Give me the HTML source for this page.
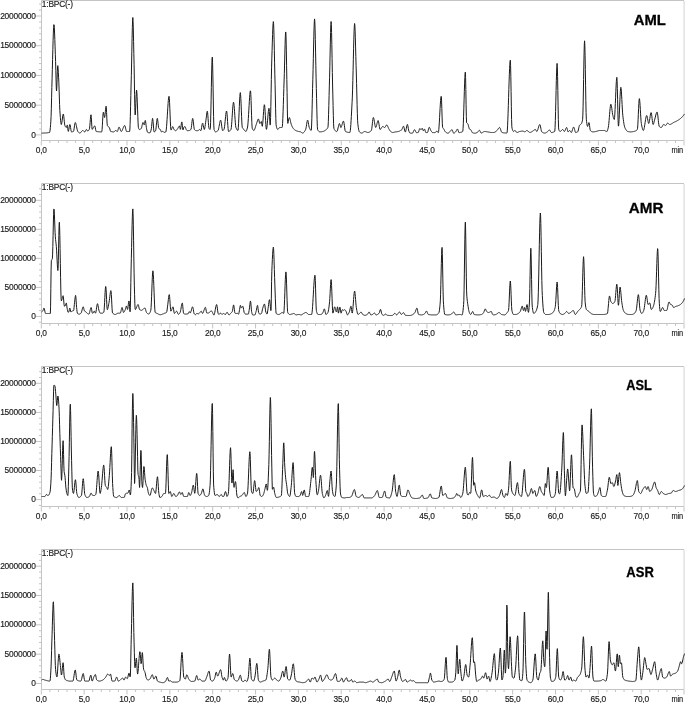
<!DOCTYPE html>
<html><head><meta charset="utf-8"><style>
html,body{margin:0;padding:0;background:#fff;}
svg{display:block;filter:grayscale(1) blur(0.3px);}
text{font-family:"Liberation Sans",sans-serif;font-size:8.4px;letter-spacing:-0.2px;fill:#1a1a1a;stroke:#1a1a1a;stroke-width:0.15px;}
text.b{letter-spacing:0;font-weight:bold;font-size:15.4px;fill:#000;stroke:#000;stroke-width:0.3px;}
</style></head><body>
<svg width="685" height="703" viewBox="0 0 685 703">
<path d="M684.1 1.00V140.00" fill="none" stroke="#e6e6e6" stroke-width="1.8"/>
<path d="M41.5 0.50H684M41.5 0.50V140.50H684" fill="none" stroke="#c4c4c4" stroke-width="1"/>
<path d="M36 134.90H41.5M39 128.96H41.5M39 123.01H41.5M39 117.06H41.5M39 111.12H41.5M36 105.18H41.5M39 99.23H41.5M39 93.28H41.5M39 87.34H41.5M39 81.40H41.5M36 75.45H41.5M39 69.50H41.5M39 63.56H41.5M39 57.62H41.5M39 51.67H41.5M36 45.72H41.5M39 39.78H41.5M39 33.84H41.5M39 27.89H41.5M39 21.94H41.5M36 16.00H41.5M39 10.06H41.5M39 4.11H41.5M41.30 140.50V145.50M49.87 140.50V143.00M58.44 140.50V143.00M67.01 140.50V143.00M75.58 140.50V143.00M84.15 140.50V145.50M92.72 140.50V143.00M101.29 140.50V143.00M109.86 140.50V143.00M118.43 140.50V143.00M127.00 140.50V145.50M135.57 140.50V143.00M144.14 140.50V143.00M152.71 140.50V143.00M161.28 140.50V143.00M169.85 140.50V145.50M178.42 140.50V143.00M186.99 140.50V143.00M195.56 140.50V143.00M204.13 140.50V143.00M212.70 140.50V145.50M221.27 140.50V143.00M229.84 140.50V143.00M238.41 140.50V143.00M246.98 140.50V143.00M255.55 140.50V145.50M264.12 140.50V143.00M272.69 140.50V143.00M281.26 140.50V143.00M289.83 140.50V143.00M298.40 140.50V145.50M306.97 140.50V143.00M315.54 140.50V143.00M324.11 140.50V143.00M332.68 140.50V143.00M341.25 140.50V145.50M349.82 140.50V143.00M358.39 140.50V143.00M366.96 140.50V143.00M375.53 140.50V143.00M384.10 140.50V145.50M392.67 140.50V143.00M401.24 140.50V143.00M409.81 140.50V143.00M418.38 140.50V143.00M426.95 140.50V145.50M435.52 140.50V143.00M444.09 140.50V143.00M452.66 140.50V143.00M461.23 140.50V143.00M469.80 140.50V145.50M478.37 140.50V143.00M486.94 140.50V143.00M495.51 140.50V143.00M504.08 140.50V143.00M512.65 140.50V145.50M521.22 140.50V143.00M529.79 140.50V143.00M538.36 140.50V143.00M546.93 140.50V143.00M555.50 140.50V145.50M564.07 140.50V143.00M572.64 140.50V143.00M581.21 140.50V143.00M589.78 140.50V143.00M598.35 140.50V145.50M606.92 140.50V143.00M615.49 140.50V143.00M624.06 140.50V143.00M632.63 140.50V143.00M641.20 140.50V145.50M649.77 140.50V143.00M658.34 140.50V143.00M666.91 140.50V143.00M675.48 140.50V143.00M684.05 140.50V145.50" stroke="#c4c4c4" stroke-width="1"/>
<text x="35.8" y="137.50" text-anchor="end">0</text>
<text x="35.8" y="107.78" text-anchor="end">5000000</text>
<text x="35.8" y="78.05" text-anchor="end">10000000</text>
<text x="35.8" y="48.32" text-anchor="end">15000000</text>
<text x="35.8" y="18.60" text-anchor="end">20000000</text>
<text x="41.30" y="153.10" text-anchor="middle">0,0</text>
<text x="84.15" y="153.10" text-anchor="middle">5,0</text>
<text x="127.00" y="153.10" text-anchor="middle">10,0</text>
<text x="169.85" y="153.10" text-anchor="middle">15,0</text>
<text x="212.70" y="153.10" text-anchor="middle">20,0</text>
<text x="255.55" y="153.10" text-anchor="middle">25,0</text>
<text x="298.40" y="153.10" text-anchor="middle">30,0</text>
<text x="341.25" y="153.10" text-anchor="middle">35,0</text>
<text x="384.10" y="153.10" text-anchor="middle">40,0</text>
<text x="426.95" y="153.10" text-anchor="middle">45,0</text>
<text x="469.80" y="153.10" text-anchor="middle">50,0</text>
<text x="512.65" y="153.10" text-anchor="middle">55,0</text>
<text x="555.50" y="153.10" text-anchor="middle">60,0</text>
<text x="598.35" y="153.10" text-anchor="middle">65,0</text>
<text x="641.20" y="153.10" text-anchor="middle">70,0</text>
<text x="671.6" y="153.10" textLength="11.4" lengthAdjust="spacingAndGlyphs">min</text>
<text x="41.8" y="6.90">1:BPC(-)</text>
<polyline points="41.59,133.1 41.84,133.1 42.09,133.1 42.34,133.1 42.59,133.1 42.84,133.1 43.09,133.1 43.34,133.1 43.59,133.0 43.84,133.0 44.09,133.0 44.34,133.0 44.59,133.0 44.84,133.0 45.09,133.0 45.34,133.0 45.59,133.0 45.84,132.9 46.09,132.9 46.34,132.9 46.59,132.9 46.84,132.9 47.09,132.8 47.34,132.8 47.59,132.8 47.84,132.7 48.09,132.7 48.34,132.7 48.59,132.6 48.84,132.6 49.09,132.6 49.34,132.5 49.59,132.5 49.84,131.8 50.09,130.1 50.34,127.7 50.59,124.7 50.84,121.2 51.09,116.6 51.34,108.3 51.59,97.8 51.84,87.5 52.09,78.8 52.34,69.4 52.59,59.4 52.84,49.7 53.09,40.7 53.34,33.1 53.59,27.5 53.84,24.6 54.09,24.8 54.34,27.9 54.59,33.0 54.84,39.6 55.09,46.9 55.34,54.3 55.59,61.4 55.84,70.7 56.09,81.1 56.34,89.0 56.59,91.0 56.84,86.9 57.09,79.5 57.34,71.7 57.59,66.3 57.84,65.6 58.09,68.1 58.34,72.3 58.59,77.2 58.84,82.2 59.09,89.1 59.34,97.0 59.59,104.5 59.84,110.3 60.09,114.0 60.34,117.3 60.59,120.2 60.84,122.5 61.09,124.0 61.34,124.5 61.59,123.9 61.84,122.7 62.09,120.9 62.34,119.0 62.59,117.0 62.84,115.4 63.09,114.3 63.34,114.0 63.59,114.8 63.84,116.7 64.09,119.2 64.34,121.7 64.59,123.9 64.84,125.3 65.09,125.9 65.34,126.5 65.59,126.9 65.84,127.2 66.09,127.4 66.34,127.5 66.59,127.0 66.84,126.1 67.09,125.3 67.34,125.2 67.59,126.5 67.84,128.8 68.09,130.8 68.34,131.4 68.59,130.8 68.84,129.5 69.09,127.9 69.34,126.3 69.59,125.1 69.84,124.5 70.09,124.9 70.34,126.0 70.59,127.6 70.84,129.3 71.09,130.8 71.34,131.7 71.59,131.9 71.84,131.9 72.09,131.8 72.34,131.8 72.59,131.7 72.84,131.7 73.09,131.6 73.34,131.5 73.59,131.3 73.84,130.4 74.09,128.8 74.34,127.0 74.59,125.2 74.84,123.7 75.09,122.7 75.34,122.5 75.59,122.9 75.84,123.5 76.09,124.5 76.34,125.6 76.59,126.8 76.84,128.0 77.09,129.2 77.34,130.2 77.59,131.0 77.84,131.5 78.09,131.8 78.34,132.1 78.59,132.3 78.84,132.6 79.09,132.8 79.34,132.9 79.59,133.0 79.84,133.1 80.09,133.0 80.34,132.9 80.59,132.7 80.84,132.4 81.09,132.1 81.34,131.8 81.59,131.4 81.84,131.1 82.09,130.9 82.34,130.7 82.59,130.5 82.84,130.5 83.09,130.5 83.34,130.7 83.59,130.9 83.84,131.2 84.09,131.5 84.34,131.7 84.59,131.8 84.84,131.9 85.09,131.7 85.34,131.3 85.59,130.7 85.84,130.2 86.09,129.7 86.34,129.5 86.59,129.6 86.84,129.8 87.09,130.2 87.34,130.7 87.59,131.0 87.84,131.1 88.09,131.0 88.34,130.8 88.59,130.5 88.84,130.2 89.09,129.7 89.34,129.2 89.59,128.2 89.84,125.8 90.09,122.8 90.34,119.5 90.59,116.7 90.84,114.9 91.09,114.8 91.34,117.6 91.59,122.0 91.84,126.4 92.09,129.2 92.34,129.4 92.59,129.1 92.84,128.6 93.09,128.0 93.34,127.6 93.59,127.2 93.84,126.8 94.09,126.4 94.34,126.1 94.59,125.9 94.84,125.9 95.09,126.6 95.34,127.9 95.59,129.3 95.84,130.6 96.09,131.4 96.34,131.5 96.59,131.5 96.84,131.6 97.09,131.6 97.34,131.6 97.59,131.7 97.84,131.7 98.09,131.7 98.34,131.7 98.59,131.8 98.84,131.8 99.09,131.8 99.34,131.8 99.59,131.8 99.84,131.8 100.09,131.8 100.34,131.9 100.59,131.9 100.84,131.9 101.09,131.9 101.34,131.9 101.59,131.9 101.84,131.7 102.09,129.6 102.34,125.8 102.59,121.2 102.84,116.8 103.09,113.5 103.34,112.2 103.59,112.7 103.84,114.2 104.09,115.8 104.34,117.1 104.59,117.5 104.84,116.5 105.09,114.4 105.34,111.8 105.59,109.2 105.84,107.2 106.09,106.2 106.34,107.7 106.59,112.3 106.84,118.1 107.09,123.2 107.34,125.5 107.59,125.9 107.84,126.3 108.09,126.5 108.34,126.6 108.59,126.8 108.84,127.0 109.09,127.2 109.34,127.5 109.59,128.1 109.84,129.0 110.09,130.0 110.34,130.8 110.59,131.4 110.84,131.5 111.09,131.6 111.34,131.6 111.59,131.7 111.84,131.7 112.09,131.8 112.34,131.8 112.59,131.8 112.84,131.8 113.09,131.9 113.34,131.9 113.59,131.9 113.84,131.9 114.09,131.7 114.34,131.5 114.59,131.3 114.84,131.0 115.09,130.8 115.34,130.6 115.59,130.5 115.84,130.5 116.09,130.6 116.34,130.8 116.59,131.1 116.84,131.3 117.09,131.4 117.34,131.5 117.59,131.1 117.84,130.5 118.09,129.6 118.34,128.7 118.59,127.9 118.84,127.3 119.09,127.1 119.34,127.3 119.59,127.7 119.84,128.3 120.09,129.0 120.34,129.8 120.59,130.5 120.84,131.0 121.09,131.4 121.34,131.5 121.59,131.3 121.84,131.0 122.09,130.6 122.34,130.1 122.59,129.5 122.84,128.8 123.09,128.2 123.34,127.5 123.59,126.9 123.84,126.4 124.09,125.9 124.34,125.6 124.59,125.5 124.84,125.6 125.09,126.2 125.34,127.1 125.59,128.2 125.84,129.3 126.09,130.3 126.34,131.1 126.59,131.5 126.84,131.5 127.09,131.5 127.34,131.5 127.59,131.5 127.84,131.5 128.09,131.5 128.34,131.5 128.59,131.5 128.84,131.5 129.09,131.5 129.34,131.5 129.59,131.5 129.84,130.0 130.09,124.6 130.34,116.3 130.59,106.2 130.84,95.4 131.09,85.0 131.34,75.5 131.59,64.0 131.84,51.2 132.09,38.5 132.34,27.7 132.59,20.1 132.84,17.5 133.09,21.3 133.34,30.0 133.59,41.5 133.84,53.6 134.09,64.8 134.34,79.1 134.59,94.5 134.84,107.6 135.09,115.0 135.34,114.6 135.59,110.1 135.84,103.7 136.09,97.0 136.34,91.9 136.59,90.1 136.84,92.0 137.09,96.6 137.34,102.9 137.59,109.9 137.84,116.6 138.09,122.9 138.34,127.3 138.59,128.2 138.84,128.9 139.09,129.3 139.34,129.5 139.59,129.5 139.84,129.5 140.09,129.4 140.34,129.2 140.59,129.1 140.84,128.8 141.09,128.6 141.34,128.4 141.59,127.7 141.84,126.7 142.09,125.5 142.34,124.3 142.59,123.3 142.84,122.6 143.09,122.5 143.34,123.0 143.59,123.7 143.84,124.4 144.09,124.8 144.34,124.7 144.59,123.6 144.84,122.1 145.09,120.8 145.34,120.4 145.59,121.3 145.84,123.2 146.09,125.4 146.34,127.4 146.59,128.8 146.84,129.9 147.09,131.0 147.34,131.8 147.59,132.3 147.84,132.4 148.09,132.5 148.34,132.6 148.59,132.7 148.84,132.7 149.09,132.7 149.34,132.8 149.59,132.8 149.84,132.8 150.09,132.8 150.34,132.4 150.59,131.8 150.84,130.9 151.09,130.0 151.34,128.8 151.59,126.6 151.84,123.9 152.09,121.3 152.34,119.3 152.59,118.4 152.84,119.3 153.09,121.7 153.34,125.0 153.59,128.2 153.84,130.8 154.09,131.9 154.34,131.9 154.59,131.8 154.84,131.6 155.09,131.3 155.34,131.1 155.59,130.7 155.84,129.8 156.09,127.9 156.34,125.4 156.59,122.8 156.84,120.5 157.09,118.9 157.34,118.4 157.59,119.3 157.84,121.2 158.09,123.5 158.34,125.8 158.59,127.6 158.84,128.4 159.09,128.7 159.34,128.9 159.59,129.0 159.84,129.1 160.09,129.3 160.34,129.5 160.59,130.0 160.84,130.7 161.09,131.3 161.34,131.8 161.59,131.9 161.84,131.8 162.09,131.7 162.34,131.5 162.59,131.4 162.84,131.3 163.09,131.4 163.34,131.7 163.59,132.0 163.84,132.3 164.09,132.4 164.34,132.4 164.59,132.3 164.84,132.3 165.09,132.2 165.34,132.1 165.59,132.0 165.84,131.9 166.09,131.0 166.34,129.1 166.59,126.4 166.84,123.0 167.09,119.2 167.34,115.2 167.59,111.1 167.84,107.2 168.09,103.5 168.34,100.4 168.59,98.1 168.84,96.6 169.09,96.3 169.34,98.3 169.59,102.7 169.84,108.5 170.09,114.9 170.34,121.1 170.59,126.2 170.84,129.4 171.09,130.1 171.34,129.8 171.59,129.2 171.84,128.5 172.09,127.8 172.34,127.2 172.59,126.7 172.84,126.6 173.09,127.0 173.34,127.7 173.59,128.5 173.84,129.2 174.09,129.6 174.34,129.9 174.59,130.1 174.84,130.3 175.09,130.5 175.34,130.6 175.59,130.7 175.84,130.7 176.09,130.6 176.34,130.4 176.59,130.1 176.84,129.8 177.09,129.4 177.34,129.1 177.59,128.8 177.84,128.4 178.09,128.0 178.34,127.5 178.59,127.0 178.84,126.6 179.09,126.2 179.34,126.0 179.59,126.1 179.84,127.1 180.09,128.5 180.34,129.4 180.59,129.1 180.84,127.8 181.09,125.8 181.34,123.9 181.59,122.4 181.84,121.9 182.09,123.1 182.34,125.3 182.59,127.8 182.84,129.7 183.09,130.0 183.34,129.3 183.59,128.1 183.84,127.3 184.09,127.0 184.34,126.9 184.59,126.7 184.84,126.6 185.09,126.6 185.34,126.9 185.59,127.6 185.84,128.5 186.09,129.3 186.34,129.7 186.59,130.1 186.84,130.4 187.09,130.6 187.34,130.7 187.59,130.7 187.84,130.7 188.09,130.7 188.34,130.6 188.59,130.6 188.84,130.6 189.09,130.5 189.34,130.5 189.59,130.4 189.84,130.3 190.09,130.2 190.34,130.0 190.59,129.8 190.84,129.6 191.09,129.0 191.34,127.6 191.59,125.6 191.84,123.4 192.09,121.2 192.34,119.5 192.59,118.5 192.84,118.6 193.09,119.8 193.34,121.7 193.59,124.0 193.84,126.3 194.09,128.2 194.34,129.4 194.59,129.7 194.84,130.0 195.09,130.2 195.34,130.4 195.59,130.5 195.84,130.6 196.09,130.7 196.34,130.7 196.59,130.7 196.84,130.7 197.09,130.7 197.34,130.7 197.59,130.7 197.84,130.7 198.09,130.7 198.34,130.5 198.59,130.3 198.84,130.1 199.09,129.8 199.34,129.6 199.59,129.5 199.84,129.6 200.09,129.8 200.34,130.2 200.59,130.6 200.84,130.7 201.09,130.2 201.34,129.1 201.59,127.6 201.84,126.0 202.09,124.6 202.34,123.5 202.59,123.1 202.84,123.4 203.09,124.4 203.34,125.7 203.59,127.1 203.84,128.3 204.09,129.2 204.34,129.5 204.59,129.0 204.84,128.0 205.09,126.4 205.34,124.6 205.59,122.7 205.84,120.8 206.09,119.1 206.34,117.2 206.59,115.1 206.84,113.0 207.09,111.6 207.34,111.2 207.59,112.5 207.84,115.2 208.09,118.6 208.34,122.3 208.59,125.5 208.84,127.7 209.09,128.5 209.34,128.9 209.59,129.2 209.84,129.4 210.09,129.5 210.34,128.6 210.59,122.8 210.84,113.0 211.09,100.8 211.34,87.6 211.59,75.1 211.84,64.8 212.09,58.3 212.34,57.1 212.59,62.9 212.84,73.9 213.09,88.1 213.34,103.0 213.59,116.4 213.84,126.0 214.09,129.6 214.34,130.2 214.59,130.8 214.84,131.2 215.09,131.6 215.34,131.8 215.59,131.9 215.84,131.9 216.09,131.8 216.34,131.7 216.59,131.6 216.84,131.5 217.09,131.3 217.34,131.1 217.59,130.9 217.84,130.7 218.09,130.4 218.34,129.9 218.59,128.9 218.84,127.8 219.09,126.4 219.34,125.0 219.59,123.6 219.84,122.3 220.09,121.2 220.34,120.5 220.59,120.1 220.84,120.4 221.09,121.5 221.34,123.1 221.59,125.0 221.84,126.9 222.09,128.6 222.34,129.9 222.59,130.5 222.84,130.4 223.09,130.3 223.34,130.2 223.59,129.9 223.84,129.7 224.09,129.3 224.34,128.2 224.59,126.4 224.84,124.2 225.09,121.7 225.34,119.1 225.59,116.6 225.84,114.4 226.09,112.5 226.34,111.3 226.59,111.0 226.84,112.0 227.09,114.4 227.34,117.8 227.59,121.6 227.84,125.3 228.09,128.6 228.34,130.8 228.59,131.5 228.84,131.4 229.09,131.4 229.34,131.2 229.59,131.1 229.84,130.9 230.09,130.6 230.34,130.3 230.59,130.0 230.84,129.7 231.09,129.1 231.34,127.4 231.59,124.8 231.84,121.5 232.09,117.8 232.34,113.9 232.59,110.2 232.84,106.9 233.09,104.3 233.34,102.6 233.59,102.2 233.84,103.2 234.09,105.3 234.34,108.3 234.59,111.8 234.84,115.6 235.09,119.4 235.34,122.7 235.59,125.4 235.84,127.2 236.09,127.9 236.34,128.5 236.59,129.0 236.84,129.5 237.09,129.9 237.34,130.2 237.59,130.4 237.84,130.5 238.09,130.0 238.34,127.4 238.59,123.3 238.84,118.1 239.09,112.3 239.34,106.4 239.59,101.0 239.84,96.5 240.09,93.6 240.34,92.6 240.59,94.4 240.84,98.4 241.09,103.9 241.34,110.2 241.59,116.5 241.84,122.0 242.09,125.9 242.34,127.6 242.59,128.0 242.84,128.4 243.09,128.7 243.34,128.9 243.59,129.2 243.84,129.4 244.09,129.7 244.34,130.0 244.59,130.4 244.84,130.7 245.09,131.0 245.34,131.2 245.59,131.4 245.84,131.5 246.09,131.4 246.34,131.1 246.59,130.5 246.84,129.8 247.09,129.0 247.34,128.1 247.59,127.0 247.84,125.0 248.09,122.1 248.34,118.5 248.59,114.4 248.84,110.1 249.09,105.7 249.34,101.5 249.59,97.7 249.84,94.5 250.09,92.1 250.34,90.8 250.59,91.1 250.84,94.6 251.09,100.6 251.34,108.1 251.59,115.8 251.84,122.5 252.09,127.1 252.34,128.7 252.59,129.2 252.84,129.6 253.09,130.0 253.34,130.2 253.59,130.4 253.84,130.5 254.09,130.4 254.34,130.0 254.59,129.5 254.84,128.9 255.09,128.1 255.34,127.3 255.59,126.5 255.84,125.7 256.09,124.9 256.34,124.3 256.59,123.5 256.84,122.7 257.09,121.9 257.34,121.0 257.59,120.3 257.84,119.7 258.09,119.2 258.34,118.9 258.59,119.1 258.84,119.8 259.09,121.0 259.34,122.2 259.59,123.1 259.84,123.5 260.09,123.4 260.34,123.0 260.59,122.6 260.84,122.1 261.09,121.7 261.34,121.5 261.59,122.0 261.84,124.1 262.09,126.1 262.34,126.3 262.59,124.9 262.84,122.3 263.09,119.0 263.34,115.3 263.59,111.6 263.84,108.4 264.09,105.9 264.34,104.7 264.59,105.1 264.84,107.5 265.09,111.2 265.34,115.6 265.59,120.3 265.84,124.5 266.09,127.8 266.34,129.4 266.59,129.2 266.84,127.9 267.09,125.9 267.34,123.2 267.59,120.2 267.84,117.2 268.09,114.2 268.34,111.6 268.59,109.6 268.84,108.4 269.09,108.4 269.34,111.6 269.59,116.7 269.84,121.8 270.09,125.1 270.34,124.3 270.59,117.6 270.84,106.7 271.09,93.3 271.34,79.5 271.59,67.2 271.84,58.2 272.09,50.2 272.34,42.1 272.59,34.5 272.84,28.1 273.09,23.6 273.34,21.6 273.59,23.3 273.84,29.6 274.09,39.2 274.34,50.7 274.59,62.8 274.84,74.2 275.09,84.3 275.34,96.0 275.59,108.2 275.84,118.5 276.09,124.7 276.34,126.3 276.59,127.3 276.84,128.1 277.09,128.7 277.34,129.2 277.59,129.4 277.84,129.5 278.09,129.3 278.34,129.1 278.59,128.7 278.84,128.4 279.09,128.0 279.34,127.7 279.59,127.5 279.84,127.5 280.09,127.5 280.34,127.5 280.59,127.5 280.84,127.5 281.09,127.5 281.34,127.5 281.59,127.5 281.84,127.5 282.09,127.5 282.34,126.7 282.59,123.5 282.84,118.4 283.09,111.8 283.34,104.3 283.59,96.4 283.84,88.4 284.09,81.0 284.34,73.5 284.59,64.0 284.84,53.9 285.09,44.4 285.34,36.7 285.59,32.1 285.84,32.0 286.09,39.0 286.34,50.9 286.59,65.3 286.84,79.3 287.09,92.7 287.34,109.1 287.59,121.3 287.84,123.4 288.09,122.7 288.34,121.5 288.59,120.1 288.84,118.8 289.09,117.9 289.34,117.5 289.59,117.8 289.84,118.5 290.09,119.4 290.34,120.5 290.59,121.7 290.84,122.8 291.09,123.8 291.34,124.6 291.59,125.2 291.84,125.8 292.09,126.4 292.34,126.9 292.59,127.4 292.84,127.8 293.09,128.2 293.34,128.5 293.59,128.8 293.84,129.1 294.09,129.3 294.34,129.6 294.59,129.8 294.84,130.0 295.09,130.1 295.34,130.3 295.59,130.4 295.84,130.5 296.09,130.7 296.34,130.8 296.59,130.9 296.84,130.9 297.09,131.0 297.34,131.1 297.59,131.2 297.84,131.3 298.09,131.3 298.34,131.4 298.59,131.5 298.84,131.5 299.09,131.6 299.34,131.6 299.59,131.6 299.84,131.7 300.09,131.7 300.34,131.8 300.59,131.8 300.84,131.9 301.09,132.1 301.34,132.3 301.59,132.5 301.84,132.7 302.09,132.9 302.34,133.0 302.59,133.1 302.84,133.1 303.09,133.0 303.34,132.8 303.59,132.6 303.84,132.4 304.09,132.1 304.34,131.8 304.59,131.4 304.84,131.0 305.09,130.6 305.34,130.1 305.59,129.6 305.84,128.9 306.09,127.8 306.34,126.3 306.59,124.7 306.84,123.1 307.09,121.7 307.34,120.6 307.59,120.1 307.84,120.4 308.09,121.3 308.34,122.7 308.59,124.3 308.84,125.8 309.09,127.0 309.34,127.7 309.59,128.3 309.84,128.8 310.09,129.3 310.34,129.7 310.59,130.1 310.84,130.3 311.09,130.5 311.34,130.0 311.59,126.0 311.84,118.7 312.09,109.2 312.34,98.7 312.59,88.3 312.84,79.2 313.09,69.6 313.34,58.5 313.59,47.0 313.84,36.2 314.09,27.2 314.34,21.1 314.59,18.9 314.84,21.8 315.09,29.2 315.34,39.7 315.59,52.1 315.84,65.3 316.09,77.8 316.34,88.5 316.59,98.3 316.84,109.2 317.09,119.3 317.34,126.7 317.59,129.5 317.84,130.0 318.09,130.5 318.34,130.8 318.59,131.1 318.84,131.4 319.09,131.6 319.34,131.7 319.59,131.8 319.84,131.9 320.09,131.9 320.34,131.9 320.59,131.8 320.84,131.8 321.09,131.8 321.34,131.8 321.59,131.7 321.84,131.7 322.09,131.6 322.34,131.6 322.59,131.5 322.84,131.5 323.09,131.4 323.34,131.4 323.59,131.3 323.84,131.2 324.09,131.1 324.34,130.9 324.59,130.8 324.84,130.6 325.09,130.4 325.34,130.3 325.59,130.1 325.84,129.9 326.09,129.7 326.34,129.5 326.59,129.3 326.84,129.1 327.09,128.8 327.34,128.5 327.59,128.2 327.84,127.7 328.09,126.2 328.34,121.5 328.59,114.2 328.84,105.3 329.09,95.5 329.34,85.9 329.59,77.2 329.84,66.8 330.09,54.9 330.34,42.9 330.59,32.4 330.84,24.7 331.09,21.5 331.34,24.3 331.59,32.5 331.84,44.6 332.09,58.5 332.34,72.6 332.59,85.0 332.84,94.9 333.09,105.4 333.34,115.6 333.59,123.8 333.84,128.2 334.09,128.9 334.34,129.4 334.59,129.8 334.84,130.2 335.09,130.5 335.34,130.8 335.59,131.0 335.84,131.2 336.09,131.3 336.34,131.4 336.59,131.5 336.84,131.5 337.09,131.3 337.34,130.8 337.59,130.0 337.84,129.0 338.09,127.9 338.34,126.8 338.59,125.7 338.84,124.7 339.09,124.0 339.34,123.6 339.59,123.6 339.84,124.2 340.09,125.1 340.34,126.2 340.59,127.1 340.84,127.5 341.09,127.4 341.34,126.9 341.59,126.3 341.84,125.5 342.09,124.6 342.34,123.7 342.59,122.8 342.84,122.0 343.09,121.5 343.34,121.2 343.59,121.2 343.84,122.1 344.09,123.5 344.34,125.3 344.59,127.2 344.84,129.0 345.09,130.4 345.34,131.3 345.59,131.5 345.84,131.7 346.09,131.8 346.34,131.9 346.59,131.9 346.84,132.0 347.09,132.1 347.34,132.2 347.59,132.2 347.84,132.3 348.09,132.3 348.34,132.4 348.59,132.4 348.84,132.4 349.09,132.4 349.34,132.5 349.59,132.5 349.84,132.5 350.09,131.9 350.34,130.3 350.59,127.9 350.84,124.7 351.09,120.8 351.34,116.6 351.59,112.0 351.84,107.1 352.09,102.3 352.34,97.1 352.59,89.9 352.84,80.7 353.09,70.3 353.34,59.4 353.59,48.8 353.84,39.2 354.09,31.3 354.34,25.8 354.59,23.5 354.84,25.1 355.09,30.2 355.34,37.8 355.59,46.9 355.84,56.5 356.09,65.7 356.34,74.0 356.59,83.6 356.84,94.0 357.09,104.3 357.34,113.3 357.59,120.2 357.84,123.8 358.09,125.9 358.34,127.7 358.59,129.2 358.84,130.4 359.09,131.3 359.34,131.8 359.59,132.1 359.84,132.3 360.09,132.5 360.34,132.6 360.59,132.8 360.84,132.9 361.09,133.0 361.34,133.0 361.59,133.1 361.84,133.1 362.09,133.0 362.34,132.9 362.59,132.8 362.84,132.6 363.09,132.4 363.34,132.2 363.59,132.0 363.84,131.8 364.09,131.7 364.34,131.6 364.59,131.5 364.84,131.5 365.09,131.5 365.34,131.6 365.59,131.7 365.84,131.8 366.09,131.9 366.34,132.0 366.59,132.1 366.84,132.2 367.09,132.3 367.34,132.4 367.59,132.5 367.84,132.5 368.09,132.5 368.34,132.4 368.59,132.4 368.84,132.3 369.09,132.2 369.34,132.1 369.59,132.0 369.84,131.8 370.09,131.6 370.34,131.4 370.59,131.2 370.84,131.0 371.09,130.8 371.34,130.5 371.59,129.8 371.84,128.2 372.09,126.1 372.34,123.8 372.59,121.5 372.84,119.5 373.09,118.1 373.34,117.5 373.59,117.8 373.84,118.6 374.09,119.8 374.34,121.3 374.59,122.8 374.84,124.4 375.09,125.7 375.34,126.8 375.59,127.4 375.84,127.4 376.09,127.1 376.34,126.4 376.59,125.4 376.84,124.4 377.09,123.3 377.34,122.3 377.59,121.4 377.84,120.8 378.09,120.5 378.34,120.8 378.59,121.8 378.84,123.2 379.09,124.8 379.34,126.5 379.59,127.9 379.84,129.0 380.09,129.5 380.34,129.4 380.59,129.2 380.84,128.9 381.09,128.5 381.34,128.1 381.59,127.7 381.84,127.3 382.09,126.9 382.34,126.7 382.59,126.5 382.84,126.5 383.09,126.6 383.34,126.7 383.59,126.9 383.84,127.1 384.09,127.3 384.34,127.4 384.59,127.5 384.84,127.5 385.09,127.2 385.34,126.9 385.59,126.4 385.84,125.9 386.09,125.5 386.34,125.1 386.59,124.9 386.84,124.9 387.09,125.2 387.34,125.6 387.59,126.1 387.84,126.6 388.09,127.2 388.34,127.8 388.59,128.3 388.84,128.8 389.09,129.2 389.34,129.6 389.59,130.1 389.84,130.5 390.09,130.8 390.34,131.2 390.59,131.4 390.84,131.6 391.09,131.8 391.34,132.0 391.59,132.1 391.84,132.2 392.09,132.4 392.34,132.4 392.59,132.5 392.84,132.5 393.09,132.4 393.34,132.4 393.59,132.4 393.84,132.3 394.09,132.2 394.34,132.2 394.59,132.1 394.84,132.1 395.09,132.0 395.34,131.9 395.59,131.9 395.84,131.8 396.09,131.8 396.34,131.8 396.59,131.8 396.84,131.7 397.09,131.7 397.34,131.7 397.59,131.6 397.84,131.6 398.09,131.6 398.34,131.5 398.59,131.5 398.84,131.4 399.09,131.3 399.34,131.2 399.59,131.0 399.84,130.9 400.09,130.8 400.34,130.6 400.59,130.5 400.84,130.4 401.09,130.2 401.34,130.1 401.59,129.9 401.84,129.7 402.09,129.2 402.34,128.6 402.59,127.9 402.84,127.2 403.09,126.7 403.34,126.3 403.59,126.2 403.84,126.7 404.09,127.6 404.34,128.8 404.59,130.0 404.84,131.0 405.09,131.8 405.34,132.0 405.59,131.6 405.84,130.8 406.09,129.6 406.34,128.3 406.59,126.9 406.84,125.8 407.09,124.9 407.34,124.4 407.59,124.6 407.84,125.6 408.09,127.0 408.34,128.6 408.59,130.0 408.84,130.9 409.09,131.6 409.34,132.2 409.59,132.7 409.84,133.0 410.09,133.0 410.34,133.1 410.59,133.1 410.84,133.1 411.09,133.2 411.34,133.2 411.59,133.2 411.84,133.2 412.09,133.2 412.34,133.2 412.59,133.1 412.84,132.7 413.09,132.3 413.34,131.7 413.59,131.1 413.84,130.6 414.09,130.1 414.34,129.8 414.59,129.7 414.84,129.8 415.09,130.2 415.34,130.8 415.59,131.4 415.84,131.9 416.09,132.4 416.34,132.6 416.59,132.6 416.84,132.6 417.09,132.6 417.34,132.6 417.59,132.6 417.84,132.6 418.09,132.6 418.34,132.4 418.59,131.9 418.84,131.1 419.09,130.3 419.34,129.5 419.59,128.8 419.84,128.5 420.09,128.6 420.34,128.9 420.59,129.3 420.84,129.6 421.09,129.7 421.34,129.4 421.59,129.0 421.84,128.6 422.09,128.3 422.34,128.4 422.59,128.9 422.84,129.7 423.09,130.4 423.34,130.8 423.59,130.7 423.84,130.2 424.09,129.6 424.34,129.2 424.59,129.1 424.84,129.6 425.09,130.4 425.34,131.4 425.59,132.1 425.84,132.6 426.09,132.6 426.34,132.6 426.59,132.6 426.84,132.6 427.09,132.6 427.34,132.6 427.59,132.4 427.84,131.8 428.09,130.9 428.34,129.8 428.59,128.7 428.84,127.9 429.09,127.4 429.34,127.3 429.59,127.6 429.84,128.1 430.09,128.7 430.34,129.4 430.59,130.0 430.84,130.5 431.09,130.9 431.34,131.3 431.59,131.6 431.84,132.0 432.09,132.3 432.34,132.5 432.59,132.6 432.84,132.6 433.09,132.6 433.34,132.6 433.59,132.6 433.84,132.6 434.09,132.6 434.34,132.6 434.59,132.6 434.84,132.6 435.09,132.6 435.34,132.5 435.59,132.2 435.84,131.9 436.09,131.6 436.34,131.3 436.59,131.2 436.84,131.1 437.09,131.2 437.34,131.5 437.59,131.9 437.84,132.3 438.09,132.5 438.34,132.6 438.59,131.6 438.84,129.4 439.09,126.1 439.34,122.1 439.59,117.6 439.84,113.0 440.09,108.4 440.34,104.1 440.59,100.5 440.84,97.8 441.09,96.3 441.34,96.6 441.59,101.1 441.84,108.6 442.09,116.9 442.34,123.8 442.59,127.3 442.84,127.8 443.09,128.2 443.34,128.5 443.59,128.8 443.84,129.2 444.09,129.6 444.34,130.1 444.59,130.6 444.84,131.1 445.09,131.5 445.34,131.8 445.59,132.1 445.84,132.3 446.09,132.4 446.34,132.6 446.59,132.8 446.84,132.9 447.09,133.0 447.34,133.1 447.59,133.2 447.84,133.2 448.09,133.2 448.34,133.1 448.59,132.9 448.84,132.7 449.09,132.5 449.34,132.2 449.59,132.0 449.84,131.8 450.09,131.5 450.34,131.2 450.59,130.9 450.84,130.6 451.09,130.3 451.34,130.0 451.59,129.8 451.84,129.7 452.09,129.7 452.34,130.1 452.59,130.7 452.84,131.4 453.09,132.2 453.34,132.8 453.59,133.2 453.84,133.2 454.09,133.1 454.34,133.0 454.59,132.8 454.84,132.6 455.09,132.4 455.34,132.2 455.59,131.9 455.84,131.6 456.09,131.1 456.34,130.6 456.59,130.2 456.84,129.7 457.09,129.4 457.34,129.1 457.59,129.1 457.84,129.5 458.09,130.3 458.34,131.1 458.59,131.9 458.84,132.5 459.09,132.6 459.34,132.6 459.59,132.6 459.84,132.5 460.09,132.5 460.34,132.4 460.59,132.4 460.84,132.3 461.09,132.3 461.34,132.2 461.59,132.1 461.84,132.0 462.09,131.9 462.34,131.8 462.59,131.6 462.84,131.2 463.09,128.3 463.34,123.2 463.59,116.2 463.84,108.2 464.09,99.8 464.34,91.4 464.59,83.9 464.84,77.7 465.09,73.6 465.34,72.1 465.59,77.3 465.84,89.5 466.09,104.2 466.34,116.7 466.59,122.7 466.84,123.0 467.09,123.2 467.34,123.4 467.59,123.6 467.84,123.9 468.09,124.4 468.34,125.3 468.59,126.3 468.84,127.3 469.09,128.2 469.34,128.9 469.59,129.2 469.84,129.3 470.09,129.4 470.34,129.5 470.59,129.6 470.84,129.8 471.09,130.2 471.34,130.7 471.59,131.3 471.84,131.8 472.09,132.3 472.34,132.6 472.59,132.7 472.84,132.8 473.09,132.9 473.34,133.0 473.59,133.0 473.84,133.1 474.09,133.1 474.34,133.2 474.59,133.2 474.84,133.2 475.09,133.2 475.34,133.2 475.59,133.1 475.84,133.1 476.09,133.0 476.34,132.9 476.59,132.8 476.84,132.7 477.09,132.6 477.34,132.5 477.59,132.2 477.84,131.9 478.09,131.6 478.34,131.2 478.59,130.9 478.84,130.6 479.09,130.4 479.34,130.3 479.59,130.4 479.84,130.7 480.09,131.1 480.34,131.7 480.59,132.2 480.84,132.7 481.09,133.0 481.34,133.1 481.59,133.0 481.84,132.9 482.09,132.8 482.34,132.7 482.59,132.5 482.84,132.4 483.09,132.2 483.34,132.0 483.59,131.8 483.84,131.7 484.09,131.6 484.34,131.5 484.59,131.5 484.84,131.5 485.09,131.5 485.34,131.5 485.59,131.5 485.84,131.6 486.09,131.6 486.34,131.7 486.59,131.7 486.84,131.7 487.09,131.8 487.34,131.8 487.59,131.9 487.84,131.9 488.09,131.9 488.34,132.0 488.59,132.0 488.84,132.1 489.09,132.1 489.34,132.2 489.59,132.2 489.84,132.3 490.09,132.3 490.34,132.4 490.59,132.4 490.84,132.4 491.09,132.4 491.34,132.5 491.59,132.5 491.84,132.5 492.09,132.5 492.34,132.5 492.59,132.5 492.84,132.5 493.09,132.5 493.34,132.5 493.59,132.5 493.84,132.5 494.09,132.5 494.34,132.4 494.59,132.3 494.84,132.2 495.09,132.1 495.34,131.9 495.59,131.7 495.84,131.5 496.09,131.3 496.34,131.0 496.59,130.8 496.84,130.6 497.09,130.4 497.34,130.1 497.59,129.7 497.84,129.4 498.09,129.0 498.34,128.6 498.59,128.2 498.84,127.9 499.09,127.7 499.34,127.5 499.59,127.5 499.84,127.7 500.09,128.1 500.34,128.7 500.59,129.4 500.84,130.2 501.09,130.9 501.34,131.6 501.59,132.1 501.84,132.4 502.09,132.5 502.34,132.6 502.59,132.6 502.84,132.7 503.09,132.7 503.34,132.8 503.59,132.8 503.84,132.8 504.09,132.9 504.34,132.9 504.59,132.9 504.84,133.0 505.09,133.0 505.34,133.0 505.59,133.0 505.84,133.0 506.09,133.1 506.34,133.1 506.59,133.1 506.84,133.1 507.09,132.6 507.34,130.1 507.59,125.8 507.84,120.1 508.09,113.2 508.34,105.6 508.59,97.6 508.84,89.6 509.09,81.9 509.34,74.8 509.59,68.8 509.84,64.1 510.09,61.1 510.34,60.2 510.59,65.3 510.84,76.7 511.09,91.5 511.34,106.8 511.59,119.5 511.84,126.8 512.09,128.3 512.34,129.3 512.59,130.1 512.84,130.7 513.09,131.2 513.34,131.4 513.59,131.5 513.84,131.3 514.09,131.1 514.34,130.8 514.59,130.6 514.84,130.5 515.09,130.5 515.34,130.7 515.59,131.0 515.84,131.4 516.09,131.8 516.34,132.1 516.59,132.3 516.84,132.5 517.09,132.5 517.34,132.4 517.59,132.4 517.84,132.3 518.09,132.2 518.34,132.1 518.59,131.9 518.84,131.8 519.09,131.7 519.34,131.6 519.59,131.5 519.84,131.5 520.09,131.4 520.34,131.4 520.59,131.3 520.84,131.3 521.09,131.2 521.34,131.2 521.59,131.2 521.84,131.1 522.09,131.1 522.34,131.1 522.59,131.1 522.84,131.1 523.09,131.1 523.34,131.2 523.59,131.3 523.84,131.5 524.09,131.6 524.34,131.7 524.59,131.8 524.84,131.9 525.09,131.8 525.34,131.7 525.59,131.4 525.84,131.2 526.09,130.9 526.34,130.7 526.59,130.5 526.84,130.5 527.09,130.5 527.34,130.6 527.59,130.8 527.84,131.0 528.09,131.2 528.34,131.5 528.59,131.7 528.84,132.0 529.09,132.2 529.34,132.3 529.59,132.4 529.84,132.5 530.09,132.5 530.34,132.4 530.59,132.3 530.84,132.2 531.09,132.1 531.34,132.0 531.59,131.8 531.84,131.7 532.09,131.5 532.34,131.4 532.59,131.2 532.84,131.1 533.09,130.9 533.34,130.7 533.59,130.5 533.84,130.3 534.09,130.1 534.34,129.9 534.59,129.8 534.84,129.6 535.09,129.5 535.34,129.5 535.59,129.6 535.84,129.9 536.09,130.4 536.34,130.9 536.59,131.3 536.84,131.5 537.09,131.3 537.34,130.9 537.59,130.3 537.84,129.6 538.09,128.7 538.34,127.9 538.59,127.0 538.84,126.2 539.09,125.5 539.34,124.9 539.59,124.6 539.84,124.5 540.09,124.9 540.34,125.8 540.59,126.9 540.84,128.2 541.09,129.6 541.34,130.7 541.59,131.5 541.84,131.9 542.09,132.1 542.34,132.3 542.59,132.4 542.84,132.5 543.09,132.7 543.34,132.8 543.59,132.9 543.84,132.9 544.09,133.0 544.34,133.0 544.59,133.1 544.84,133.1 545.09,133.0 545.34,133.0 545.59,132.9 545.84,132.8 546.09,132.6 546.34,132.5 546.59,132.3 546.84,132.2 547.09,132.0 547.34,131.8 547.59,131.6 547.84,131.4 548.09,131.2 548.34,130.8 548.59,130.5 548.84,130.2 549.09,130.0 549.34,129.9 549.59,130.0 549.84,130.3 550.09,130.7 550.34,131.1 550.59,131.6 550.84,132.0 551.09,132.3 551.34,132.5 551.59,132.5 551.84,132.5 552.09,132.4 552.34,132.4 552.59,132.3 552.84,132.3 553.09,132.2 553.34,132.1 553.59,132.0 553.84,131.9 554.09,131.8 554.34,131.7 554.59,131.6 554.84,131.1 555.09,127.3 555.34,120.5 555.59,111.4 555.84,101.2 556.09,90.6 556.34,80.6 556.59,72.1 556.84,66.1 557.09,63.4 557.34,66.5 557.59,76.5 557.84,90.7 558.09,105.9 558.34,119.3 558.59,127.9 558.84,129.8 559.09,130.4 559.34,130.8 559.59,131.2 559.84,131.4 560.09,131.5 560.34,131.4 560.59,131.3 560.84,131.1 561.09,130.8 561.34,130.6 561.59,130.3 561.84,130.0 562.09,129.8 562.34,129.6 562.59,129.5 562.84,129.5 563.09,129.8 563.34,130.2 563.59,130.6 563.84,131.1 564.09,131.4 564.34,131.5 564.59,131.3 564.84,131.0 565.09,130.5 565.34,129.9 565.59,129.2 565.84,128.6 566.09,128.1 566.34,127.7 566.59,127.5 566.84,127.6 567.09,128.4 567.34,129.5 567.59,130.6 567.84,131.5 568.09,131.9 568.34,131.8 568.59,131.5 568.84,131.2 569.09,130.9 569.34,130.6 569.59,130.5 569.84,130.5 570.09,130.8 570.34,131.2 570.59,131.7 570.84,132.1 571.09,132.4 571.34,132.5 571.59,132.2 571.84,131.7 572.09,131.0 572.34,130.2 572.59,129.4 572.84,128.6 573.09,127.9 573.34,127.4 573.59,127.1 573.84,127.2 574.09,127.7 574.34,128.5 574.59,129.5 574.84,130.5 575.09,131.4 575.34,132.1 575.59,132.5 575.84,132.5 576.09,132.4 576.34,132.4 576.59,132.3 576.84,132.2 577.09,132.1 577.34,132.0 577.59,131.9 577.84,131.6 578.09,131.0 578.34,130.0 578.59,128.9 578.84,127.7 579.09,126.6 579.34,125.7 579.59,125.2 579.84,124.9 580.09,124.7 580.34,124.6 580.59,124.4 580.84,124.3 581.09,124.1 581.34,123.8 581.59,123.3 581.84,122.7 582.09,121.9 582.34,120.9 582.59,119.7 582.84,115.9 583.09,106.8 583.34,94.0 583.59,79.5 583.84,65.1 584.09,52.6 584.34,43.9 584.59,40.8 584.84,45.1 585.09,55.4 585.34,69.6 585.59,85.3 585.84,100.3 586.09,112.4 586.34,119.2 586.59,121.6 586.84,123.6 587.09,125.2 587.34,126.2 587.59,126.5 587.84,126.1 588.09,125.2 588.34,124.2 588.59,123.2 588.84,122.6 589.09,122.7 589.34,123.9 589.59,125.7 589.84,127.8 590.09,129.5 590.34,130.5 590.59,130.7 590.84,131.0 591.09,131.2 591.34,131.3 591.59,131.5 591.84,131.6 592.09,131.7 592.34,131.8 592.59,131.8 592.84,131.9 593.09,131.9 593.34,131.9 593.59,131.8 593.84,131.8 594.09,131.8 594.34,131.8 594.59,131.7 594.84,131.7 595.09,131.6 595.34,131.6 595.59,131.5 595.84,131.5 596.09,131.4 596.34,131.4 596.59,131.3 596.84,131.2 597.09,131.2 597.34,131.1 597.59,131.0 597.84,130.9 598.09,130.8 598.34,130.8 598.59,130.7 598.84,130.6 599.09,130.6 599.34,130.5 599.59,130.5 599.84,130.5 600.09,130.5 600.34,130.5 600.59,130.5 600.84,130.5 601.09,130.5 601.34,130.5 601.59,130.5 601.84,130.5 602.09,130.5 602.34,130.5 602.59,130.5 602.84,130.5 603.09,130.5 603.34,130.5 603.59,130.5 603.84,130.5 604.09,130.5 604.34,130.5 604.59,130.6 604.84,130.7 605.09,130.8 605.34,130.9 605.59,131.1 605.84,131.2 606.09,131.3 606.34,131.4 606.59,131.4 606.84,131.5 607.09,131.4 607.34,130.9 607.59,130.2 607.84,129.3 608.09,128.3 608.34,127.2 608.59,125.6 608.84,123.3 609.09,120.5 609.34,117.5 609.59,114.4 609.84,111.3 610.09,108.6 610.34,106.4 610.59,104.8 610.84,104.2 611.09,104.5 611.34,105.5 611.59,106.9 611.84,108.7 612.09,110.6 612.34,112.5 612.59,114.2 612.84,115.4 613.09,116.4 613.34,117.4 613.59,118.3 613.84,119.0 614.09,119.4 614.34,119.4 614.59,117.6 614.84,114.1 615.09,109.3 615.34,103.6 615.59,97.5 615.84,91.5 616.09,86.0 616.34,81.5 616.59,78.5 616.84,77.3 617.09,80.3 617.34,88.4 617.59,99.3 617.84,110.7 618.09,120.3 618.34,125.9 618.59,126.1 618.84,123.6 619.09,119.4 619.34,114.1 619.59,108.0 619.84,101.9 620.09,96.3 620.34,91.6 620.59,88.4 620.84,87.3 621.09,88.3 621.34,91.0 621.59,94.9 621.84,99.5 622.09,104.4 622.34,109.0 622.59,112.9 622.84,115.7 623.09,117.7 623.34,119.7 623.59,121.5 623.84,123.2 624.09,124.6 624.34,125.9 624.59,126.8 624.84,127.5 625.09,128.1 625.34,128.6 625.59,129.1 625.84,129.5 626.09,129.9 626.34,130.3 626.59,130.6 626.84,130.9 627.09,131.1 627.34,131.3 627.59,131.4 627.84,131.5 628.09,131.5 628.34,131.6 628.59,131.6 628.84,131.7 629.09,131.7 629.34,131.8 629.59,131.8 629.84,131.8 630.09,131.8 630.34,131.9 630.59,131.9 630.84,131.9 631.09,131.9 631.34,131.9 631.59,131.8 631.84,131.8 632.09,131.8 632.34,131.7 632.59,131.7 632.84,131.7 633.09,131.6 633.34,131.6 633.59,131.5 633.84,131.5 634.09,131.4 634.34,131.3 634.59,131.3 634.84,131.2 635.09,131.1 635.34,131.0 635.59,130.9 635.84,130.8 636.09,130.6 636.34,130.4 636.59,130.3 636.84,130.0 637.09,129.8 637.34,129.5 637.59,128.2 637.84,124.8 638.09,119.9 638.34,114.3 638.59,108.6 638.84,103.7 639.09,100.1 639.34,98.6 639.59,99.4 639.84,101.8 640.09,105.3 640.34,109.4 640.59,113.8 640.84,117.9 641.09,121.3 641.34,123.4 641.59,124.8 641.84,126.1 642.09,127.3 642.34,128.3 642.59,129.2 642.84,129.9 643.09,130.3 643.34,130.5 643.59,130.3 643.84,129.6 644.09,128.6 644.34,127.4 644.59,125.9 644.84,124.3 645.09,122.7 645.34,121.0 645.59,119.5 645.84,118.1 646.09,116.9 646.34,116.1 646.59,115.6 646.84,115.6 647.09,116.2 647.34,117.3 647.59,118.7 647.84,120.2 648.09,121.6 648.34,122.7 648.59,123.4 648.84,123.4 649.09,122.8 649.34,121.7 649.59,120.2 649.84,118.6 650.09,116.8 650.34,115.2 650.59,113.9 650.84,112.9 651.09,112.6 651.34,113.0 651.59,114.3 651.84,116.2 652.09,118.4 652.34,120.6 652.59,122.5 652.84,123.9 653.09,124.5 653.34,124.3 653.59,123.7 653.84,122.9 654.09,121.9 654.34,120.8 654.59,119.9 654.84,119.0 655.09,118.1 655.34,117.1 655.59,116.0 655.84,115.0 656.09,114.0 656.34,113.2 656.59,112.5 656.84,112.1 657.09,112.0 657.34,112.5 657.59,113.8 657.84,115.8 658.09,118.1 658.34,120.5 658.59,122.8 658.84,124.7 659.09,126.0 659.34,126.5 659.59,126.8 659.84,127.0 660.09,127.1 660.34,127.3 660.59,127.4 660.84,127.4 661.09,127.5 661.34,127.5 661.59,127.3 661.84,127.1 662.09,126.7 662.34,126.2 662.59,125.8 662.84,125.3 663.09,124.9 663.34,124.6 663.59,124.5 663.84,124.5 664.09,124.6 664.34,124.8 664.59,124.9 664.84,125.1 665.09,125.3 665.34,125.4 665.59,125.5 665.84,125.4 666.09,125.2 666.34,124.8 666.59,124.4 666.84,124.0 667.09,123.6 667.34,123.3 667.59,123.1 667.84,123.1 668.09,123.3 668.34,123.5 668.59,123.8 668.84,124.0 669.09,124.2 669.34,124.4 669.59,124.5 669.84,124.5 670.09,124.5 670.34,124.4 670.59,124.3 670.84,124.2 671.09,124.1 671.34,123.9 671.59,123.8 671.84,123.6 672.09,123.5 672.34,123.3 672.59,123.1 672.84,123.0 673.09,122.8 673.34,122.7 673.59,122.5 673.84,122.4 674.09,122.3 674.34,122.2 674.59,122.0 674.84,121.9 675.09,121.8 675.34,121.7 675.59,121.6 675.84,121.5 676.09,121.3 676.34,121.2 676.59,121.1 676.84,121.0 677.09,120.8 677.34,120.7 677.59,120.5 677.84,120.4 678.09,120.2 678.34,120.1 678.59,119.9 678.84,119.7 679.09,119.6 679.34,119.4 679.59,119.2 679.84,119.0 680.09,118.8 680.34,118.6 680.59,118.4 680.84,118.2 681.09,118.0 681.34,117.8 681.59,117.5 681.84,117.3 682.09,117.0 682.34,116.8 682.59,116.5 682.84,116.2 683.09,115.9 683.34,115.6 683.59,115.3 683.84,114.9 684.09,114.6 684.34,114.3 684.57,113.9" fill="none" stroke="#1a1a1a" stroke-width="1" stroke-linejoin="round"/>
<path d="M684.1 184.00V323.00" fill="none" stroke="#e6e6e6" stroke-width="1.8"/>
<path d="M41.5 183.50H684M41.5 183.50V323.50H684" fill="none" stroke="#c4c4c4" stroke-width="1"/>
<path d="M39 322.20H41.5M36 316.40H41.5M39 310.59H41.5M39 304.79H41.5M39 298.98H41.5M39 293.18H41.5M36 287.38H41.5M39 281.57H41.5M39 275.76H41.5M39 269.96H41.5M39 264.15H41.5M36 258.35H41.5M39 252.54H41.5M39 246.74H41.5M39 240.93H41.5M39 235.13H41.5M36 229.32H41.5M39 223.52H41.5M39 217.71H41.5M39 211.91H41.5M39 206.10H41.5M36 200.30H41.5M39 194.49H41.5M39 188.69H41.5M41.30 323.50V328.50M49.87 323.50V326.00M58.44 323.50V326.00M67.01 323.50V326.00M75.58 323.50V326.00M84.15 323.50V328.50M92.72 323.50V326.00M101.29 323.50V326.00M109.86 323.50V326.00M118.43 323.50V326.00M127.00 323.50V328.50M135.57 323.50V326.00M144.14 323.50V326.00M152.71 323.50V326.00M161.28 323.50V326.00M169.85 323.50V328.50M178.42 323.50V326.00M186.99 323.50V326.00M195.56 323.50V326.00M204.13 323.50V326.00M212.70 323.50V328.50M221.27 323.50V326.00M229.84 323.50V326.00M238.41 323.50V326.00M246.98 323.50V326.00M255.55 323.50V328.50M264.12 323.50V326.00M272.69 323.50V326.00M281.26 323.50V326.00M289.83 323.50V326.00M298.40 323.50V328.50M306.97 323.50V326.00M315.54 323.50V326.00M324.11 323.50V326.00M332.68 323.50V326.00M341.25 323.50V328.50M349.82 323.50V326.00M358.39 323.50V326.00M366.96 323.50V326.00M375.53 323.50V326.00M384.10 323.50V328.50M392.67 323.50V326.00M401.24 323.50V326.00M409.81 323.50V326.00M418.38 323.50V326.00M426.95 323.50V328.50M435.52 323.50V326.00M444.09 323.50V326.00M452.66 323.50V326.00M461.23 323.50V326.00M469.80 323.50V328.50M478.37 323.50V326.00M486.94 323.50V326.00M495.51 323.50V326.00M504.08 323.50V326.00M512.65 323.50V328.50M521.22 323.50V326.00M529.79 323.50V326.00M538.36 323.50V326.00M546.93 323.50V326.00M555.50 323.50V328.50M564.07 323.50V326.00M572.64 323.50V326.00M581.21 323.50V326.00M589.78 323.50V326.00M598.35 323.50V328.50M606.92 323.50V326.00M615.49 323.50V326.00M624.06 323.50V326.00M632.63 323.50V326.00M641.20 323.50V328.50M649.77 323.50V326.00M658.34 323.50V326.00M666.91 323.50V326.00M675.48 323.50V326.00M684.05 323.50V328.50" stroke="#c4c4c4" stroke-width="1"/>
<text x="35.8" y="319.00" text-anchor="end">0</text>
<text x="35.8" y="289.98" text-anchor="end">5000000</text>
<text x="35.8" y="260.95" text-anchor="end">10000000</text>
<text x="35.8" y="231.92" text-anchor="end">15000000</text>
<text x="35.8" y="202.90" text-anchor="end">20000000</text>
<text x="41.30" y="336.10" text-anchor="middle">0,0</text>
<text x="84.15" y="336.10" text-anchor="middle">5,0</text>
<text x="127.00" y="336.10" text-anchor="middle">10,0</text>
<text x="169.85" y="336.10" text-anchor="middle">15,0</text>
<text x="212.70" y="336.10" text-anchor="middle">20,0</text>
<text x="255.55" y="336.10" text-anchor="middle">25,0</text>
<text x="298.40" y="336.10" text-anchor="middle">30,0</text>
<text x="341.25" y="336.10" text-anchor="middle">35,0</text>
<text x="384.10" y="336.10" text-anchor="middle">40,0</text>
<text x="426.95" y="336.10" text-anchor="middle">45,0</text>
<text x="469.80" y="336.10" text-anchor="middle">50,0</text>
<text x="512.65" y="336.10" text-anchor="middle">55,0</text>
<text x="555.50" y="336.10" text-anchor="middle">60,0</text>
<text x="598.35" y="336.10" text-anchor="middle">65,0</text>
<text x="641.20" y="336.10" text-anchor="middle">70,0</text>
<text x="671.6" y="336.10" textLength="11.4" lengthAdjust="spacingAndGlyphs">min</text>
<text x="41.8" y="189.90">1:BPC(-)</text>
<polyline points="41.59,312.1 41.84,311.9 42.09,311.7 42.34,311.4 42.59,311.1 42.84,310.7 43.09,310.3 43.34,309.6 43.59,308.8 43.84,308.2 44.09,308.2 44.34,308.8 44.59,309.9 44.84,311.1 45.09,312.3 45.34,313.2 45.59,313.5 45.84,313.5 46.09,313.5 46.34,313.5 46.59,313.5 46.84,313.5 47.09,313.5 47.34,313.5 47.59,313.5 47.84,313.5 48.09,313.5 48.34,313.5 48.59,313.5 48.84,313.5 49.09,313.5 49.34,313.5 49.59,313.5 49.84,313.5 50.09,313.5 50.34,313.5 50.59,306.2 50.84,288.6 51.09,270.2 51.34,260.7 51.59,260.0 51.84,259.7 52.09,259.3 52.34,258.7 52.59,254.9 52.84,246.4 53.09,235.4 53.34,224.0 53.59,214.5 53.84,209.1 54.09,209.2 54.34,213.1 54.59,219.1 54.84,226.0 55.09,232.3 55.34,236.8 55.59,239.6 55.84,241.8 56.09,243.9 56.34,246.5 56.59,250.2 56.84,254.9 57.09,260.0 57.34,264.8 57.59,268.5 57.84,270.5 58.09,268.8 58.34,260.3 58.59,248.1 58.84,235.5 59.09,225.7 59.34,222.3 59.59,226.2 59.84,235.6 60.09,248.6 60.34,263.3 60.59,277.7 60.84,290.0 61.09,298.3 61.34,300.9 61.59,300.5 61.84,299.8 62.09,298.8 62.34,297.7 62.59,296.7 62.84,296.0 63.09,295.7 63.34,296.6 63.59,299.0 63.84,302.0 64.09,304.7 64.34,306.1 64.59,306.2 64.84,306.1 65.09,305.9 65.34,305.6 65.59,304.9 65.84,304.0 66.09,303.3 66.34,303.1 66.59,304.2 66.84,306.1 67.09,308.1 67.34,309.5 67.59,310.8 67.84,311.8 68.09,312.3 68.34,312.2 68.59,312.1 68.84,311.9 69.09,311.0 69.34,309.6 69.59,308.4 69.84,308.0 70.09,308.7 70.34,309.9 70.59,311.1 70.84,311.9 71.09,311.9 71.34,311.7 71.59,311.5 71.84,311.3 72.09,311.1 72.34,311.0 72.59,310.9 72.84,310.9 73.09,310.8 73.34,310.7 73.59,310.6 73.84,309.6 74.09,307.3 74.34,304.6 74.59,302.4 74.84,300.1 75.09,297.9 75.34,296.2 75.59,295.4 75.84,296.7 76.09,300.1 76.34,304.2 76.59,307.4 76.84,309.6 77.09,311.7 77.34,313.2 77.59,313.6 77.84,313.8 78.09,313.9 78.34,314.0 78.59,314.0 78.84,314.1 79.09,314.1 79.34,314.1 79.59,314.1 79.84,314.0 80.09,313.9 80.34,313.7 80.59,313.5 80.84,313.3 81.09,313.1 81.34,312.6 81.59,311.8 81.84,310.9 82.09,309.8 82.34,308.8 82.59,307.9 82.84,307.2 83.09,306.8 83.34,306.9 83.59,307.6 83.84,308.7 84.09,309.8 84.34,310.7 84.59,311.1 84.84,311.2 85.09,311.3 85.34,311.5 85.59,311.6 85.84,311.9 86.09,312.2 86.34,312.5 86.59,312.7 86.84,313.0 87.09,313.2 87.34,313.4 87.59,313.5 87.84,313.7 88.09,313.8 88.34,314.0 88.59,314.1 88.84,314.1 89.09,314.0 89.34,313.4 89.59,312.6 89.84,311.5 90.09,310.4 90.34,309.3 90.59,308.4 90.84,307.8 91.09,307.5 91.34,308.0 91.59,309.3 91.84,310.9 92.09,312.4 92.34,313.2 92.59,313.2 92.84,313.1 93.09,312.9 93.34,312.8 93.59,312.3 93.84,311.6 94.09,311.1 94.34,311.1 94.59,311.5 94.84,312.1 95.09,312.7 95.34,313.1 95.59,313.1 95.84,312.5 96.09,311.2 96.34,309.6 96.59,307.8 96.84,306.1 97.09,304.7 97.34,303.8 97.59,303.7 97.84,304.3 98.09,305.6 98.34,307.1 98.59,308.7 98.84,310.0 99.09,310.8 99.34,311.5 99.59,312.2 99.84,312.7 100.09,313.1 100.34,313.2 100.59,313.2 100.84,313.2 101.09,313.2 101.34,313.2 101.59,313.2 101.84,313.2 102.09,313.2 102.34,313.2 102.59,313.1 102.84,313.0 103.09,312.9 103.34,312.7 103.59,312.5 103.84,312.2 104.09,310.6 104.34,307.1 104.59,302.6 104.84,297.6 105.09,292.8 105.34,288.9 105.59,286.6 105.84,286.5 106.09,289.3 106.34,294.0 106.59,299.5 106.84,304.8 107.09,308.5 107.34,309.7 107.59,309.4 107.84,308.6 108.09,307.6 108.34,306.3 108.59,304.9 108.84,303.6 109.09,302.2 109.34,300.6 109.59,298.6 109.84,296.4 110.09,294.4 110.34,292.6 110.59,291.3 110.84,290.6 111.09,291.3 111.34,294.4 111.59,299.0 111.84,304.1 112.09,308.8 112.34,312.0 112.59,312.9 112.84,313.2 113.09,313.5 113.34,313.7 113.59,313.9 113.84,314.1 114.09,314.2 114.34,314.3 114.59,314.4 114.84,314.5 115.09,314.5 115.34,314.5 115.59,314.4 115.84,314.3 116.09,314.2 116.34,314.0 116.59,313.9 116.84,313.7 117.09,313.5 117.34,313.4 117.59,313.3 117.84,313.2 118.09,313.2 118.34,313.2 118.59,313.2 118.84,313.2 119.09,313.2 119.34,313.2 119.59,313.2 119.84,313.2 120.09,313.2 120.34,313.1 120.59,312.6 120.84,311.7 121.09,310.6 121.34,309.5 121.59,308.4 121.84,307.7 122.09,307.4 122.34,307.8 122.59,308.8 122.84,310.1 123.09,311.4 123.34,312.3 123.59,312.5 123.84,312.3 124.09,312.0 124.34,311.6 124.59,311.1 124.84,310.6 125.09,310.1 125.34,309.4 125.59,308.4 125.84,307.5 126.09,306.6 126.34,306.1 126.59,306.1 126.84,306.9 127.09,308.3 127.34,309.3 127.59,309.5 127.84,308.5 128.09,306.6 128.34,304.4 128.59,302.4 128.84,301.1 129.09,301.0 129.34,303.2 129.59,306.8 129.84,310.2 130.09,311.8 130.34,307.7 130.59,296.9 130.84,282.7 131.09,269.0 131.34,258.4 131.59,247.5 131.84,236.2 132.09,225.7 132.34,216.9 132.59,210.9 132.84,208.9 133.09,213.6 133.34,224.9 133.59,240.2 133.84,257.0 134.09,272.9 134.34,285.2 134.59,294.4 134.84,303.2 135.09,308.9 135.34,309.6 135.59,309.4 135.84,309.0 136.09,308.5 136.34,307.9 136.59,307.2 136.84,306.6 137.09,305.9 137.34,305.4 137.59,304.9 137.84,304.6 138.09,304.5 138.34,304.8 138.59,305.7 138.84,306.8 139.09,308.1 139.34,309.1 139.59,309.6 139.84,309.8 140.09,309.9 140.34,310.0 140.59,310.1 140.84,310.2 141.09,310.3 141.34,310.3 141.59,310.3 141.84,310.2 142.09,310.1 142.34,309.9 142.59,309.7 142.84,309.5 143.09,309.3 143.34,309.1 143.59,308.9 143.84,308.6 144.09,308.5 144.34,308.3 144.59,308.2 144.84,308.1 145.09,308.1 145.34,308.6 145.59,309.4 145.84,310.4 146.09,311.4 146.34,312.2 146.59,312.6 146.84,312.9 147.09,313.1 147.34,313.4 147.59,313.6 147.84,313.7 148.09,313.9 148.34,313.9 148.59,314.0 148.84,314.0 149.09,313.9 149.34,313.6 149.59,313.3 149.84,312.8 150.09,312.3 150.34,311.7 150.59,311.0 150.84,310.2 151.09,307.6 151.34,302.9 151.59,296.8 151.84,290.0 152.09,283.3 152.34,277.3 152.59,272.9 152.84,270.8 153.09,271.4 153.34,274.5 153.59,279.5 153.84,285.6 154.09,292.3 154.34,298.9 154.59,304.9 154.84,309.5 155.09,312.1 155.34,312.6 155.59,312.8 155.84,312.9 156.09,313.0 156.34,313.1 156.59,313.2 156.84,313.3 157.09,313.4 157.34,313.5 157.59,313.7 157.84,313.8 158.09,313.9 158.34,314.1 158.59,314.2 158.84,314.3 159.09,314.4 159.34,314.5 159.59,314.6 159.84,314.7 160.09,314.7 160.34,314.7 160.59,314.7 160.84,314.7 161.09,314.6 161.34,314.6 161.59,314.5 161.84,314.4 162.09,314.3 162.34,314.2 162.59,314.1 162.84,314.0 163.09,313.9 163.34,313.8 163.59,313.7 163.84,313.6 164.09,313.5 164.34,313.4 164.59,313.2 164.84,313.1 165.09,313.1 165.34,313.0 165.59,312.9 165.84,312.8 166.09,312.7 166.34,312.5 166.59,312.3 166.84,311.6 167.09,310.0 167.34,308.0 167.59,306.1 167.84,304.2 168.09,302.0 168.34,299.7 168.59,297.5 168.84,295.8 169.09,294.7 169.34,294.7 169.59,296.5 169.84,299.5 170.09,303.1 170.34,306.8 170.59,309.6 170.84,311.1 171.09,311.1 171.34,310.7 171.59,310.1 171.84,309.4 172.09,308.6 172.34,307.8 172.59,307.2 172.84,306.9 173.09,306.9 173.34,307.8 173.59,309.3 173.84,311.0 174.09,312.6 174.34,313.4 174.59,313.4 174.84,313.2 175.09,312.9 175.34,312.5 175.59,312.2 175.84,311.8 176.09,311.5 176.34,311.3 176.59,311.2 176.84,311.3 177.09,311.8 177.34,312.3 177.59,313.0 177.84,313.6 178.09,314.0 178.34,314.3 178.59,314.3 178.84,314.1 179.09,313.9 179.34,313.6 179.59,313.3 179.84,312.9 180.09,312.5 180.34,311.9 180.59,310.8 180.84,309.5 181.09,308.0 181.34,306.5 181.59,305.2 181.84,304.1 182.09,303.3 182.34,303.1 182.59,304.3 182.84,306.8 183.09,309.7 183.34,312.2 183.59,313.4 183.84,313.6 184.09,313.7 184.34,313.9 184.59,314.0 184.84,314.0 185.09,314.1 185.34,314.1 185.59,314.1 185.84,314.1 186.09,314.1 186.34,314.1 186.59,314.0 186.84,314.0 187.09,314.0 187.34,313.9 187.59,313.9 187.84,313.8 188.09,313.8 188.34,313.4 188.59,312.8 188.84,312.2 189.09,311.8 189.34,311.6 189.59,311.9 189.84,312.5 190.09,312.9 190.34,312.9 190.59,312.6 190.84,311.9 191.09,311.1 191.34,310.1 191.59,309.2 191.84,308.3 192.09,307.5 192.34,307.0 192.59,306.8 192.84,307.2 193.09,308.2 193.34,309.7 193.59,311.2 193.84,312.6 194.09,313.6 194.34,314.0 194.59,314.2 194.84,314.4 195.09,314.6 195.34,314.7 195.59,314.7 195.84,314.5 196.09,314.1 196.34,313.8 196.59,313.5 196.84,313.4 197.09,313.4 197.34,313.5 197.59,313.6 197.84,313.7 198.09,313.7 198.34,313.8 198.59,313.8 198.84,313.7 199.09,313.5 199.34,313.2 199.59,312.9 199.84,312.6 200.09,312.2 200.34,311.9 200.59,311.6 200.84,311.4 201.09,311.2 201.34,311.2 201.59,311.5 201.84,312.1 202.09,312.8 202.34,313.3 202.59,313.4 202.84,313.2 203.09,312.8 203.34,312.2 203.59,311.5 203.84,310.7 204.09,309.9 204.34,309.2 204.59,308.5 204.84,307.9 205.09,307.5 205.34,307.3 205.59,307.6 205.84,308.6 206.09,310.1 206.34,311.5 206.59,312.6 206.84,313.0 207.09,313.0 207.34,313.0 207.59,313.0 207.84,313.0 208.09,313.0 208.34,313.0 208.59,313.0 208.84,312.9 209.09,312.8 209.34,312.6 209.59,312.3 209.84,312.0 210.09,311.7 210.34,311.4 210.59,311.1 210.84,310.9 211.09,310.8 211.34,310.8 211.59,311.0 211.84,311.4 212.09,311.8 212.34,312.2 212.59,312.6 212.84,313.2 213.09,313.8 213.34,314.4 213.59,314.8 213.84,315.1 214.09,315.0 214.34,314.4 214.59,313.4 214.84,312.2 215.09,310.9 215.34,309.4 215.59,308.0 215.84,306.7 216.09,305.7 216.34,304.9 216.59,304.5 216.84,304.9 217.09,306.2 217.34,308.1 217.59,310.2 217.84,312.0 218.09,313.2 218.34,313.8 218.59,314.2 218.84,314.5 219.09,314.4 219.34,314.2 219.59,313.9 219.84,313.6 220.09,313.3 220.34,313.2 220.59,313.2 220.84,313.4 221.09,313.6 221.34,313.9 221.59,314.1 221.84,314.3 222.09,314.3 222.34,314.2 222.59,314.1 222.84,313.9 223.09,313.8 223.34,313.6 223.59,313.5 223.84,313.5 224.09,313.6 224.34,313.8 224.59,314.0 224.84,314.3 225.09,314.4 225.34,314.5 225.59,314.4 225.84,314.0 226.09,313.6 226.34,313.2 226.59,312.7 226.84,312.4 227.09,312.3 227.34,312.4 227.59,312.7 227.84,313.2 228.09,313.7 228.34,314.2 228.59,314.6 228.84,314.8 229.09,314.9 229.34,314.8 229.59,314.6 229.84,314.4 230.09,314.1 230.34,313.7 230.59,313.4 230.84,313.2 231.09,312.9 231.34,312.7 231.59,312.5 231.84,312.2 232.09,311.9 232.34,311.4 232.59,310.4 232.84,308.7 233.09,307.0 233.34,305.5 233.59,304.9 233.84,305.5 234.09,307.1 234.34,309.3 234.59,311.3 234.84,312.8 235.09,313.2 235.34,313.4 235.59,313.4 235.84,313.5 236.09,313.5 236.34,313.5 236.59,313.4 236.84,313.3 237.09,313.2 237.34,313.2 237.59,313.4 237.84,313.7 238.09,314.0 238.34,314.2 238.59,314.2 238.84,313.5 239.09,312.3 239.34,310.9 239.59,309.5 239.84,307.9 240.09,306.3 240.34,305.3 240.59,305.6 240.84,306.6 241.09,307.6 241.34,308.0 241.59,307.8 241.84,307.5 242.09,307.0 242.34,306.6 242.59,306.3 242.84,306.2 243.09,306.8 243.34,307.9 243.59,309.4 243.84,310.9 244.09,312.2 244.34,312.9 244.59,313.2 244.84,313.6 245.09,313.8 245.34,314.0 245.59,314.1 245.84,314.1 246.09,314.1 246.34,314.1 246.59,314.1 246.84,314.1 247.09,314.1 247.34,314.1 247.59,314.1 247.84,314.1 248.09,314.1 248.34,314.1 248.59,313.5 248.84,312.2 249.09,310.6 249.34,309.1 249.59,307.2 249.84,304.8 250.09,302.7 250.34,301.2 250.59,301.1 250.84,302.9 251.09,306.0 251.34,309.2 251.59,311.4 251.84,312.6 252.09,313.7 252.34,314.5 252.59,314.9 252.84,315.0 253.09,315.0 253.34,315.0 253.59,315.0 253.84,315.0 254.09,315.0 254.34,315.0 254.59,315.0 254.84,315.0 255.09,314.7 255.34,314.1 255.59,313.3 255.84,312.4 256.09,311.4 256.34,310.4 256.59,309.1 256.84,307.7 257.09,306.4 257.34,305.5 257.59,305.4 257.84,306.7 258.09,308.8 258.34,310.9 258.59,312.3 258.84,312.9 259.09,313.4 259.34,313.8 259.59,314.1 259.84,314.1 260.09,314.1 260.34,314.0 260.59,314.0 260.84,313.9 261.09,313.8 261.34,313.6 261.59,313.3 261.84,312.4 262.09,311.2 262.34,309.9 262.59,308.8 262.84,308.0 263.09,307.1 263.34,306.3 263.59,305.6 263.84,304.9 264.09,304.4 264.34,304.1 264.59,304.1 264.84,305.1 265.09,307.0 265.34,309.1 265.59,310.9 265.84,312.0 266.09,312.6 266.34,313.2 266.59,313.7 266.84,314.0 267.09,314.1 267.34,313.5 267.59,312.0 267.84,310.1 268.09,308.5 268.34,306.6 268.59,304.5 268.84,302.5 269.09,300.9 269.34,299.8 269.59,299.7 269.84,301.1 270.09,303.5 270.34,306.3 270.59,308.9 270.84,310.6 271.09,309.9 271.34,298.1 271.59,281.6 271.84,271.3 272.09,265.2 272.34,259.6 272.59,254.7 272.84,250.9 273.09,248.3 273.34,247.2 273.59,248.6 273.84,253.7 274.09,261.1 274.34,269.5 274.59,277.5 274.84,284.1 275.09,291.0 275.34,298.3 275.59,305.0 275.84,310.3 276.09,313.2 276.34,313.6 276.59,313.8 276.84,314.0 277.09,314.1 277.34,314.2 277.59,314.3 277.84,314.4 278.09,314.4 278.34,314.5 278.59,314.5 278.84,314.5 279.09,314.4 279.34,314.3 279.59,314.2 279.84,314.1 280.09,313.9 280.34,313.7 280.59,313.6 280.84,313.4 281.09,313.2 281.34,313.0 281.59,312.8 281.84,312.6 282.09,312.5 282.34,312.5 282.59,312.7 282.84,312.9 283.09,313.1 283.34,313.3 283.59,313.5 283.84,313.2 284.09,310.6 284.34,305.8 284.59,299.5 284.84,292.5 285.09,285.4 285.34,279.2 285.59,274.4 285.84,271.9 286.09,272.5 286.34,276.9 286.59,283.8 286.84,292.0 287.09,300.2 287.34,307.2 287.59,311.6 287.84,312.7 288.09,313.1 288.34,313.5 288.59,313.8 288.84,314.1 289.09,314.3 289.34,314.4 289.59,314.5 289.84,314.5 290.09,314.5 290.34,314.4 290.59,314.4 290.84,314.3 291.09,314.2 291.34,314.2 291.59,314.1 291.84,314.0 292.09,314.0 292.34,313.9 292.59,313.8 292.84,313.7 293.09,313.6 293.34,313.5 293.59,313.5 293.84,313.5 294.09,313.6 294.34,313.7 294.59,313.9 294.84,314.1 295.09,314.3 295.34,314.5 295.59,314.7 295.84,314.8 296.09,314.9 296.34,314.9 296.59,314.8 296.84,314.8 297.09,314.7 297.34,314.7 297.59,314.6 297.84,314.6 298.09,314.5 298.34,314.5 298.59,314.5 298.84,314.5 299.09,314.5 299.34,314.5 299.59,314.6 299.84,314.6 300.09,314.7 300.34,314.8 300.59,314.8 300.84,314.8 301.09,314.9 301.34,314.9 301.59,314.8 301.84,314.7 302.09,314.6 302.34,314.4 302.59,314.2 302.84,314.0 303.09,313.8 303.34,313.7 303.59,313.5 303.84,313.4 304.09,313.3 304.34,313.1 304.59,313.0 304.84,312.8 305.09,312.7 305.34,312.6 305.59,312.5 305.84,312.5 306.09,312.5 306.34,312.6 306.59,312.7 306.84,312.9 307.09,313.2 307.34,313.5 307.59,313.8 307.84,314.0 308.09,314.2 308.34,314.4 308.59,314.5 308.84,314.5 309.09,314.5 309.34,314.5 309.59,314.5 309.84,314.5 310.09,314.5 310.34,314.5 310.59,314.5 310.84,314.5 311.09,314.5 311.34,314.5 311.59,314.5 311.84,314.0 312.09,312.4 312.34,309.9 312.59,306.6 312.84,302.7 313.09,298.5 313.34,294.1 313.59,289.7 313.84,285.6 314.09,281.9 314.34,278.8 314.59,276.5 314.84,275.2 315.09,275.7 315.34,280.7 315.59,288.9 315.84,298.0 316.09,305.9 316.34,310.3 316.59,311.5 316.84,312.4 317.09,313.2 317.34,313.8 317.59,314.2 317.84,314.4 318.09,314.5 318.34,314.5 318.59,314.5 318.84,314.5 319.09,314.5 319.34,314.5 319.59,314.5 319.84,314.5 320.09,314.5 320.34,314.5 320.59,314.5 320.84,314.5 321.09,314.5 321.34,314.4 321.59,314.2 321.84,314.0 322.09,313.7 322.34,313.4 322.59,313.0 322.84,312.6 323.09,312.2 323.34,311.5 323.59,310.6 323.84,309.8 324.09,309.1 324.34,308.9 324.59,309.3 324.84,310.2 325.09,311.4 325.34,312.7 325.59,313.8 325.84,314.4 326.09,314.5 326.34,314.4 326.59,314.2 326.84,314.0 327.09,313.7 327.34,313.4 327.59,313.0 327.84,312.6 328.09,312.1 328.34,311.1 328.59,309.7 328.84,308.1 329.09,306.1 329.34,304.1 329.59,301.8 329.84,298.3 330.09,293.7 330.34,288.9 330.59,284.4 330.84,281.1 331.09,279.6 331.34,281.1 331.59,285.5 331.84,291.7 332.09,298.7 332.34,305.3 332.59,310.5 332.84,313.1 333.09,313.0 333.34,312.3 333.59,311.1 333.84,309.8 334.09,308.5 334.34,307.5 334.59,306.9 334.84,306.9 335.09,307.5 335.34,308.4 335.59,309.6 335.84,310.7 336.09,311.5 336.34,312.0 336.59,311.7 336.84,310.4 337.09,308.8 337.34,307.4 337.59,306.8 337.84,308.1 338.09,311.0 338.34,313.1 338.59,312.9 338.84,312.0 339.09,310.5 339.34,309.0 339.59,307.8 339.84,307.1 340.09,307.5 340.34,308.9 340.59,310.8 340.84,312.4 341.09,313.2 341.34,312.8 341.59,311.9 341.84,310.9 342.09,310.0 342.34,309.7 342.59,309.8 342.84,310.0 343.09,310.2 343.34,310.3 343.59,310.3 343.84,310.1 344.09,309.9 344.34,309.8 344.59,309.7 344.84,309.8 345.09,309.9 345.34,310.2 345.59,310.5 345.84,310.8 346.09,311.4 346.34,312.1 346.59,312.9 346.84,313.7 347.09,314.4 347.34,314.8 347.59,314.9 347.84,314.7 348.09,314.5 348.34,314.1 348.59,313.6 348.84,313.0 349.09,312.5 349.34,311.9 349.59,311.1 349.84,310.1 350.09,308.9 350.34,307.8 350.59,306.9 350.84,306.3 351.09,306.3 351.34,307.5 351.59,309.6 351.84,311.7 352.09,313.0 352.34,313.0 352.59,311.7 352.84,309.4 353.09,306.4 353.34,303.1 353.59,299.6 353.84,296.4 354.09,293.7 354.34,291.8 354.59,291.0 354.84,291.6 355.09,293.5 355.34,296.4 355.59,299.6 355.84,302.8 356.09,305.6 356.34,307.5 356.59,309.0 356.84,310.4 357.09,311.8 357.34,312.9 357.59,313.8 357.84,314.3 358.09,314.4 358.34,314.3 358.59,314.2 358.84,314.0 359.09,313.8 359.34,313.6 359.59,313.4 359.84,313.2 360.09,312.9 360.34,312.6 360.59,312.3 360.84,312.0 361.09,312.0 361.34,312.2 361.59,312.6 361.84,313.0 362.09,313.5 362.34,314.0 362.59,314.3 362.84,314.5 363.09,314.6 363.34,314.8 363.59,314.9 363.84,315.0 364.09,315.1 364.34,315.2 364.59,315.3 364.84,315.3 365.09,315.3 365.34,315.3 365.59,315.2 365.84,315.2 366.09,315.1 366.34,315.0 366.59,314.9 366.84,314.7 367.09,314.6 367.34,314.4 367.59,314.2 367.84,313.9 368.09,313.4 368.34,312.9 368.59,312.5 368.84,312.1 369.09,312.0 369.34,312.1 369.59,312.5 369.84,313.1 370.09,313.7 370.34,314.2 370.59,314.7 370.84,314.9 371.09,314.9 371.34,314.9 371.59,314.8 371.84,314.7 372.09,314.6 372.34,314.5 372.59,314.4 372.84,314.3 373.09,314.0 373.34,313.8 373.59,313.5 373.84,313.3 374.09,313.1 374.34,313.0 374.59,313.1 374.84,313.3 375.09,313.7 375.34,314.1 375.59,314.5 375.84,314.8 376.09,314.9 376.34,314.9 376.59,314.8 376.84,314.8 377.09,314.7 377.34,314.6 377.59,314.4 377.84,314.3 378.09,314.1 378.34,313.9 378.59,313.7 378.84,313.5 379.09,313.2 379.34,312.7 379.59,311.9 379.84,311.0 380.09,310.1 380.34,309.5 380.59,309.4 380.84,310.0 381.09,311.0 381.34,312.1 381.59,313.3 381.84,314.1 382.09,314.5 382.34,314.7 382.59,314.9 382.84,315.0 383.09,315.2 383.34,315.3 383.59,315.3 383.84,315.3 384.09,315.2 384.34,315.0 384.59,314.7 384.84,314.5 385.09,314.3 385.34,314.1 385.59,314.1 385.84,314.2 386.09,314.4 386.34,314.7 386.59,314.9 386.84,315.1 387.09,315.3 387.34,315.3 387.59,315.3 387.84,315.4 388.09,315.4 388.34,315.4 388.59,315.4 388.84,315.4 389.09,315.4 389.34,315.4 389.59,315.5 389.84,315.5 390.09,315.5 390.34,315.5 390.59,315.5 390.84,315.5 391.09,315.5 391.34,315.5 391.59,315.5 391.84,315.5 392.09,315.5 392.34,315.4 392.59,315.3 392.84,315.1 393.09,314.9 393.34,314.7 393.59,314.5 393.84,314.3 394.09,313.9 394.34,313.6 394.59,313.3 394.84,313.2 395.09,313.3 395.34,313.6 395.59,313.9 395.84,314.2 396.09,314.6 396.34,314.8 396.59,314.9 396.84,314.8 397.09,314.7 397.34,314.4 397.59,314.1 397.84,313.8 398.09,313.4 398.34,313.0 398.59,312.7 398.84,312.4 399.09,312.2 399.34,312.0 399.59,312.0 399.84,312.2 400.09,312.6 400.34,313.1 400.59,313.6 400.84,314.0 401.09,314.3 401.34,314.4 401.59,314.3 401.84,314.1 402.09,313.8 402.34,313.5 402.59,313.2 402.84,312.9 403.09,312.7 403.34,312.6 403.59,312.7 403.84,312.9 404.09,313.3 404.34,313.8 404.59,314.3 404.84,314.7 405.09,315.1 405.34,315.3 405.59,315.3 405.84,315.3 406.09,315.4 406.34,315.4 406.59,315.4 406.84,315.4 407.09,315.4 407.34,315.4 407.59,315.5 407.84,315.5 408.09,315.5 408.34,315.5 408.59,315.5 408.84,315.5 409.09,315.5 409.34,315.5 409.59,315.5 409.84,315.5 410.09,315.5 410.34,315.5 410.59,315.4 410.84,315.4 411.09,315.3 411.34,315.2 411.59,315.1 411.84,315.0 412.09,314.9 412.34,314.8 412.59,314.7 412.84,314.5 413.09,314.4 413.34,314.2 413.59,314.0 413.84,313.8 414.09,313.5 414.34,313.2 414.59,312.9 414.84,312.6 415.09,312.2 415.34,311.7 415.59,311.0 415.84,310.2 416.09,309.5 416.34,308.9 416.59,308.4 416.84,308.1 417.09,308.3 417.34,309.1 417.59,310.4 417.84,311.9 418.09,313.3 418.34,314.2 418.59,314.5 418.84,314.6 419.09,314.6 419.34,314.7 419.59,314.7 419.84,314.7 420.09,314.8 420.34,314.8 420.59,314.8 420.84,314.8 421.09,314.9 421.34,314.9 421.59,314.9 421.84,314.9 422.09,314.9 422.34,314.8 422.59,314.8 422.84,314.7 423.09,314.6 423.34,314.5 423.59,314.4 423.84,314.2 424.09,314.1 424.34,313.9 424.59,313.7 424.84,313.5 425.09,313.3 425.34,312.9 425.59,312.3 425.84,311.8 426.09,311.4 426.34,311.1 426.59,311.1 426.84,311.4 427.09,311.9 427.34,312.6 427.59,313.3 427.84,313.9 428.09,314.3 428.34,314.5 428.59,314.5 428.84,314.6 429.09,314.6 429.34,314.7 429.59,314.7 429.84,314.8 430.09,314.8 430.34,314.8 430.59,314.8 430.84,314.8 431.09,314.9 431.34,314.9 431.59,314.9 431.84,314.9 432.09,314.9 432.34,314.9 432.59,314.9 432.84,314.9 433.09,314.9 433.34,314.9 433.59,314.9 433.84,314.9 434.09,314.9 434.34,314.9 434.59,314.9 434.84,314.9 435.09,314.9 435.34,314.9 435.59,314.9 435.84,314.9 436.09,314.9 436.34,314.8 436.59,314.8 436.84,314.7 437.09,314.5 437.34,314.4 437.59,314.2 437.84,314.0 438.09,313.8 438.34,313.5 438.59,313.2 438.84,312.9 439.09,312.2 439.34,310.9 439.59,309.1 439.84,306.8 440.09,304.2 440.34,300.9 440.59,294.2 440.84,284.8 441.09,274.0 441.34,263.5 441.59,254.5 441.84,248.6 442.09,247.4 442.34,253.4 442.59,265.0 442.84,278.8 443.09,291.9 443.34,300.9 443.59,304.8 443.84,308.0 444.09,310.6 444.34,312.7 444.59,314.0 444.84,314.5 445.09,314.6 445.34,314.6 445.59,314.7 445.84,314.7 446.09,314.8 446.34,314.8 446.59,314.8 446.84,314.8 447.09,314.9 447.34,314.9 447.59,314.9 447.84,314.9 448.09,314.9 448.34,314.9 448.59,314.8 448.84,314.8 449.09,314.8 449.34,314.8 449.59,314.7 449.84,314.7 450.09,314.6 450.34,314.6 450.59,314.5 450.84,314.5 451.09,314.4 451.34,314.2 451.59,314.0 451.84,313.7 452.09,313.4 452.34,313.1 452.59,312.9 452.84,312.6 453.09,312.4 453.34,312.2 453.59,312.1 453.84,312.1 454.09,312.3 454.34,312.6 454.59,313.1 454.84,313.6 455.09,314.1 455.34,314.5 455.59,314.8 455.84,314.9 456.09,314.9 456.34,314.9 456.59,314.8 456.84,314.8 457.09,314.8 457.34,314.7 457.59,314.7 457.84,314.7 458.09,314.6 458.34,314.6 458.59,314.6 458.84,314.5 459.09,314.5 459.34,314.5 459.59,314.5 459.84,314.5 460.09,314.5 460.34,314.5 460.59,314.6 460.84,314.6 461.09,314.7 461.34,314.8 461.59,314.8 461.84,314.9 462.09,314.9 462.34,314.7 462.59,313.7 462.84,312.2 463.09,310.1 463.34,307.5 463.59,304.5 463.84,300.5 464.09,289.8 464.34,273.9 464.59,256.0 464.84,239.2 465.09,226.9 465.34,222.2 465.59,228.1 465.84,242.1 466.09,260.1 466.34,277.8 466.59,290.9 466.84,296.1 467.09,299.0 467.34,301.3 467.59,303.2 467.84,304.8 468.09,306.3 468.34,307.9 468.59,309.4 468.84,310.7 469.09,311.8 469.34,312.5 469.59,313.1 469.84,313.6 470.09,314.0 470.34,314.3 470.59,314.5 470.84,314.4 471.09,314.2 471.34,313.8 471.59,313.2 471.84,312.7 472.09,312.2 472.34,311.8 472.59,311.5 472.84,311.6 473.09,312.0 473.34,312.7 473.59,313.5 473.84,314.2 474.09,314.5 474.34,314.5 474.59,314.6 474.84,314.6 475.09,314.7 475.34,314.7 475.59,314.7 475.84,314.8 476.09,314.8 476.34,314.8 476.59,314.8 476.84,314.9 477.09,314.9 477.34,314.9 477.59,314.9 477.84,314.9 478.09,314.9 478.34,314.9 478.59,314.9 478.84,314.8 479.09,314.8 479.34,314.8 479.59,314.8 479.84,314.8 480.09,314.7 480.34,314.7 480.59,314.7 480.84,314.6 481.09,314.6 481.34,314.5 481.59,314.5 481.84,314.4 482.09,314.3 482.34,314.1 482.59,313.9 482.84,313.6 483.09,313.3 483.34,312.9 483.59,312.6 483.84,312.2 484.09,311.5 484.34,310.8 484.59,310.0 484.84,309.4 485.09,309.0 485.34,308.9 485.59,309.2 485.84,309.8 486.09,310.4 486.34,311.0 486.59,311.4 486.84,311.6 487.09,311.8 487.34,312.0 487.59,312.2 487.84,312.3 488.09,312.4 488.34,312.5 488.59,312.5 488.84,312.5 489.09,312.4 489.34,312.3 489.59,312.2 489.84,312.0 490.09,311.9 490.34,311.8 490.59,311.6 490.84,311.5 491.09,311.5 491.34,311.5 491.59,311.9 491.84,312.6 492.09,313.4 492.34,314.0 492.59,314.4 492.84,314.6 493.09,314.7 493.34,314.8 493.59,314.9 493.84,314.9 494.09,314.8 494.34,314.8 494.59,314.8 494.84,314.7 495.09,314.7 495.34,314.6 495.59,314.6 495.84,314.5 496.09,314.4 496.34,314.3 496.59,314.2 496.84,314.0 497.09,313.7 497.34,313.5 497.59,313.3 497.84,313.0 498.09,312.8 498.34,312.7 498.59,312.6 498.84,312.5 499.09,312.5 499.34,312.6 499.59,312.8 499.84,313.0 500.09,313.2 500.34,313.5 500.59,313.8 500.84,314.0 501.09,314.2 501.34,314.4 501.59,314.5 501.84,314.5 502.09,314.6 502.34,314.6 502.59,314.7 502.84,314.7 503.09,314.7 503.34,314.8 503.59,314.8 503.84,314.8 504.09,314.8 504.34,314.9 504.59,314.9 504.84,314.9 505.09,314.9 505.34,314.7 505.59,314.5 505.84,314.3 506.09,314.0 506.34,313.7 506.59,313.3 506.84,313.0 507.09,312.7 507.34,312.4 507.59,312.1 507.84,311.8 508.09,311.4 508.34,310.9 508.59,310.2 508.84,307.5 509.09,302.8 509.34,297.0 509.59,291.1 509.84,285.9 510.09,282.2 510.34,281.0 510.59,283.2 510.84,288.0 511.09,294.3 511.34,300.9 511.59,306.5 511.84,310.1 512.09,311.3 512.34,312.2 512.59,313.0 512.84,313.7 513.09,314.2 513.34,314.4 513.59,314.5 513.84,314.5 514.09,314.5 514.34,314.5 514.59,314.5 514.84,314.5 515.09,314.5 515.34,314.5 515.59,314.5 515.84,314.5 516.09,314.5 516.34,314.4 516.59,314.4 516.84,314.3 517.09,314.2 517.34,314.0 517.59,313.9 517.84,313.7 518.09,313.6 518.34,313.4 518.59,313.3 518.84,313.1 519.09,312.9 519.34,312.6 519.59,312.4 519.84,312.1 520.09,311.7 520.34,311.4 520.59,310.8 520.84,310.0 521.09,309.1 521.34,308.2 521.59,307.3 521.84,306.6 522.09,306.2 522.34,306.2 522.59,306.9 522.84,308.2 523.09,309.5 523.34,310.4 523.59,310.4 523.84,309.8 524.09,308.9 524.34,308.0 524.59,307.5 524.84,308.0 525.09,309.7 525.34,311.3 525.59,311.3 525.84,310.5 526.09,309.0 526.34,307.4 526.59,305.9 526.84,304.8 527.09,304.5 527.34,305.4 527.59,307.2 527.84,309.3 528.09,311.2 528.34,312.4 528.59,312.2 528.84,310.5 529.09,307.6 529.34,304.0 529.59,298.9 529.84,288.5 530.09,275.2 530.34,262.1 530.59,252.2 530.84,248.3 531.09,253.2 531.34,264.9 531.59,279.6 531.84,293.9 532.09,304.0 532.34,307.4 532.59,309.2 532.84,310.7 533.09,311.9 533.34,312.8 533.59,313.3 533.84,313.5 534.09,313.4 534.34,313.3 534.59,313.1 534.84,312.8 535.09,312.5 535.34,312.2 535.59,311.8 535.84,311.4 536.09,311.0 536.34,310.5 536.59,309.8 536.84,309.0 537.09,308.1 537.34,307.0 537.59,305.8 537.84,304.3 538.09,300.0 538.34,292.3 538.59,282.0 538.84,270.0 539.09,257.2 539.34,244.5 539.59,232.9 539.84,223.1 540.09,216.2 540.34,213.0 540.59,215.1 540.84,223.6 541.09,236.3 541.34,251.4 541.59,266.8 541.84,280.4 542.09,290.2 542.34,295.5 542.59,299.9 542.84,303.9 543.09,307.3 543.34,310.0 543.59,311.8 543.84,312.6 544.09,313.0 544.34,313.4 544.59,313.7 544.84,314.0 545.09,314.2 545.34,314.4 545.59,314.5 545.84,314.5 546.09,314.5 546.34,314.5 546.59,314.5 546.84,314.5 547.09,314.5 547.34,314.5 547.59,314.5 547.84,314.5 548.09,314.5 548.34,314.5 548.59,314.5 548.84,314.5 549.09,314.5 549.34,314.4 549.59,314.4 549.84,314.3 550.09,314.2 550.34,314.1 550.59,314.0 550.84,313.9 551.09,313.8 551.34,313.7 551.59,313.6 551.84,313.4 552.09,313.3 552.34,313.1 552.59,312.9 552.84,312.6 553.09,312.4 553.34,312.1 553.59,311.7 553.84,311.3 554.09,310.8 554.34,310.3 554.59,309.5 554.84,308.7 555.09,307.7 555.34,306.5 555.59,304.2 555.84,300.5 556.09,295.9 556.34,291.1 556.59,286.7 556.84,283.5 557.09,282.0 557.34,283.3 557.59,287.4 557.84,293.3 558.09,299.8 558.34,305.5 558.59,309.5 558.84,310.9 559.09,311.7 559.34,312.3 559.59,312.8 559.84,313.2 560.09,313.5 560.34,313.6 560.59,313.8 560.84,313.9 561.09,314.1 561.34,314.2 561.59,314.3 561.84,314.3 562.09,314.4 562.34,314.5 562.59,314.5 562.84,314.5 563.09,314.4 563.34,314.3 563.59,314.2 563.84,314.1 564.09,313.9 564.34,313.7 564.59,313.6 564.84,313.4 565.09,313.1 565.34,312.8 565.59,312.5 565.84,312.1 566.09,311.8 566.34,311.6 566.59,311.5 566.84,311.5 567.09,311.7 567.34,312.0 567.59,312.3 567.84,312.7 568.09,313.1 568.34,313.3 568.59,313.5 568.84,313.5 569.09,313.4 569.34,313.3 569.59,313.2 569.84,313.0 570.09,312.9 570.34,312.7 570.59,312.5 570.84,312.4 571.09,312.2 571.34,311.9 571.59,311.7 571.84,311.4 572.09,311.2 572.34,310.9 572.59,310.7 572.84,310.6 573.09,310.5 573.34,310.5 573.59,310.8 573.84,311.3 574.09,312.0 574.34,312.7 574.59,313.4 574.84,314.0 575.09,314.4 575.34,314.5 575.59,314.4 575.84,314.1 576.09,313.8 576.34,313.5 576.59,313.1 576.84,312.7 577.09,312.3 577.34,311.9 577.59,311.5 577.84,311.3 578.09,311.0 578.34,310.8 578.59,310.6 578.84,310.3 579.09,310.1 579.34,309.8 579.59,309.6 579.84,309.3 580.09,309.0 580.34,308.7 580.59,308.5 580.84,308.1 581.09,307.7 581.34,307.2 581.59,306.6 581.84,304.4 582.09,298.7 582.34,290.7 582.59,281.5 582.84,272.3 583.09,264.3 583.34,258.7 583.59,256.7 583.84,259.6 584.09,266.7 584.34,276.2 584.59,286.3 584.84,295.3 585.09,301.4 585.34,304.0 585.59,306.0 585.84,307.6 586.09,308.7 586.34,309.4 586.59,309.8 586.84,310.1 587.09,310.3 587.34,310.5 587.59,310.6 587.84,310.8 588.09,310.9 588.34,311.1 588.59,311.2 588.84,311.4 589.09,311.6 589.34,311.9 589.59,312.1 589.84,312.4 590.09,312.7 590.34,313.0 590.59,313.2 590.84,313.4 591.09,313.5 591.34,313.7 591.59,313.8 591.84,313.9 592.09,314.0 592.34,314.1 592.59,314.2 592.84,314.3 593.09,314.4 593.34,314.4 593.59,314.5 593.84,314.5 594.09,314.5 594.34,314.5 594.59,314.5 594.84,314.5 595.09,314.5 595.34,314.5 595.59,314.5 595.84,314.5 596.09,314.5 596.34,314.5 596.59,314.5 596.84,314.5 597.09,314.5 597.34,314.5 597.59,314.5 597.84,314.5 598.09,314.5 598.34,314.5 598.59,314.5 598.84,314.5 599.09,314.5 599.34,314.5 599.59,314.5 599.84,314.5 600.09,314.5 600.34,314.5 600.59,314.5 600.84,314.5 601.09,314.5 601.34,314.5 601.59,314.5 601.84,314.5 602.09,314.5 602.34,314.5 602.59,314.5 602.84,314.5 603.09,314.5 603.34,314.5 603.59,314.5 603.84,314.4 604.09,314.4 604.34,314.4 604.59,314.4 604.84,314.3 605.09,314.3 605.34,314.3 605.59,314.2 605.84,314.1 606.09,314.1 606.34,314.0 606.59,313.9 606.84,313.8 607.09,313.7 607.34,313.6 607.59,313.2 607.84,311.3 608.09,308.5 608.34,306.0 608.59,303.3 608.84,300.4 609.09,297.8 609.34,296.2 609.59,296.0 609.84,296.8 610.09,298.0 610.34,299.4 610.59,300.6 610.84,301.5 611.09,301.9 611.34,302.3 611.59,302.6 611.84,302.9 612.09,303.2 612.34,303.3 612.59,303.5 612.84,303.5 613.09,303.5 613.34,303.4 613.59,303.2 613.84,303.0 614.09,302.7 614.34,302.4 614.59,302.0 614.84,301.6 615.09,300.5 615.34,298.5 615.59,295.7 615.84,292.6 616.09,289.5 616.34,286.8 616.59,284.9 616.84,284.2 617.09,285.5 617.34,289.0 617.59,293.7 617.84,298.7 618.09,302.8 618.34,305.3 618.59,305.1 618.84,302.6 619.09,298.8 619.34,294.5 619.59,290.5 619.84,287.8 620.09,287.0 620.34,287.9 620.59,289.8 620.84,292.3 621.09,295.2 621.34,298.1 621.59,300.6 621.84,302.6 622.09,304.2 622.34,305.7 622.59,307.2 622.84,308.4 623.09,309.5 623.34,310.3 623.59,310.8 623.84,311.3 624.09,311.7 624.34,312.1 624.59,312.4 624.84,312.7 625.09,313.0 625.34,313.2 625.59,313.3 625.84,313.5 626.09,313.6 626.34,313.8 626.59,313.9 626.84,314.0 627.09,314.1 627.34,314.2 627.59,314.3 627.84,314.3 628.09,314.4 628.34,314.4 628.59,314.5 628.84,314.5 629.09,314.5 629.34,314.5 629.59,314.5 629.84,314.5 630.09,314.5 630.34,314.5 630.59,314.5 630.84,314.5 631.09,314.5 631.34,314.5 631.59,314.5 631.84,314.5 632.09,314.5 632.34,314.4 632.59,314.4 632.84,314.3 633.09,314.2 633.34,314.1 633.59,313.9 633.84,313.8 634.09,313.7 634.34,313.5 634.59,313.3 634.84,313.1 635.09,312.7 635.34,312.3 635.59,311.9 635.84,311.3 636.09,310.7 636.34,309.8 636.59,308.2 636.84,306.1 637.09,303.6 637.34,301.1 637.59,298.6 637.84,296.6 638.09,295.2 638.34,294.6 638.59,295.2 638.84,297.1 639.09,299.8 639.34,302.9 639.59,305.9 639.84,308.5 640.09,310.2 640.34,311.0 640.59,311.7 640.84,312.4 641.09,312.9 641.34,313.2 641.59,313.4 641.84,313.5 642.09,313.4 642.34,313.1 642.59,312.8 642.84,312.4 643.09,311.9 643.34,311.4 643.59,310.8 643.84,310.2 644.09,309.1 644.34,307.6 644.59,305.7 644.84,303.7 645.09,301.6 645.34,299.6 645.59,297.8 645.84,296.4 646.09,295.5 646.34,295.2 646.59,295.7 646.84,297.0 647.09,298.8 647.34,300.7 647.59,302.5 647.84,303.9 648.09,304.5 648.34,304.4 648.59,304.2 648.84,303.8 649.09,303.5 649.34,303.1 649.59,302.9 649.84,303.0 650.09,303.8 650.34,305.1 650.59,306.7 650.84,308.1 651.09,309.1 651.34,309.5 651.59,309.4 651.84,309.2 652.09,308.9 652.34,308.5 652.59,308.1 652.84,307.6 653.09,307.0 653.34,306.4 653.59,305.7 653.84,304.8 654.09,303.8 654.34,302.5 654.59,301.1 654.84,299.5 655.09,297.7 655.34,295.7 655.59,293.5 655.84,290.7 656.09,285.6 656.34,278.8 656.59,271.2 656.84,263.5 657.09,256.7 657.34,251.4 657.59,248.6 657.84,249.6 658.09,256.0 658.34,266.1 658.59,277.9 658.84,289.3 659.09,298.4 659.34,303.3 659.59,306.6 659.84,309.3 660.09,311.1 660.34,311.5 660.59,311.3 660.84,310.9 661.09,310.4 661.34,309.8 661.59,309.2 661.84,308.6 662.09,308.1 662.34,307.7 662.59,307.5 662.84,307.6 663.09,308.0 663.34,308.7 663.59,309.4 663.84,310.0 664.09,310.4 664.34,310.5 664.59,310.5 664.84,310.5 665.09,310.5 665.34,310.5 665.59,310.5 665.84,310.5 666.09,310.5 666.34,310.5 666.59,310.5 666.84,310.3 667.09,309.7 667.34,308.8 667.59,307.6 667.84,306.2 668.09,304.9 668.34,303.7 668.59,302.7 668.84,302.1 669.09,301.9 669.34,302.1 669.59,302.6 669.84,303.1 670.09,303.7 670.34,304.2 670.59,304.5 670.84,304.6 671.09,304.7 671.34,304.7 671.59,304.8 671.84,304.8 672.09,305.0 672.34,305.3 672.59,305.8 672.84,306.3 673.09,306.9 673.34,307.3 673.59,307.5 673.84,307.5 674.09,307.4 674.34,307.3 674.59,307.1 674.84,307.0 675.09,306.8 675.34,306.6 675.59,306.5 675.84,306.4 676.09,306.3 676.34,306.2 676.59,306.2 676.84,306.1 677.09,306.0 677.34,306.0 677.59,305.9 677.84,305.8 678.09,305.7 678.34,305.6 678.59,305.5 678.84,305.4 679.09,305.3 679.34,305.2 679.59,305.0 679.84,304.9 680.09,304.7 680.34,304.5 680.59,304.4 680.84,304.2 681.09,304.0 681.34,303.7 681.59,303.5 681.84,303.3 682.09,303.0 682.34,302.6 682.59,302.3 682.84,301.9 683.09,301.5 683.34,301.0 683.59,300.6 683.84,300.1 684.09,299.6 684.34,299.0 684.57,298.5" fill="none" stroke="#1a1a1a" stroke-width="1" stroke-linejoin="round"/>
<path d="M684.1 367.00V506.00" fill="none" stroke="#e6e6e6" stroke-width="1.8"/>
<path d="M41.5 366.50H684M41.5 366.50V506.50H684" fill="none" stroke="#c4c4c4" stroke-width="1"/>
<path d="M39 505.42H41.5M36 499.60H41.5M39 493.79H41.5M39 487.97H41.5M39 482.16H41.5M39 476.34H41.5M36 470.53H41.5M39 464.71H41.5M39 458.90H41.5M39 453.08H41.5M39 447.27H41.5M36 441.45H41.5M39 435.63H41.5M39 429.82H41.5M39 424.00H41.5M39 418.19H41.5M36 412.38H41.5M39 406.56H41.5M39 400.75H41.5M39 394.93H41.5M39 389.12H41.5M36 383.30H41.5M39 377.49H41.5M39 371.67H41.5M41.30 506.50V511.50M49.87 506.50V509.00M58.44 506.50V509.00M67.01 506.50V509.00M75.58 506.50V509.00M84.15 506.50V511.50M92.72 506.50V509.00M101.29 506.50V509.00M109.86 506.50V509.00M118.43 506.50V509.00M127.00 506.50V511.50M135.57 506.50V509.00M144.14 506.50V509.00M152.71 506.50V509.00M161.28 506.50V509.00M169.85 506.50V511.50M178.42 506.50V509.00M186.99 506.50V509.00M195.56 506.50V509.00M204.13 506.50V509.00M212.70 506.50V511.50M221.27 506.50V509.00M229.84 506.50V509.00M238.41 506.50V509.00M246.98 506.50V509.00M255.55 506.50V511.50M264.12 506.50V509.00M272.69 506.50V509.00M281.26 506.50V509.00M289.83 506.50V509.00M298.40 506.50V511.50M306.97 506.50V509.00M315.54 506.50V509.00M324.11 506.50V509.00M332.68 506.50V509.00M341.25 506.50V511.50M349.82 506.50V509.00M358.39 506.50V509.00M366.96 506.50V509.00M375.53 506.50V509.00M384.10 506.50V511.50M392.67 506.50V509.00M401.24 506.50V509.00M409.81 506.50V509.00M418.38 506.50V509.00M426.95 506.50V511.50M435.52 506.50V509.00M444.09 506.50V509.00M452.66 506.50V509.00M461.23 506.50V509.00M469.80 506.50V511.50M478.37 506.50V509.00M486.94 506.50V509.00M495.51 506.50V509.00M504.08 506.50V509.00M512.65 506.50V511.50M521.22 506.50V509.00M529.79 506.50V509.00M538.36 506.50V509.00M546.93 506.50V509.00M555.50 506.50V511.50M564.07 506.50V509.00M572.64 506.50V509.00M581.21 506.50V509.00M589.78 506.50V509.00M598.35 506.50V511.50M606.92 506.50V509.00M615.49 506.50V509.00M624.06 506.50V509.00M632.63 506.50V509.00M641.20 506.50V511.50M649.77 506.50V509.00M658.34 506.50V509.00M666.91 506.50V509.00M675.48 506.50V509.00M684.05 506.50V511.50" stroke="#c4c4c4" stroke-width="1"/>
<text x="35.8" y="502.20" text-anchor="end">0</text>
<text x="35.8" y="473.13" text-anchor="end">5000000</text>
<text x="35.8" y="444.05" text-anchor="end">10000000</text>
<text x="35.8" y="414.98" text-anchor="end">15000000</text>
<text x="35.8" y="385.90" text-anchor="end">20000000</text>
<text x="41.30" y="519.10" text-anchor="middle">0,0</text>
<text x="84.15" y="519.10" text-anchor="middle">5,0</text>
<text x="127.00" y="519.10" text-anchor="middle">10,0</text>
<text x="169.85" y="519.10" text-anchor="middle">15,0</text>
<text x="212.70" y="519.10" text-anchor="middle">20,0</text>
<text x="255.55" y="519.10" text-anchor="middle">25,0</text>
<text x="298.40" y="519.10" text-anchor="middle">30,0</text>
<text x="341.25" y="519.10" text-anchor="middle">35,0</text>
<text x="384.10" y="519.10" text-anchor="middle">40,0</text>
<text x="426.95" y="519.10" text-anchor="middle">45,0</text>
<text x="469.80" y="519.10" text-anchor="middle">50,0</text>
<text x="512.65" y="519.10" text-anchor="middle">55,0</text>
<text x="555.50" y="519.10" text-anchor="middle">60,0</text>
<text x="598.35" y="519.10" text-anchor="middle">65,0</text>
<text x="641.20" y="519.10" text-anchor="middle">70,0</text>
<text x="671.6" y="519.10" textLength="11.4" lengthAdjust="spacingAndGlyphs">min</text>
<text x="41.8" y="373.10">1:BPC(-)</text>
<polyline points="41.59,496.5 41.84,496.5 42.09,496.5 42.34,496.5 42.59,496.5 42.84,496.5 43.09,496.5 43.34,496.5 43.59,496.5 43.84,496.5 44.09,496.5 44.34,496.5 44.59,496.5 44.84,496.5 45.09,496.4 45.34,496.1 45.59,495.7 45.84,495.1 46.09,494.7 46.34,494.5 46.59,494.5 46.84,494.7 47.09,494.9 47.34,495.1 47.59,495.3 47.84,495.5 48.09,495.5 48.34,495.4 48.59,495.2 48.84,494.9 49.09,494.5 49.34,494.0 49.59,493.5 49.84,492.8 50.09,491.9 50.34,489.9 50.59,487.0 50.84,483.3 51.09,478.8 51.34,471.5 51.59,462.6 51.84,453.4 52.09,444.9 52.34,436.4 52.59,427.7 52.84,419.2 53.09,410.6 53.34,400.4 53.59,391.1 53.84,385.5 54.09,385.0 54.34,385.1 54.59,385.4 54.84,385.8 55.09,386.5 55.34,388.7 55.59,391.7 55.84,394.8 56.09,398.0 56.34,402.1 56.59,405.3 56.84,405.6 57.09,403.7 57.34,400.7 57.59,397.8 57.84,396.0 58.09,396.3 58.34,398.1 58.59,401.1 58.84,404.6 59.09,409.2 59.34,416.3 59.59,424.8 59.84,433.3 60.09,441.0 60.34,448.7 60.59,456.4 60.84,463.6 61.09,471.1 61.34,478.5 61.59,480.3 61.84,476.1 62.09,468.6 62.34,459.4 62.59,450.5 62.84,443.6 63.09,440.7 63.34,444.7 63.59,454.6 63.84,465.2 64.09,471.5 64.34,473.1 64.59,474.0 64.84,475.2 65.09,477.4 65.34,480.6 65.59,484.1 65.84,487.1 66.09,489.0 66.34,490.8 66.59,492.3 66.84,493.3 67.09,494.1 67.34,494.8 67.59,495.2 67.84,495.5 68.09,493.4 68.34,486.5 68.59,476.9 68.84,467.1 69.09,456.5 69.34,442.6 69.59,427.9 69.84,414.8 70.09,406.1 70.34,404.2 70.59,410.4 70.84,422.3 71.09,436.5 71.34,450.0 71.59,460.4 71.84,471.1 72.09,481.0 72.34,487.8 72.59,490.4 72.84,491.8 73.09,492.9 73.34,493.4 73.59,493.3 73.84,492.2 74.09,490.2 74.34,487.8 74.59,485.1 74.84,482.7 75.09,480.8 75.34,479.7 75.59,479.9 75.84,481.9 76.09,485.0 76.34,488.6 76.59,491.6 76.84,493.5 77.09,494.3 77.34,495.1 77.59,495.7 77.84,496.3 78.09,496.8 78.34,497.2 78.59,497.4 78.84,497.5 79.09,497.5 79.34,497.4 79.59,497.3 79.84,497.2 80.09,497.0 80.34,496.8 80.59,496.6 80.84,496.3 81.09,496.0 81.34,495.6 81.59,494.9 81.84,492.9 82.09,489.9 82.34,486.5 82.59,483.2 82.84,480.4 83.09,478.8 83.34,478.8 83.59,480.5 83.84,483.5 84.09,487.0 84.34,490.4 84.59,493.2 84.84,494.5 85.09,495.2 85.34,495.8 85.59,496.3 85.84,496.7 86.09,497.0 86.34,497.3 86.59,497.4 86.84,497.5 87.09,497.5 87.34,497.4 87.59,497.4 87.84,497.3 88.09,497.2 88.34,497.1 88.59,497.0 88.84,496.8 89.09,496.7 89.34,496.5 89.59,496.2 89.84,495.7 90.09,495.0 90.34,494.2 90.59,493.6 90.84,493.2 91.09,493.1 91.34,493.3 91.59,493.7 91.84,494.2 92.09,494.7 92.34,495.1 92.59,495.4 92.84,495.5 93.09,495.5 93.34,495.5 93.59,495.5 93.84,495.5 94.09,495.5 94.34,495.5 94.59,495.4 94.84,495.3 95.09,495.1 95.34,494.9 95.59,494.7 95.84,494.4 96.09,493.1 96.34,490.8 96.59,487.7 96.84,484.3 97.09,480.7 97.34,477.2 97.59,474.3 97.84,472.1 98.09,471.0 98.34,471.5 98.59,473.6 98.84,477.0 99.09,481.1 99.34,485.3 99.59,489.1 99.84,492.0 100.09,493.4 100.34,493.3 100.59,492.3 100.84,490.9 101.09,489.3 101.34,487.6 101.59,485.7 101.84,483.1 102.09,480.2 102.34,477.0 102.59,473.8 102.84,470.9 103.09,468.3 103.34,466.3 103.59,465.2 103.84,465.2 104.09,467.4 104.34,471.2 104.59,475.7 104.84,480.2 105.09,483.8 105.34,485.5 105.59,486.1 105.84,486.4 106.09,486.7 106.34,487.0 106.59,487.3 106.84,487.7 107.09,488.4 107.34,489.0 107.59,489.4 107.84,489.4 108.09,488.3 108.34,486.5 108.59,484.0 108.84,481.1 109.09,478.2 109.34,475.3 109.59,471.9 109.84,467.6 110.09,462.8 110.34,458.0 110.59,453.5 110.84,449.8 111.09,447.4 111.34,446.7 111.59,450.0 111.84,457.3 112.09,466.5 112.34,475.8 112.59,483.3 112.84,487.6 113.09,491.3 113.34,494.4 113.59,496.2 113.84,496.6 114.09,496.7 114.34,496.9 114.59,497.0 114.84,497.1 115.09,497.2 115.34,497.3 115.59,497.4 115.84,497.4 116.09,497.4 116.34,497.5 116.59,497.5 116.84,497.5 117.09,497.3 117.34,497.2 117.59,496.9 117.84,496.6 118.09,496.4 118.34,496.1 118.59,495.8 118.84,495.6 119.09,495.5 119.34,495.5 119.59,495.6 119.84,495.9 120.09,496.2 120.34,496.6 120.59,496.9 120.84,497.2 121.09,497.4 121.34,497.5 121.59,497.5 121.84,497.5 122.09,497.5 122.34,497.5 122.59,497.4 122.84,497.4 123.09,497.4 123.34,497.4 123.59,497.4 123.84,497.4 124.09,497.3 124.34,497.3 124.59,496.7 124.84,495.7 125.09,494.6 125.34,493.9 125.59,493.7 125.84,493.5 126.09,493.4 126.34,493.3 126.59,493.2 126.84,493.2 127.09,493.2 127.34,493.2 127.59,493.2 127.84,493.2 128.09,492.9 128.34,492.2 128.59,491.3 128.84,490.5 129.09,490.1 129.34,490.2 129.59,491.2 129.84,492.7 130.09,494.2 130.34,495.0 130.59,494.3 130.84,491.5 131.09,486.7 131.34,480.3 131.59,472.5 131.84,454.5 132.09,428.6 132.34,412.0 132.59,398.8 132.84,393.5 133.09,398.0 133.34,408.5 133.59,422.6 133.84,437.7 134.09,453.0 134.34,473.4 134.59,483.5 134.84,479.6 135.09,470.0 135.34,457.0 135.59,442.8 135.84,429.6 136.09,419.7 136.34,415.3 136.59,417.5 136.84,424.6 137.09,434.7 137.34,446.0 137.59,456.7 137.84,470.0 138.09,474.4 138.34,475.5 138.59,476.0 138.84,476.9 139.09,479.3 139.34,484.8 139.59,487.5 139.84,483.5 140.09,475.2 140.34,465.2 140.59,456.0 140.84,450.4 141.09,451.2 141.34,460.1 141.59,472.0 141.84,481.5 142.09,485.0 142.34,486.9 142.59,487.5 142.84,485.1 143.09,480.3 143.34,474.7 143.59,469.6 143.84,466.5 144.09,466.7 144.34,469.1 144.59,472.6 144.84,476.3 145.09,479.2 145.34,480.9 145.59,482.4 145.84,483.7 146.09,484.7 146.34,485.5 146.59,486.1 146.84,486.5 147.09,487.0 147.34,487.6 147.59,488.6 147.84,490.1 148.09,491.6 148.34,492.9 148.59,493.6 148.84,494.2 149.09,494.7 149.34,495.1 149.59,495.3 149.84,495.5 150.09,495.4 150.34,494.9 150.59,494.0 150.84,493.0 151.09,491.8 151.34,490.6 151.59,489.5 151.84,488.7 152.09,488.1 152.34,487.9 152.59,488.1 152.84,488.4 153.09,488.8 153.34,489.4 153.59,489.9 153.84,490.4 154.09,490.9 154.34,491.5 154.59,492.1 154.84,492.7 155.09,493.1 155.34,493.4 155.59,493.4 155.84,492.1 156.09,489.9 156.34,486.9 156.59,483.8 156.84,480.7 157.09,478.3 157.34,476.8 157.59,476.8 157.84,478.9 158.09,482.5 158.34,486.6 158.59,490.5 158.84,493.2 159.09,494.7 159.34,496.0 159.59,497.0 159.84,497.5 160.09,497.5 160.34,497.4 160.59,497.3 160.84,497.2 161.09,497.0 161.34,496.9 161.59,496.7 161.84,496.5 162.09,496.2 162.34,495.8 162.59,495.4 162.84,494.8 163.09,494.3 163.34,493.9 163.59,493.6 163.84,493.5 164.09,493.5 164.34,493.5 164.59,493.5 164.84,493.5 165.09,493.5 165.34,493.5 165.59,492.9 165.84,488.8 166.09,482.2 166.34,474.2 166.59,466.2 166.84,459.4 167.09,455.1 167.34,454.6 167.59,458.9 167.84,466.5 168.09,475.6 168.34,484.3 168.59,490.9 168.84,493.5 169.09,493.3 169.34,492.9 169.59,492.4 169.84,491.9 170.09,491.6 170.34,491.6 170.59,492.1 170.84,493.1 171.09,494.3 171.34,495.4 171.59,496.2 171.84,496.5 172.09,496.3 172.34,496.0 172.59,495.5 172.84,495.0 173.09,494.4 173.34,493.9 173.59,493.6 173.84,493.5 174.09,493.6 174.34,494.0 174.59,494.5 174.84,495.0 175.09,495.6 175.34,496.1 175.59,496.4 175.84,496.5 176.09,496.4 176.34,496.3 176.59,496.2 176.84,496.0 177.09,495.8 177.34,495.5 177.59,495.3 177.84,494.8 178.09,494.2 178.34,493.6 178.59,493.0 178.84,492.5 179.09,492.1 179.34,491.9 179.59,492.0 179.84,492.5 180.09,493.2 180.34,493.8 180.59,494.3 180.84,494.5 181.09,494.3 181.34,493.8 181.59,493.3 181.84,492.8 182.09,492.5 182.34,492.6 182.59,493.1 182.84,494.0 183.09,494.9 183.34,495.7 183.59,496.3 183.84,496.5 184.09,496.5 184.34,496.5 184.59,496.5 184.84,496.5 185.09,496.5 185.34,496.5 185.59,496.5 185.84,496.5 186.09,496.5 186.34,496.5 186.59,496.5 186.84,496.5 187.09,496.5 187.34,496.5 187.59,496.2 187.84,495.4 188.09,494.4 188.34,493.4 188.59,492.7 188.84,492.5 189.09,492.9 189.34,493.6 189.59,494.4 189.84,495.1 190.09,495.5 190.34,495.4 190.59,495.1 190.84,494.7 191.09,494.1 191.34,493.5 191.59,492.7 191.84,491.6 192.09,490.2 192.34,488.8 192.59,487.4 192.84,486.2 193.09,485.4 193.34,485.1 193.59,485.8 193.84,487.6 194.09,489.8 194.34,491.8 194.59,493.2 194.84,493.3 195.09,491.8 195.34,489.0 195.59,485.5 195.84,481.7 196.09,478.1 196.34,475.2 196.59,473.5 196.84,473.5 197.09,476.4 197.34,481.1 197.59,486.4 197.84,490.9 198.09,493.4 198.34,494.0 198.59,494.4 198.84,494.8 199.09,495.2 199.34,495.4 199.59,495.5 199.84,495.5 200.09,495.3 200.34,495.1 200.59,494.7 200.84,494.3 201.09,493.9 201.34,493.4 201.59,492.8 201.84,491.9 202.09,490.9 202.34,490.0 202.59,489.3 202.84,488.9 203.09,489.1 203.34,489.8 203.59,490.9 203.84,492.2 204.09,493.5 204.34,494.6 204.59,495.3 204.84,495.6 205.09,495.8 205.34,496.0 205.59,496.1 205.84,496.3 206.09,496.4 206.34,496.4 206.59,496.5 206.84,496.5 207.09,496.4 207.34,496.4 207.59,496.3 207.84,496.1 208.09,496.0 208.34,495.8 208.59,495.6 208.84,495.2 209.09,494.2 209.34,492.6 209.59,490.6 209.84,488.1 210.09,485.4 210.34,479.9 210.59,470.6 210.84,458.7 211.09,445.5 211.34,432.1 211.59,420.0 211.84,410.3 212.09,404.2 212.34,403.5 212.59,413.4 212.84,431.5 213.09,452.7 213.34,471.9 213.59,484.1 213.84,487.7 214.09,490.4 214.34,492.6 214.59,494.2 214.84,495.2 215.09,495.5 215.34,495.4 215.59,495.3 215.84,495.2 216.09,495.0 216.34,494.9 216.59,494.7 216.84,494.6 217.09,494.5 217.34,494.5 217.59,494.6 217.84,494.9 218.09,495.3 218.34,495.6 218.59,496.0 218.84,496.3 219.09,496.4 219.34,496.5 219.59,496.3 219.84,496.0 220.09,495.7 220.34,495.3 220.59,495.0 220.84,494.7 221.09,494.5 221.34,494.5 221.59,494.8 221.84,495.3 222.09,495.8 222.34,496.3 222.59,496.5 222.84,496.5 223.09,496.5 223.34,496.5 223.59,496.5 223.84,496.2 224.09,495.7 224.34,494.9 224.59,493.9 224.84,493.0 225.09,492.2 225.34,491.7 225.59,491.5 225.84,492.0 226.09,493.0 226.34,494.4 226.59,495.6 226.84,496.4 227.09,496.4 227.34,496.2 227.59,495.8 227.84,495.2 228.09,494.4 228.34,493.6 228.59,491.4 228.84,486.8 229.09,480.5 229.34,473.2 229.59,465.6 229.84,458.5 230.09,452.7 230.34,448.8 230.59,447.7 230.84,451.6 231.09,459.5 231.34,469.0 231.59,477.6 231.84,482.9 232.09,483.0 232.34,480.0 232.59,475.8 232.84,471.8 233.09,469.7 233.34,472.3 233.59,480.2 233.84,486.7 234.09,487.4 234.34,486.6 234.59,485.3 234.84,484.0 235.09,482.7 235.34,481.8 235.59,481.6 235.84,483.1 236.09,485.9 236.34,489.4 236.59,492.7 236.84,495.0 237.09,496.1 237.34,496.9 237.59,497.5 237.84,497.8 238.09,497.9 238.34,497.8 238.59,497.6 238.84,497.4 239.09,497.2 239.34,496.9 239.59,496.7 239.84,496.5 240.09,496.4 240.34,496.3 240.59,496.1 240.84,496.0 241.09,495.9 241.34,495.8 241.59,495.7 241.84,495.5 242.09,495.3 242.34,495.0 242.59,494.6 242.84,494.2 243.09,493.8 243.34,493.4 243.59,493.0 243.84,492.7 244.09,492.5 244.34,492.5 244.59,492.8 244.84,493.6 245.09,494.5 245.34,495.4 245.59,496.1 245.84,496.5 246.09,496.4 246.34,496.2 246.59,495.8 246.84,495.3 247.09,494.7 247.34,493.9 247.59,493.0 247.84,490.2 248.09,485.8 248.34,480.2 248.59,473.9 248.84,467.6 249.09,461.7 249.34,456.7 249.59,453.2 249.84,451.7 250.09,453.5 250.34,459.5 250.59,468.0 250.84,477.1 251.09,485.2 251.34,490.4 251.59,491.8 251.84,492.4 252.09,492.8 252.34,493.2 252.59,493.4 252.84,493.5 253.09,492.9 253.34,491.2 253.59,488.8 253.84,486.2 254.09,483.6 254.34,481.6 254.59,480.6 254.84,480.9 255.09,482.5 255.34,484.8 255.59,487.4 255.84,489.7 256.09,491.2 256.34,491.5 256.59,491.4 256.84,491.2 257.09,490.9 257.34,490.6 257.59,490.3 257.84,489.7 258.09,489.0 258.34,488.3 258.59,487.7 258.84,487.5 259.09,488.1 259.34,489.7 259.59,491.7 259.84,493.7 260.09,495.1 260.34,495.6 260.59,495.9 260.84,496.1 261.09,496.2 261.34,496.4 261.59,496.5 261.84,496.5 262.09,496.4 262.34,496.2 262.59,495.9 262.84,495.5 263.09,495.1 263.34,494.6 263.59,494.1 263.84,493.4 264.09,492.4 264.34,491.4 264.59,490.4 264.84,489.4 265.09,488.3 265.34,487.0 265.59,485.7 265.84,484.6 266.09,484.0 266.34,484.1 266.59,485.5 266.84,487.5 267.09,489.4 267.34,490.4 267.59,489.8 267.84,487.1 268.09,482.7 268.34,477.1 268.59,470.9 268.84,464.6 269.09,454.8 269.34,441.6 269.59,426.9 269.84,413.2 270.09,402.6 270.34,397.5 270.59,399.9 270.84,409.5 271.09,423.7 271.34,439.9 271.59,455.5 271.84,467.9 272.09,480.9 272.34,489.2 272.59,489.3 272.84,488.7 273.09,488.0 273.34,487.4 273.59,487.1 273.84,487.7 274.09,489.2 274.34,490.9 274.59,492.6 274.84,493.7 275.09,494.6 275.34,495.4 275.59,496.2 275.84,496.9 276.09,497.3 276.34,497.5 276.59,497.5 276.84,497.5 277.09,497.4 277.34,497.4 277.59,497.3 277.84,497.3 278.09,497.2 278.34,497.2 278.59,497.1 278.84,497.1 279.09,497.0 279.34,496.9 279.59,496.8 279.84,496.7 280.09,496.6 280.34,496.5 280.59,496.3 280.84,496.1 281.09,495.8 281.34,495.5 281.59,493.7 281.84,489.3 282.09,483.1 282.34,476.2 282.59,469.4 282.84,463.3 283.09,455.9 283.34,448.4 283.59,443.3 283.84,442.8 284.09,447.5 284.34,455.0 284.59,462.4 284.84,467.3 285.09,471.0 285.34,474.3 285.59,477.2 285.84,479.5 286.09,481.3 286.34,482.9 286.59,484.5 286.84,486.4 287.09,488.8 287.34,491.1 287.59,492.9 287.84,493.8 288.09,494.4 288.34,495.0 288.59,495.4 288.84,495.8 289.09,496.1 289.34,496.4 289.59,496.5 289.84,496.4 290.09,495.6 290.34,494.1 290.59,492.1 290.84,489.9 291.09,487.6 291.34,485.3 291.59,482.3 291.84,478.4 292.09,474.1 292.34,469.9 292.59,466.2 292.84,463.7 293.09,462.6 293.34,464.3 293.59,469.1 293.84,475.6 294.09,482.6 294.34,488.7 294.59,492.7 294.84,494.0 295.09,494.8 295.34,495.5 295.59,496.0 295.84,496.4 296.09,496.5 296.34,496.5 296.59,496.5 296.84,496.5 297.09,496.5 297.34,496.5 297.59,496.5 297.84,496.5 298.09,496.5 298.34,496.5 298.59,496.5 298.84,496.5 299.09,496.4 299.34,496.2 299.59,496.0 299.84,495.7 300.09,495.5 300.34,495.0 300.59,494.2 300.84,493.4 301.09,492.5 301.34,491.9 301.59,491.5 301.84,491.8 302.09,493.0 302.34,494.5 302.59,495.4 302.84,495.3 303.09,494.5 303.34,493.3 303.59,492.0 303.84,490.9 304.09,490.1 304.34,490.0 304.59,490.8 304.84,492.4 305.09,494.1 305.34,495.6 305.59,496.4 305.84,496.5 306.09,496.5 306.34,496.5 306.59,496.5 306.84,496.5 307.09,496.5 307.34,496.5 307.59,496.5 307.84,496.5 308.09,496.5 308.34,496.5 308.59,496.5 308.84,496.3 309.09,495.5 309.34,494.2 309.59,492.5 309.84,490.5 310.09,488.3 310.34,486.0 310.59,483.7 310.84,481.4 311.09,479.2 311.34,476.4 311.59,473.1 311.84,470.1 312.09,468.0 312.34,467.3 312.59,469.0 312.84,472.2 313.09,475.6 313.34,477.5 313.59,475.6 313.84,468.4 314.09,459.5 314.34,452.7 314.59,451.4 314.84,455.0 315.09,461.3 315.34,468.8 315.59,475.7 315.84,480.5 316.09,484.2 316.34,487.8 316.59,491.0 316.84,493.4 317.09,494.7 317.34,494.8 317.59,494.4 317.84,493.6 318.09,492.6 318.34,491.6 318.59,490.3 318.84,488.3 319.09,486.0 319.34,483.4 319.59,480.9 319.84,478.6 320.09,476.7 320.34,475.5 320.59,475.2 320.84,476.2 321.09,478.6 321.34,481.8 321.59,485.4 321.84,488.8 322.09,491.7 322.34,493.5 322.59,494.5 322.84,495.5 323.09,496.4 323.34,497.1 323.59,497.6 323.84,497.8 324.09,497.8 324.34,497.6 324.59,497.3 324.84,496.9 325.09,496.4 325.34,495.9 325.59,495.4 325.84,494.7 326.09,493.8 326.34,492.9 326.59,492.0 326.84,491.2 327.09,490.7 327.34,490.5 327.59,491.2 327.84,492.9 328.09,494.7 328.34,496.1 328.59,496.4 328.84,494.5 329.09,491.3 329.34,487.7 329.59,484.8 329.84,481.9 330.09,478.9 330.34,476.0 330.59,473.5 330.84,471.7 331.09,471.0 331.34,472.5 331.59,476.6 331.84,481.9 332.09,486.8 332.34,489.8 332.59,491.5 332.84,493.1 333.09,494.3 333.34,495.2 333.59,495.6 333.84,495.9 334.09,496.1 334.34,496.3 334.59,496.4 334.84,496.5 335.09,496.2 335.34,495.1 335.59,493.2 335.84,490.8 336.09,488.0 336.34,484.8 336.59,477.8 336.84,466.6 337.09,452.8 337.34,438.1 337.59,424.2 337.84,412.7 338.09,405.2 338.34,403.6 338.59,411.4 338.84,426.2 339.09,443.7 339.34,459.4 339.59,469.7 339.84,478.8 340.09,486.7 340.34,492.1 340.59,494.1 340.84,495.2 341.09,496.1 341.34,496.8 341.59,497.3 341.84,497.5 342.09,497.5 342.34,497.6 342.59,497.7 342.84,497.7 343.09,497.7 343.34,497.8 343.59,497.8 343.84,497.8 344.09,497.8 344.34,497.9 344.59,497.9 344.84,497.9 345.09,497.9 345.34,497.8 345.59,497.8 345.84,497.7 346.09,497.6 346.34,497.5 346.59,497.5 346.84,497.5 347.09,497.5 347.34,497.5 347.59,497.5 347.84,497.5 348.09,497.5 348.34,497.5 348.59,497.5 348.84,497.5 349.09,497.5 349.34,497.4 349.59,497.4 349.84,497.3 350.09,497.2 350.34,497.1 350.59,497.0 350.84,496.8 351.09,496.7 351.34,496.5 351.59,496.3 351.84,495.9 352.09,495.3 352.34,494.6 352.59,493.9 352.84,493.0 353.09,492.2 353.34,491.4 353.59,490.7 353.84,490.1 354.09,489.7 354.34,489.5 354.59,489.7 354.84,490.4 355.09,491.6 355.34,493.0 355.59,494.3 355.84,495.5 356.09,496.3 356.34,496.6 356.59,496.7 356.84,496.9 357.09,497.0 357.34,497.1 357.59,497.2 357.84,497.3 358.09,497.4 358.34,497.4 358.59,497.5 358.84,497.5 359.09,497.4 359.34,497.3 359.59,497.1 359.84,496.9 360.09,496.6 360.34,496.3 360.59,496.0 360.84,495.7 361.09,495.4 361.34,495.1 361.59,494.9 361.84,494.7 362.09,494.5 362.34,494.5 362.59,494.6 362.84,495.0 363.09,495.6 363.34,496.3 363.59,497.0 363.84,497.6 364.09,497.8 364.34,497.9 364.59,497.9 364.84,497.9 365.09,497.9 365.34,497.9 365.59,497.9 365.84,497.9 366.09,497.9 366.34,497.9 366.59,497.9 366.84,497.9 367.09,497.9 367.34,497.9 367.59,497.9 367.84,497.9 368.09,497.9 368.34,497.9 368.59,497.9 368.84,497.9 369.09,497.9 369.34,497.9 369.59,497.9 369.84,497.9 370.09,497.9 370.34,497.9 370.59,497.9 370.84,497.9 371.09,497.9 371.34,497.9 371.59,497.9 371.84,497.9 372.09,497.8 372.34,497.7 372.59,497.6 372.84,497.4 373.09,497.2 373.34,497.0 373.59,496.8 373.84,496.5 374.09,496.2 374.34,495.9 374.59,495.7 374.84,495.4 375.09,494.9 375.34,494.4 375.59,493.8 375.84,493.1 376.09,492.5 376.34,491.9 376.59,491.3 376.84,490.9 377.09,490.6 377.34,490.5 377.59,490.8 377.84,491.7 378.09,492.8 378.34,494.1 378.59,495.4 378.84,496.5 379.09,497.2 379.34,497.5 379.59,497.5 379.84,497.5 380.09,497.5 380.34,497.5 380.59,497.5 380.84,497.5 381.09,497.5 381.34,497.5 381.59,497.5 381.84,497.5 382.09,497.5 382.34,497.3 382.59,496.9 382.84,496.2 383.09,495.4 383.34,494.5 383.59,493.6 383.84,492.7 384.09,492.0 384.34,491.4 384.59,491.1 384.84,491.2 385.09,492.1 385.34,493.3 385.59,494.8 385.84,496.2 386.09,497.2 386.34,497.5 386.59,497.5 386.84,497.6 387.09,497.7 387.34,497.7 387.59,497.7 387.84,497.8 388.09,497.8 388.34,497.8 388.59,497.8 388.84,497.9 389.09,497.9 389.34,497.9 389.59,497.9 389.84,497.8 390.09,497.6 390.34,497.2 390.59,496.7 390.84,496.0 391.09,495.2 391.34,494.3 391.59,493.4 391.84,492.4 392.09,491.4 392.34,489.9 392.59,487.9 392.84,485.4 393.09,482.7 393.34,480.1 393.59,477.8 393.84,475.9 394.09,474.8 394.34,474.7 394.59,476.6 394.84,480.2 395.09,484.3 395.34,488.3 395.59,491.1 395.84,492.5 396.09,493.8 396.34,494.9 396.59,495.8 396.84,496.3 397.09,496.5 397.34,495.9 397.59,494.7 397.84,493.1 398.09,491.2 398.34,489.3 398.59,487.5 398.84,486.1 399.09,485.3 399.34,485.2 399.59,486.3 399.84,488.3 400.09,490.6 400.34,492.9 400.59,494.7 400.84,495.5 401.09,495.7 401.34,495.9 401.59,496.1 401.84,496.3 402.09,496.4 402.34,496.5 402.59,496.5 402.84,496.5 403.09,496.5 403.34,496.5 403.59,496.5 403.84,496.5 404.09,496.5 404.34,496.5 404.59,496.5 404.84,496.5 405.09,496.5 405.34,496.5 405.59,496.5 405.84,496.5 406.09,496.4 406.34,495.9 406.59,495.0 406.84,493.8 407.09,492.6 407.34,491.4 407.59,490.5 407.84,490.0 408.09,489.9 408.34,490.2 408.59,490.7 408.84,491.4 409.09,492.1 409.34,492.9 409.59,493.6 409.84,494.2 410.09,494.8 410.34,495.3 410.59,495.8 410.84,496.4 411.09,496.9 411.34,497.3 411.59,497.6 411.84,497.8 412.09,497.9 412.34,498.0 412.59,498.1 412.84,498.1 413.09,498.2 413.34,498.2 413.59,498.3 413.84,498.3 414.09,498.3 414.34,498.4 414.59,498.4 414.84,498.4 415.09,498.4 415.34,498.5 415.59,498.5 415.84,498.5 416.09,498.5 416.34,498.5 416.59,498.5 416.84,498.4 417.09,498.4 417.34,498.4 417.59,498.4 417.84,498.3 418.09,498.3 418.34,498.2 418.59,498.2 418.84,498.1 419.09,498.1 419.34,498.0 419.59,498.0 419.84,497.9 420.09,497.8 420.34,497.6 420.59,497.2 420.84,496.8 421.09,496.4 421.34,496.0 421.59,495.6 421.84,495.3 422.09,495.1 422.34,495.1 422.59,495.4 422.84,496.0 423.09,496.7 423.34,497.5 423.59,498.1 423.84,498.5 424.09,498.5 424.34,498.5 424.59,498.5 424.84,498.4 425.09,498.4 425.34,498.4 425.59,498.4 425.84,498.3 426.09,498.3 426.34,498.2 426.59,498.2 426.84,498.1 427.09,498.1 427.34,498.0 427.59,498.0 427.84,497.9 428.09,497.7 428.34,497.4 428.59,496.9 428.84,496.4 429.09,495.8 429.34,495.2 429.59,494.6 429.84,494.2 430.09,494.0 430.34,493.9 430.59,494.3 430.84,495.0 431.09,495.9 431.34,496.8 431.59,497.5 431.84,497.9 432.09,497.9 432.34,498.0 432.59,498.1 432.84,498.1 433.09,498.2 433.34,498.2 433.59,498.3 433.84,498.3 434.09,498.4 434.34,498.4 434.59,498.4 434.84,498.4 435.09,498.5 435.34,498.5 435.59,498.5 435.84,498.5 436.09,498.5 436.34,498.4 436.59,498.4 436.84,498.4 437.09,498.3 437.34,498.2 437.59,498.1 437.84,498.0 438.09,497.9 438.34,497.8 438.59,497.6 438.84,497.5 439.09,497.0 439.34,496.0 439.59,494.6 439.84,493.0 440.09,491.2 440.34,489.5 440.59,488.1 440.84,486.9 441.09,486.2 441.34,486.2 441.59,487.3 441.84,489.2 442.09,491.3 442.34,493.4 442.59,494.9 442.84,495.5 443.09,495.4 443.34,495.3 443.59,495.1 443.84,494.8 444.09,494.5 444.34,494.2 444.59,494.0 444.84,493.7 445.09,493.6 445.34,493.5 445.59,493.6 445.84,494.0 446.09,494.6 446.34,495.4 446.59,496.2 446.84,496.9 447.09,497.5 447.34,497.8 447.59,497.9 447.84,498.0 448.09,498.1 448.34,498.2 448.59,498.3 448.84,498.3 449.09,498.4 449.34,498.4 449.59,498.4 449.84,498.5 450.09,498.5 450.34,498.5 450.59,498.5 450.84,498.4 451.09,498.4 451.34,498.4 451.59,498.4 451.84,498.3 452.09,498.3 452.34,498.2 452.59,498.2 452.84,498.1 453.09,498.1 453.34,498.0 453.59,497.9 453.84,497.9 454.09,497.7 454.34,497.5 454.59,497.2 454.84,496.9 455.09,496.5 455.34,496.2 455.59,495.8 455.84,495.4 456.09,494.8 456.34,494.1 456.59,493.6 456.84,493.5 457.09,494.0 457.34,494.7 457.59,495.3 457.84,495.5 458.09,495.4 458.34,495.3 458.59,495.2 458.84,495.1 459.09,495.1 459.34,495.2 459.59,495.5 459.84,496.0 460.09,496.6 460.34,497.1 460.59,497.4 460.84,497.5 461.09,497.3 461.34,497.0 461.59,496.6 461.84,496.1 462.09,495.5 462.34,494.8 462.59,494.0 462.84,493.1 463.09,491.4 463.34,488.8 463.59,485.7 463.84,482.2 464.09,478.6 464.34,475.1 464.59,472.0 464.84,469.5 465.09,467.8 465.34,467.2 465.59,468.6 465.84,472.0 466.09,476.8 466.34,482.1 466.59,487.1 466.84,491.1 467.09,493.4 467.34,494.0 467.59,494.6 467.84,494.9 468.09,495.1 468.34,495.0 468.59,494.5 468.84,494.0 469.09,493.4 469.34,492.9 469.59,492.5 469.84,492.5 470.09,492.8 470.34,493.2 470.59,493.4 470.84,493.0 471.09,489.3 471.34,483.2 471.59,475.9 471.84,468.4 472.09,462.0 472.34,457.9 472.59,457.4 472.84,462.5 473.09,470.8 473.34,479.3 473.59,484.8 473.84,485.3 474.09,484.1 474.34,482.8 474.59,482.6 474.84,483.9 475.09,485.9 475.34,488.2 475.59,490.0 475.84,491.0 476.09,491.9 476.34,492.6 476.59,493.3 476.84,493.9 477.09,494.4 477.34,494.9 477.59,495.3 477.84,495.7 478.09,496.2 478.34,496.6 478.59,497.0 478.84,497.3 479.09,497.6 479.34,497.8 479.59,497.9 479.84,497.7 480.09,497.0 480.34,495.8 480.59,494.4 480.84,492.9 481.09,491.5 481.34,490.5 481.59,489.9 481.84,490.1 482.09,491.0 482.34,492.4 482.59,493.9 482.84,495.3 483.09,496.3 483.34,496.5 483.59,496.4 483.84,496.3 484.09,496.2 484.34,496.1 484.59,495.9 484.84,495.7 485.09,495.6 485.34,495.5 485.59,495.5 485.84,495.5 486.09,495.6 486.34,495.8 486.59,495.9 486.84,496.1 487.09,496.3 487.34,496.4 487.59,496.5 487.84,496.4 488.09,496.2 488.34,495.9 488.59,495.6 488.84,495.3 489.09,495.1 489.34,495.1 489.59,495.3 489.84,495.6 490.09,496.0 490.34,496.5 490.59,496.9 490.84,497.2 491.09,497.4 491.34,497.5 491.59,497.5 491.84,497.4 492.09,497.4 492.34,497.3 492.59,497.3 492.84,497.2 493.09,497.2 493.34,497.1 493.59,497.1 493.84,497.1 494.09,497.1 494.34,497.1 494.59,497.2 494.84,497.4 495.09,497.5 495.34,497.7 495.59,497.9 495.84,498.0 496.09,498.2 496.34,498.3 496.59,498.4 496.84,498.5 497.09,498.5 497.34,498.4 497.59,498.2 497.84,498.0 498.09,497.7 498.34,497.4 498.59,497.1 498.84,496.7 499.09,496.3 499.34,495.9 499.59,495.4 499.84,494.8 500.09,493.9 500.34,493.0 500.59,491.9 500.84,491.0 501.09,490.2 501.34,489.7 501.59,489.5 501.84,490.1 502.09,491.2 502.34,492.7 502.59,494.1 502.84,495.2 503.09,495.8 503.34,496.3 503.59,496.8 503.84,497.1 504.09,497.4 504.34,497.5 504.59,497.2 504.84,496.5 505.09,495.7 505.34,494.7 505.59,494.0 505.84,493.5 506.09,493.6 506.34,493.9 506.59,494.4 506.84,494.9 507.09,495.3 507.34,495.5 507.59,495.1 507.84,494.0 508.09,492.6 508.34,490.8 508.59,488.9 508.84,485.6 509.09,480.8 509.34,475.4 509.59,470.1 509.84,465.4 510.09,462.3 510.34,461.3 510.59,464.8 510.84,472.1 511.09,480.6 511.34,487.3 511.59,489.9 511.84,491.0 512.09,491.8 512.34,492.5 512.59,493.0 512.84,493.4 513.09,493.8 513.34,494.1 513.59,494.5 513.84,494.8 514.09,495.1 514.34,495.3 514.59,495.4 514.84,495.5 515.09,495.3 515.34,494.5 515.59,493.2 515.84,491.6 516.09,489.8 516.34,487.9 516.59,486.1 516.84,484.6 517.09,483.4 517.34,482.7 517.59,482.7 517.84,484.1 518.09,486.6 518.34,489.4 518.59,491.9 518.84,493.4 519.09,493.9 519.34,494.4 519.59,494.9 519.84,495.2 520.09,495.6 520.34,495.9 520.59,496.1 520.84,496.3 521.09,496.4 521.34,496.5 521.59,496.4 521.84,495.3 522.09,493.4 522.34,490.9 522.59,487.9 522.84,484.5 523.09,481.1 523.34,477.8 523.59,474.8 523.84,472.2 524.09,470.3 524.34,469.3 524.59,469.7 524.84,473.0 525.09,478.2 525.34,484.0 525.59,488.8 525.84,491.4 526.09,492.1 526.34,492.6 526.59,493.0 526.84,493.5 527.09,494.3 527.34,495.3 527.59,496.1 527.84,496.5 528.09,496.4 528.34,496.2 528.59,495.9 528.84,495.5 529.09,495.0 529.34,494.5 529.59,494.0 529.84,493.5 530.09,492.8 530.34,491.8 530.59,490.8 530.84,489.8 531.09,489.0 531.34,488.5 531.59,488.7 531.84,489.5 532.09,490.8 532.34,492.1 532.59,493.1 532.84,493.5 533.09,493.3 533.34,493.0 533.59,492.5 533.84,492.0 534.09,491.4 534.34,490.9 534.59,490.6 534.84,490.5 535.09,491.1 535.34,492.4 535.59,494.0 535.84,495.4 536.09,496.3 536.34,496.4 536.59,496.2 536.84,495.8 537.09,495.3 537.34,494.7 537.59,494.0 537.84,493.4 538.09,492.6 538.34,491.6 538.59,490.4 538.84,489.2 539.09,488.1 539.34,487.3 539.59,486.7 539.84,486.5 540.09,486.9 540.34,487.6 540.59,488.6 540.84,489.7 541.09,490.6 541.34,491.4 541.59,491.9 541.84,492.2 542.09,492.6 542.34,492.9 542.59,493.2 542.84,493.6 543.09,494.0 543.34,494.5 543.59,494.9 543.84,495.3 544.09,495.5 544.34,494.9 544.59,492.2 544.84,488.6 545.09,485.2 545.34,483.6 545.59,484.0 545.84,485.3 546.09,486.7 546.34,487.5 546.59,486.7 546.84,484.1 547.09,480.3 547.34,476.1 547.59,472.1 547.84,468.9 548.09,467.3 548.34,467.9 548.59,471.0 548.84,475.6 549.09,480.9 549.34,486.0 549.59,489.9 549.84,492.0 550.09,493.4 550.34,494.7 550.59,495.8 550.84,496.7 551.09,497.3 551.34,497.5 551.59,497.5 551.84,497.5 552.09,497.4 552.34,497.4 552.59,497.4 552.84,497.3 553.09,497.3 553.34,497.2 553.59,497.1 553.84,497.0 554.09,496.8 554.34,496.4 554.59,495.8 554.84,495.2 555.09,494.4 555.34,493.5 555.59,491.5 555.84,488.2 556.09,483.9 556.34,479.5 556.59,475.4 556.84,472.4 557.09,471.0 557.34,471.9 557.59,475.0 557.84,479.4 558.09,484.3 558.34,488.7 558.59,492.0 558.84,493.2 559.09,493.5 559.34,493.7 559.59,493.8 559.84,493.6 560.09,492.5 560.34,490.4 560.59,487.5 560.84,484.1 561.09,480.3 561.34,476.3 561.59,472.3 561.84,468.0 562.09,461.9 562.34,454.7 562.59,447.1 562.84,440.3 563.09,435.1 563.34,432.5 563.59,435.0 563.84,444.6 564.09,457.6 564.34,470.1 564.59,478.6 564.84,486.1 565.09,492.4 565.34,495.8 565.59,495.2 565.84,492.3 566.09,488.2 566.34,484.1 566.59,480.7 566.84,477.3 567.09,473.7 567.34,470.8 567.59,469.0 567.84,469.2 568.09,471.5 568.34,475.0 568.59,478.9 568.84,482.2 569.09,485.8 569.34,489.3 569.59,490.9 569.84,489.4 570.09,485.0 570.34,478.8 570.59,471.7 570.84,464.7 571.09,458.9 571.34,455.3 571.59,454.8 571.84,458.5 572.09,464.9 572.34,472.0 572.59,478.3 572.84,485.3 573.09,487.7 573.34,488.0 573.59,488.1 573.84,488.3 574.09,488.5 574.34,488.9 574.59,489.9 574.84,491.3 575.09,492.9 575.34,494.5 575.59,495.8 575.84,496.5 576.09,496.8 576.34,497.0 576.59,497.1 576.84,497.2 577.09,497.2 577.34,497.0 577.59,496.8 577.84,496.4 578.09,495.9 578.34,495.3 578.59,494.8 578.84,494.2 579.09,493.6 579.34,493.1 579.59,492.7 579.84,492.3 580.09,491.8 580.34,491.1 580.59,488.0 580.84,478.3 581.09,464.6 581.34,449.7 581.59,436.3 581.84,427.2 582.09,424.9 582.34,427.0 582.59,431.3 582.84,437.1 583.09,443.6 583.34,450.1 583.59,455.8 583.84,461.5 584.09,467.8 584.34,474.1 584.59,479.7 584.84,484.0 585.09,486.5 585.34,488.7 585.59,490.5 585.84,492.0 586.09,493.1 586.34,493.5 586.59,493.5 586.84,493.4 587.09,493.3 587.34,493.1 587.59,492.9 587.84,492.6 588.09,492.1 588.34,489.9 588.59,486.3 588.84,481.6 589.09,476.2 589.34,470.5 589.59,464.9 589.84,457.5 590.09,447.8 590.34,437.2 590.59,426.8 590.84,417.8 591.09,411.4 591.34,408.8 591.59,413.4 591.84,425.4 592.09,441.0 592.34,456.2 592.59,467.2 592.84,476.3 593.09,484.8 593.34,491.1 593.59,493.7 593.84,494.6 594.09,495.4 594.34,495.9 594.59,496.3 594.84,496.5 595.09,496.5 595.34,496.4 595.59,496.3 595.84,496.2 596.09,496.1 596.34,495.9 596.59,495.8 596.84,495.6 597.09,495.3 597.34,494.8 597.59,494.2 597.84,493.5 598.09,492.8 598.34,492.0 598.59,491.3 598.84,490.5 599.09,489.5 599.34,488.6 599.59,487.9 599.84,487.5 600.09,487.8 600.34,489.2 600.59,491.1 600.84,493.1 601.09,494.8 601.34,495.5 601.59,495.8 601.84,496.0 602.09,496.2 602.34,496.3 602.59,496.4 602.84,496.5 603.09,496.5 603.34,496.5 603.59,496.5 603.84,496.5 604.09,496.5 604.34,496.5 604.59,496.5 604.84,496.5 605.09,496.5 605.34,496.5 605.59,496.5 605.84,496.2 606.09,495.6 606.34,494.7 606.59,493.7 606.84,492.6 607.09,491.4 607.34,490.2 607.59,489.0 607.84,487.2 608.09,485.0 608.34,482.7 608.59,480.5 608.84,478.6 609.09,477.5 609.34,477.2 609.59,477.8 609.84,479.0 610.09,480.4 610.34,481.9 610.59,483.0 610.84,483.5 611.09,483.5 611.34,483.3 611.59,483.0 611.84,482.8 612.09,482.6 612.34,482.6 612.59,483.0 612.84,483.7 613.09,484.6 613.34,485.5 613.59,486.2 613.84,486.5 614.09,486.3 614.34,485.8 614.59,485.0 614.84,484.1 615.09,483.0 615.34,482.0 615.59,480.9 615.84,479.5 616.09,477.8 616.34,476.2 616.59,475.0 616.84,474.6 617.09,476.2 617.34,479.9 617.59,483.7 617.84,485.5 618.09,484.7 618.34,482.6 618.59,479.7 618.84,476.7 619.09,474.2 619.34,472.7 619.59,472.8 619.84,474.2 620.09,476.4 620.34,479.0 620.59,481.6 620.84,483.6 621.09,485.2 621.34,486.9 621.59,488.4 621.84,489.8 622.09,491.0 622.34,491.9 622.59,492.7 622.84,493.5 623.09,494.2 623.34,494.8 623.59,495.2 623.84,495.5 624.09,495.6 624.34,495.8 624.59,495.9 624.84,496.0 625.09,496.1 625.34,496.2 625.59,496.3 625.84,496.4 626.09,496.4 626.34,496.5 626.59,496.5 626.84,496.5 627.09,496.5 627.34,496.5 627.59,496.5 627.84,496.5 628.09,496.5 628.34,496.5 628.59,496.5 628.84,496.5 629.09,496.5 629.34,496.5 629.59,496.5 629.84,496.5 630.09,496.5 630.34,496.4 630.59,496.4 630.84,496.3 631.09,496.3 631.34,496.2 631.59,496.1 631.84,496.0 632.09,495.9 632.34,495.7 632.59,495.6 632.84,495.4 633.09,495.2 633.34,494.9 633.59,494.4 633.84,493.9 634.09,493.3 634.34,492.7 634.59,492.0 634.84,491.3 635.09,490.4 635.34,489.2 635.59,487.9 635.84,486.5 636.09,485.1 636.34,483.7 636.59,482.5 636.84,481.5 637.09,480.8 637.34,480.5 637.59,481.2 637.84,483.3 638.09,486.0 638.34,488.7 638.59,490.8 638.84,491.6 639.09,492.1 639.34,492.4 639.59,492.8 639.84,493.0 640.09,493.2 640.34,493.4 640.59,493.5 640.84,493.5 641.09,493.3 641.34,492.8 641.59,492.3 641.84,491.6 642.09,491.0 642.34,490.3 642.59,489.8 642.84,489.4 643.09,489.0 643.34,488.6 643.59,488.2 643.84,487.8 644.09,487.5 644.34,487.2 644.59,486.9 644.84,486.7 645.09,486.6 645.34,486.5 645.59,486.8 645.84,487.4 646.09,488.2 646.34,488.9 646.59,489.4 646.84,489.5 647.09,489.0 647.34,488.3 647.59,487.5 647.84,486.8 648.09,486.5 648.34,486.8 648.59,487.5 648.84,488.6 649.09,489.8 649.34,490.8 649.59,491.4 649.84,491.5 650.09,491.4 650.34,491.2 650.59,491.0 650.84,490.7 651.09,490.4 651.34,490.0 651.59,489.7 651.84,489.3 652.09,488.8 652.34,488.1 652.59,487.3 652.84,486.5 653.09,485.6 653.34,484.7 653.59,483.9 653.84,483.2 654.09,482.6 654.34,482.2 654.59,482.0 654.84,482.1 655.09,482.8 655.34,484.0 655.59,485.3 655.84,486.6 656.09,487.5 656.34,488.1 656.59,488.6 656.84,489.0 657.09,489.4 657.34,489.8 657.59,490.3 657.84,490.9 658.09,491.6 658.34,492.5 658.59,493.3 658.84,493.9 659.09,494.4 659.34,494.5 659.59,494.3 659.84,493.9 660.09,493.4 660.34,492.8 660.59,492.3 660.84,491.9 661.09,491.6 661.34,491.5 661.59,491.6 661.84,491.8 662.09,492.1 662.34,492.4 662.59,492.8 662.84,493.1 663.09,493.4 663.34,493.5 663.59,493.7 663.84,493.8 664.09,494.0 664.34,494.1 664.59,494.2 664.84,494.3 665.09,494.4 665.34,494.5 665.59,494.5 665.84,494.5 666.09,494.4 666.34,494.4 666.59,494.3 666.84,494.2 667.09,494.1 667.34,494.0 667.59,493.9 667.84,493.8 668.09,493.7 668.34,493.6 668.59,493.5 668.84,493.5 669.09,493.4 669.34,493.4 669.59,493.4 669.84,493.3 670.09,493.3 670.34,493.3 670.59,493.2 670.84,493.2 671.09,493.1 671.34,493.0 671.59,492.8 671.84,492.4 672.09,492.0 672.34,491.5 672.59,491.1 672.84,490.7 673.09,490.5 673.34,490.5 673.59,490.6 673.84,490.7 674.09,490.8 674.34,491.0 674.59,491.1 674.84,491.3 675.09,491.4 675.34,491.5 675.59,491.5 675.84,491.5 676.09,491.5 676.34,491.4 676.59,491.3 676.84,491.2 677.09,491.1 677.34,491.0 677.59,490.9 677.84,490.8 678.09,490.7 678.34,490.6 678.59,490.5 678.84,490.4 679.09,490.4 679.34,490.3 679.59,490.2 679.84,490.1 680.09,490.1 680.34,490.0 680.59,489.9 680.84,489.8 681.09,489.7 681.34,489.6 681.59,489.5 681.84,489.4 682.09,489.2 682.34,488.9 682.59,488.6 682.84,488.3 683.09,488.0 683.34,487.6 683.59,487.2 683.84,486.8 684.09,486.4 684.34,486.0 684.57,485.5" fill="none" stroke="#1a1a1a" stroke-width="1" stroke-linejoin="round"/>
<path d="M684.1 550.00V689.00" fill="none" stroke="#e6e6e6" stroke-width="1.8"/>
<path d="M41.5 549.50H684M41.5 549.50V689.50H684" fill="none" stroke="#c4c4c4" stroke-width="1"/>
<path d="M36 683.50H41.5M39 677.63H41.5M39 671.77H41.5M39 665.90H41.5M39 660.04H41.5M36 654.17H41.5M39 648.31H41.5M39 642.45H41.5M39 636.58H41.5M39 630.72H41.5M36 624.85H41.5M39 618.99H41.5M39 613.12H41.5M39 607.25H41.5M39 601.39H41.5M36 595.52H41.5M39 589.66H41.5M39 583.79H41.5M39 577.93H41.5M39 572.07H41.5M36 566.20H41.5M39 560.34H41.5M39 554.47H41.5M41.30 689.50V694.50M49.87 689.50V692.00M58.44 689.50V692.00M67.01 689.50V692.00M75.58 689.50V692.00M84.15 689.50V694.50M92.72 689.50V692.00M101.29 689.50V692.00M109.86 689.50V692.00M118.43 689.50V692.00M127.00 689.50V694.50M135.57 689.50V692.00M144.14 689.50V692.00M152.71 689.50V692.00M161.28 689.50V692.00M169.85 689.50V694.50M178.42 689.50V692.00M186.99 689.50V692.00M195.56 689.50V692.00M204.13 689.50V692.00M212.70 689.50V694.50M221.27 689.50V692.00M229.84 689.50V692.00M238.41 689.50V692.00M246.98 689.50V692.00M255.55 689.50V694.50M264.12 689.50V692.00M272.69 689.50V692.00M281.26 689.50V692.00M289.83 689.50V692.00M298.40 689.50V694.50M306.97 689.50V692.00M315.54 689.50V692.00M324.11 689.50V692.00M332.68 689.50V692.00M341.25 689.50V694.50M349.82 689.50V692.00M358.39 689.50V692.00M366.96 689.50V692.00M375.53 689.50V692.00M384.10 689.50V694.50M392.67 689.50V692.00M401.24 689.50V692.00M409.81 689.50V692.00M418.38 689.50V692.00M426.95 689.50V694.50M435.52 689.50V692.00M444.09 689.50V692.00M452.66 689.50V692.00M461.23 689.50V692.00M469.80 689.50V694.50M478.37 689.50V692.00M486.94 689.50V692.00M495.51 689.50V692.00M504.08 689.50V692.00M512.65 689.50V694.50M521.22 689.50V692.00M529.79 689.50V692.00M538.36 689.50V692.00M546.93 689.50V692.00M555.50 689.50V694.50M564.07 689.50V692.00M572.64 689.50V692.00M581.21 689.50V692.00M589.78 689.50V692.00M598.35 689.50V694.50M606.92 689.50V692.00M615.49 689.50V692.00M624.06 689.50V692.00M632.63 689.50V692.00M641.20 689.50V694.50M649.77 689.50V692.00M658.34 689.50V692.00M666.91 689.50V692.00M675.48 689.50V692.00M684.05 689.50V694.50" stroke="#c4c4c4" stroke-width="1"/>
<text x="35.8" y="686.10" text-anchor="end">0</text>
<text x="35.8" y="656.77" text-anchor="end">5000000</text>
<text x="35.8" y="627.45" text-anchor="end">10000000</text>
<text x="35.8" y="598.12" text-anchor="end">15000000</text>
<text x="35.8" y="568.80" text-anchor="end">20000000</text>
<text x="41.30" y="702.10" text-anchor="middle">0,0</text>
<text x="84.15" y="702.10" text-anchor="middle">5,0</text>
<text x="127.00" y="702.10" text-anchor="middle">10,0</text>
<text x="169.85" y="702.10" text-anchor="middle">15,0</text>
<text x="212.70" y="702.10" text-anchor="middle">20,0</text>
<text x="255.55" y="702.10" text-anchor="middle">25,0</text>
<text x="298.40" y="702.10" text-anchor="middle">30,0</text>
<text x="341.25" y="702.10" text-anchor="middle">35,0</text>
<text x="384.10" y="702.10" text-anchor="middle">40,0</text>
<text x="426.95" y="702.10" text-anchor="middle">45,0</text>
<text x="469.80" y="702.10" text-anchor="middle">50,0</text>
<text x="512.65" y="702.10" text-anchor="middle">55,0</text>
<text x="555.50" y="702.10" text-anchor="middle">60,0</text>
<text x="598.35" y="702.10" text-anchor="middle">65,0</text>
<text x="641.20" y="702.10" text-anchor="middle">70,0</text>
<text x="671.6" y="702.10" textLength="11.4" lengthAdjust="spacingAndGlyphs">min</text>
<text x="41.8" y="555.50">1:BPC(-)</text>
<polyline points="41.59,680.1 41.84,679.9 42.09,679.8 42.34,679.6 42.59,679.5 42.84,679.5 43.09,679.5 43.34,679.5 43.59,679.6 43.84,679.7 44.09,679.8 44.34,679.9 44.59,680.0 44.84,680.0 45.09,680.1 45.34,680.2 45.59,680.2 45.84,680.3 46.09,680.4 46.34,680.4 46.59,680.5 46.84,680.6 47.09,680.6 47.34,680.7 47.59,680.8 47.84,680.8 48.09,680.9 48.34,680.9 48.59,681.0 48.84,681.0 49.09,681.0 49.34,681.0 49.59,681.1 49.84,681.1 50.09,680.7 50.34,678.7 50.59,675.2 50.84,670.9 51.09,666.1 51.34,658.9 51.59,650.3 51.84,641.9 52.09,634.3 52.34,625.8 52.59,617.1 52.84,609.4 53.09,603.9 53.34,601.8 53.59,604.6 53.84,611.9 54.09,621.6 54.34,631.7 54.59,640.3 54.84,649.2 55.09,658.2 55.34,665.6 55.59,669.5 55.84,671.9 56.09,673.9 56.34,675.4 56.59,676.5 56.84,677.0 57.09,676.7 57.34,674.5 57.59,671.1 57.84,667.0 58.09,662.7 58.34,658.7 58.59,655.7 58.84,654.1 59.09,654.3 59.34,655.5 59.59,657.6 59.84,660.1 60.09,662.8 60.34,665.3 60.59,667.6 60.84,670.2 61.09,672.8 61.34,674.7 61.59,675.0 61.84,673.7 62.09,671.4 62.34,668.5 62.59,665.8 62.84,663.6 63.09,662.7 63.34,664.1 63.59,667.5 63.84,671.8 64.09,675.4 64.34,677.2 64.59,678.0 64.84,678.6 65.09,679.1 65.34,679.6 65.59,679.9 65.84,680.0 66.09,680.2 66.34,680.3 66.59,680.4 66.84,680.5 67.09,680.6 67.34,680.7 67.59,680.7 67.84,680.8 68.09,680.9 68.34,680.9 68.59,681.0 68.84,681.0 69.09,681.0 69.34,681.1 69.59,681.1 69.84,681.1 70.09,681.1 70.34,681.1 70.59,681.1 70.84,681.1 71.09,681.1 71.34,681.1 71.59,681.1 71.84,681.1 72.09,681.1 72.34,681.1 72.59,681.1 72.84,681.1 73.09,680.8 73.34,679.9 73.59,678.6 73.84,677.1 74.09,675.3 74.34,673.6 74.59,672.1 74.84,670.9 75.09,670.2 75.34,670.1 75.59,671.1 75.84,673.0 76.09,675.3 76.34,677.5 76.59,679.3 76.84,680.1 77.09,680.2 77.34,680.3 77.59,680.4 77.84,680.5 78.09,680.6 78.34,680.7 78.59,680.8 78.84,680.9 79.09,680.9 79.34,681.0 79.59,681.0 79.84,681.0 80.09,681.0 80.34,681.1 80.59,681.1 80.84,681.1 81.09,680.8 81.34,680.2 81.59,679.3 81.84,678.2 82.09,677.0 82.34,675.8 82.59,674.8 82.84,674.0 83.09,673.6 83.34,673.6 83.59,674.5 83.84,676.0 84.09,677.8 84.34,679.4 84.59,680.7 84.84,681.1 85.09,681.1 85.34,681.1 85.59,681.1 85.84,681.1 86.09,681.1 86.34,681.1 86.59,681.1 86.84,681.1 87.09,681.1 87.34,681.1 87.59,681.1 87.84,681.1 88.09,681.1 88.34,681.1 88.59,681.1 88.84,681.1 89.09,680.7 89.34,680.0 89.59,679.0 89.84,677.9 90.09,676.8 90.34,675.9 90.59,675.3 90.84,675.1 91.09,675.8 91.34,677.1 91.59,678.7 91.84,680.1 92.09,681.0 92.34,681.0 92.59,680.6 92.84,679.9 93.09,679.1 93.34,678.3 93.59,677.5 93.84,677.0 94.09,676.4 94.34,675.9 94.59,675.4 94.84,674.9 95.09,674.6 95.34,674.5 95.59,674.8 95.84,675.9 96.09,677.3 96.34,678.7 96.59,679.7 96.84,680.1 97.09,680.3 97.34,680.4 97.59,680.6 97.84,680.7 98.09,680.8 98.34,680.9 98.59,680.9 98.84,681.0 99.09,681.0 99.34,681.1 99.59,681.1 99.84,681.1 100.09,681.1 100.34,681.0 100.59,681.0 100.84,680.9 101.09,680.8 101.34,680.7 101.59,680.6 101.84,680.5 102.09,680.4 102.34,680.3 102.59,680.2 102.84,680.0 103.09,679.9 103.34,679.7 103.59,679.5 103.84,679.3 104.09,679.0 104.34,678.7 104.59,678.5 104.84,678.2 105.09,677.9 105.34,677.6 105.59,677.3 105.84,676.9 106.09,676.5 106.34,676.1 106.59,675.6 106.84,675.1 107.09,674.7 107.34,674.3 107.59,674.1 107.84,674.1 108.09,674.3 108.34,674.6 108.59,674.9 108.84,675.2 109.09,675.4 109.34,675.5 109.59,675.3 109.84,674.9 110.09,674.5 110.34,674.2 110.59,674.1 110.84,674.9 111.09,676.2 111.34,677.8 111.59,679.3 111.84,680.5 112.09,681.1 112.34,681.1 112.59,681.1 112.84,681.1 113.09,681.1 113.34,681.1 113.59,681.1 113.84,681.1 114.09,681.1 114.34,681.1 114.59,681.1 114.84,681.0 115.09,680.7 115.34,680.1 115.59,679.4 115.84,678.6 116.09,678.0 116.34,677.4 116.59,677.1 116.84,677.2 117.09,677.7 117.34,678.5 117.59,679.5 117.84,680.3 118.09,680.9 118.34,681.1 118.59,681.0 118.84,681.0 119.09,680.8 119.34,680.7 119.59,680.5 119.84,680.3 120.09,680.1 120.34,679.8 120.59,679.6 120.84,679.4 121.09,679.2 121.34,679.0 121.59,678.8 121.84,678.6 122.09,678.4 122.34,678.2 122.59,678.1 122.84,678.2 123.09,678.5 123.34,679.0 123.59,679.6 123.84,679.9 124.09,680.1 124.34,679.8 124.59,679.3 124.84,678.6 125.09,677.9 125.34,677.4 125.59,677.1 125.84,677.2 126.09,677.4 126.34,677.7 126.59,678.1 126.84,678.4 127.09,678.6 127.34,678.6 127.59,678.2 127.84,677.3 128.09,676.1 128.34,675.0 128.59,674.0 128.84,673.3 129.09,673.1 129.34,673.7 129.59,674.9 129.84,676.1 130.09,676.9 130.34,676.3 130.59,668.9 130.84,657.1 131.09,644.6 131.34,634.4 131.59,623.5 131.84,611.9 132.09,600.8 132.34,591.4 132.59,585.1 132.84,582.9 133.09,588.6 133.34,601.6 133.59,617.6 133.84,632.4 134.09,642.8 134.34,652.7 134.59,661.5 134.84,667.0 135.09,667.8 135.34,666.3 135.59,663.9 135.84,661.3 136.09,659.2 136.34,658.2 136.59,659.6 136.84,663.6 137.09,668.5 137.34,672.6 137.59,674.1 137.84,673.3 138.09,671.3 138.34,668.6 138.59,665.2 138.84,661.7 139.09,658.3 139.34,655.3 139.59,653.0 139.84,651.7 140.09,652.0 140.34,654.5 140.59,658.2 140.84,661.7 141.09,663.7 141.34,663.0 141.59,660.4 141.84,656.9 142.09,653.9 142.34,652.6 142.59,654.2 142.84,658.2 143.09,663.0 143.34,667.2 143.59,669.2 143.84,669.9 144.09,670.5 144.34,670.9 144.59,671.3 144.84,671.8 145.09,672.6 145.34,673.8 145.59,675.0 145.84,676.3 146.09,677.4 146.34,678.1 146.59,678.6 146.84,679.0 147.09,679.4 147.34,679.7 147.59,680.0 147.84,680.1 148.09,680.1 148.34,680.0 148.59,679.9 148.84,679.8 149.09,679.7 149.34,679.5 149.59,679.3 149.84,679.1 150.09,678.9 150.34,678.5 150.59,678.0 150.84,677.4 151.09,676.7 151.34,676.1 151.59,675.5 151.84,675.1 152.09,674.8 152.34,674.7 152.59,675.1 152.84,675.8 153.09,676.8 153.34,677.8 153.59,678.6 153.84,679.1 154.09,679.0 154.34,678.7 154.59,678.3 154.84,677.7 155.09,677.2 155.34,676.7 155.59,676.3 155.84,676.1 156.09,676.3 156.34,677.0 156.59,678.0 156.84,679.1 157.09,680.1 157.34,680.9 157.59,681.2 157.84,681.3 158.09,681.5 158.34,681.6 158.59,681.7 158.84,681.8 159.09,681.9 159.34,681.9 159.59,682.0 159.84,682.1 160.09,682.1 160.34,682.2 160.59,682.3 160.84,682.3 161.09,682.4 161.34,682.5 161.59,682.5 161.84,682.6 162.09,682.6 162.34,682.6 162.59,682.7 162.84,682.7 163.09,682.7 163.34,682.6 163.59,682.6 163.84,682.5 164.09,682.4 164.34,682.2 164.59,682.1 164.84,681.9 165.09,681.7 165.34,681.6 165.59,681.3 165.84,680.9 166.09,680.3 166.34,679.6 166.59,678.9 166.84,678.3 167.09,677.8 167.34,677.5 167.59,677.6 167.84,678.2 168.09,679.1 168.34,680.0 168.59,680.8 168.84,681.1 169.09,681.0 169.34,681.0 169.59,680.9 169.84,680.8 170.09,680.7 170.34,680.7 170.59,680.8 170.84,681.0 171.09,681.2 171.34,681.5 171.59,681.7 171.84,681.9 172.09,682.1 172.34,682.1 172.59,682.1 172.84,682.1 173.09,682.1 173.34,682.1 173.59,682.1 173.84,682.1 174.09,682.1 174.34,682.1 174.59,682.1 174.84,682.1 175.09,682.1 175.34,682.1 175.59,682.1 175.84,682.1 176.09,682.1 176.34,682.1 176.59,682.1 176.84,682.1 177.09,682.1 177.34,682.0 177.59,682.0 177.84,681.9 178.09,681.8 178.34,681.7 178.59,681.6 178.84,681.4 179.09,681.3 179.34,681.1 179.59,680.9 179.84,680.6 180.09,679.1 180.34,676.0 180.59,671.9 180.84,667.2 181.09,662.4 181.34,658.1 181.59,654.6 181.84,652.6 182.09,652.4 182.34,654.6 182.59,658.4 182.84,663.2 183.09,668.3 183.34,672.7 183.59,676.0 183.84,677.2 184.09,677.7 184.34,678.2 184.59,678.6 184.84,678.8 185.09,679.0 185.34,679.1 185.59,678.8 185.84,677.9 186.09,676.8 186.34,675.7 186.59,674.9 186.84,674.7 187.09,674.9 187.34,675.4 187.59,676.1 187.84,676.8 188.09,677.5 188.34,678.2 188.59,678.8 188.84,679.2 189.09,679.5 189.34,679.8 189.59,680.2 189.84,680.5 190.09,680.7 190.34,681.0 190.59,681.2 190.84,681.3 191.09,681.4 191.34,681.5 191.59,681.5 191.84,681.5 192.09,681.5 192.34,681.4 192.59,681.4 192.84,681.4 193.09,681.4 193.34,681.3 193.59,681.3 193.84,681.3 194.09,681.2 194.34,681.2 194.59,681.1 194.84,681.0 195.09,680.6 195.34,679.8 195.59,678.8 195.84,677.8 196.09,676.8 196.34,676.0 196.59,675.6 196.84,675.6 197.09,676.3 197.34,677.4 197.59,678.6 197.84,679.6 198.09,680.1 198.34,680.0 198.59,679.9 198.84,679.7 199.09,679.4 199.34,679.2 199.59,679.1 199.84,679.1 200.09,679.2 200.34,679.4 200.59,679.7 200.84,680.0 201.09,680.3 201.34,680.6 201.59,680.8 201.84,681.0 202.09,681.1 202.34,681.1 202.59,681.1 202.84,681.1 203.09,681.1 203.34,681.1 203.59,681.1 203.84,681.1 204.09,681.1 204.34,681.1 204.59,681.1 204.84,681.0 205.09,680.8 205.34,680.4 205.59,679.9 205.84,679.3 206.09,678.6 206.34,677.9 206.59,677.3 206.84,676.7 207.09,676.0 207.34,675.2 207.59,674.4 207.84,673.6 208.09,672.8 208.34,672.1 208.59,671.5 208.84,671.2 209.09,671.1 209.34,671.7 209.59,673.1 209.84,675.1 210.09,677.1 210.34,678.9 210.59,679.9 210.84,680.2 211.09,680.4 211.34,680.6 211.59,680.8 211.84,680.9 212.09,681.0 212.34,681.0 212.59,681.1 212.84,681.0 213.09,680.9 213.34,680.6 213.59,680.2 213.84,679.8 214.09,679.3 214.34,678.8 214.59,678.2 214.84,677.6 215.09,676.5 215.34,675.3 215.59,674.0 215.84,672.9 216.09,672.2 216.34,672.2 216.59,672.7 216.84,673.6 217.09,674.7 217.34,675.6 217.59,676.1 217.84,676.0 218.09,675.7 218.34,675.2 218.59,674.6 218.84,673.8 219.09,673.0 219.34,672.2 219.59,671.4 219.84,670.7 220.09,670.2 220.34,669.8 220.59,669.6 220.84,670.0 221.09,671.2 221.34,672.9 221.59,674.7 221.84,676.3 222.09,677.3 222.34,678.1 222.59,678.8 222.84,679.4 223.09,679.9 223.34,680.1 223.59,679.8 223.84,678.9 224.09,678.0 224.34,677.5 224.59,677.7 224.84,678.2 225.09,679.0 225.34,679.8 225.59,680.6 225.84,681.0 226.09,681.1 226.34,681.0 226.59,680.8 226.84,680.5 227.09,680.1 227.34,679.6 227.59,679.1 227.84,678.4 228.09,677.4 228.34,674.1 228.59,669.2 228.84,663.8 229.09,658.7 229.34,655.1 229.59,654.0 229.84,655.9 230.09,660.0 230.34,665.2 230.59,670.5 230.84,674.8 231.09,677.0 231.34,677.0 231.59,676.4 231.84,675.7 232.09,674.8 232.34,674.1 232.59,673.6 232.84,673.6 233.09,674.2 233.34,675.2 233.59,676.5 233.84,677.8 234.09,678.9 234.34,679.5 234.59,679.8 234.84,680.0 235.09,680.2 235.34,680.4 235.59,680.6 235.84,680.8 236.09,680.9 236.34,681.0 236.59,681.0 236.84,681.1 237.09,681.1 237.34,681.0 237.59,680.8 237.84,680.6 238.09,680.3 238.34,680.1 238.59,679.6 238.84,678.9 239.09,678.1 239.34,677.2 239.59,676.4 239.84,675.7 240.09,675.3 240.34,675.1 240.59,675.6 240.84,676.6 241.09,677.9 241.34,679.2 241.59,680.4 241.84,681.0 242.09,681.2 242.34,681.3 242.59,681.3 242.84,681.4 243.09,681.4 243.34,681.5 243.59,681.5 243.84,681.3 244.09,680.9 244.34,680.6 244.59,680.3 244.84,680.1 245.09,680.1 245.34,680.3 245.59,680.5 245.84,680.7 246.09,681.0 246.34,681.2 246.59,681.4 246.84,681.5 247.09,681.3 247.34,680.9 247.59,680.1 247.84,679.1 248.09,678.0 248.34,676.8 248.59,674.3 248.84,670.6 249.09,666.5 249.34,662.6 249.59,659.6 249.84,658.2 250.09,659.1 250.34,662.3 250.59,666.6 250.84,671.4 251.09,675.7 251.34,678.5 251.59,679.3 251.84,679.7 252.09,680.1 252.34,680.4 252.59,680.7 252.84,680.9 253.09,681.0 253.34,681.1 253.59,681.0 253.84,680.7 254.09,680.0 254.34,679.1 254.59,678.2 254.84,677.2 255.09,675.9 255.34,674.0 255.59,671.7 255.84,669.4 256.09,667.1 256.34,665.2 256.59,663.9 256.84,663.4 257.09,664.3 257.34,666.9 257.59,670.5 257.84,674.2 258.09,677.5 258.34,679.7 258.59,680.4 258.84,680.8 259.09,681.2 259.34,681.5 259.59,681.8 259.84,682.0 260.09,682.1 260.34,682.1 260.59,682.0 260.84,682.0 261.09,681.9 261.34,681.8 261.59,681.7 261.84,681.5 262.09,681.4 262.34,681.3 262.59,681.2 262.84,681.1 263.09,681.0 263.34,680.9 263.59,680.9 263.84,680.8 264.09,680.7 264.34,680.7 264.59,680.6 264.84,680.5 265.09,680.5 265.34,680.3 265.59,680.2 265.84,680.1 266.09,679.6 266.34,678.8 266.59,677.6 266.84,676.1 267.09,674.4 267.34,672.6 267.59,670.7 267.84,668.7 268.09,665.8 268.34,662.0 268.59,657.7 268.84,653.8 269.09,650.8 269.34,649.3 269.59,650.2 269.84,654.1 270.09,659.8 270.34,666.0 270.59,671.8 270.84,675.9 271.09,677.4 271.34,678.3 271.59,679.0 271.84,679.5 272.09,679.9 272.34,680.1 272.59,680.0 272.84,679.9 273.09,679.7 273.34,679.4 273.59,679.1 273.84,678.8 274.09,678.5 274.34,678.3 274.59,678.1 274.84,678.1 275.09,678.2 275.34,678.4 275.59,678.7 275.84,679.0 276.09,679.3 276.34,679.7 276.59,679.9 276.84,680.1 277.09,680.3 277.34,680.5 277.59,680.6 277.84,680.8 278.09,680.9 278.34,681.0 278.59,681.1 278.84,681.1 279.09,681.0 279.34,680.7 279.59,680.4 279.84,680.0 280.09,679.5 280.34,679.0 280.59,678.4 280.84,677.9 281.09,677.1 281.34,676.0 281.59,674.8 281.84,673.6 282.09,672.5 282.34,671.7 282.59,671.2 282.84,671.1 283.09,672.0 283.34,673.4 283.59,675.0 283.84,676.4 284.09,677.1 284.34,676.8 284.59,675.7 284.84,674.1 285.09,672.2 285.34,670.2 285.59,668.4 285.84,667.1 286.09,666.5 286.34,667.0 286.59,668.9 286.84,671.6 287.09,674.4 287.34,677.0 287.59,678.7 287.84,679.2 288.09,679.4 288.34,679.6 288.59,679.8 288.84,679.9 289.09,680.0 289.34,680.0 289.59,680.1 289.84,680.0 290.09,679.7 290.34,679.0 290.59,678.1 290.84,677.1 291.09,676.0 291.34,675.0 291.59,673.7 291.84,672.0 292.09,670.1 292.34,668.2 292.59,666.4 292.84,665.0 293.09,664.1 293.34,663.8 293.59,664.7 293.84,666.8 294.09,669.5 294.34,672.6 294.59,675.5 294.84,677.8 295.09,679.1 295.34,679.7 295.59,680.2 295.84,680.6 296.09,681.0 296.34,681.2 296.59,681.4 296.84,681.5 297.09,681.6 297.34,681.7 297.59,681.7 297.84,681.8 298.09,681.8 298.34,681.9 298.59,681.9 298.84,681.9 299.09,682.0 299.34,682.0 299.59,682.1 299.84,682.1 300.09,682.2 300.34,682.2 300.59,682.3 300.84,682.4 301.09,682.4 301.34,682.5 301.59,682.5 301.84,682.6 302.09,682.6 302.34,682.7 302.59,682.7 302.84,682.7 303.09,682.7 303.34,682.6 303.59,682.6 303.84,682.6 304.09,682.5 304.34,682.5 304.59,682.4 304.84,682.3 305.09,682.2 305.34,682.2 305.59,682.1 305.84,682.0 306.09,681.8 306.34,681.5 306.59,681.2 306.84,680.9 307.09,680.5 307.34,680.2 307.59,679.9 307.84,679.6 308.09,679.3 308.34,679.2 308.59,679.1 308.84,679.2 309.09,679.7 309.34,680.3 309.59,681.0 309.84,681.6 310.09,682.0 310.34,682.0 310.59,681.7 310.84,681.0 311.09,680.2 311.34,679.4 311.59,678.7 311.84,678.2 312.09,678.1 312.34,678.2 312.59,678.4 312.84,678.6 313.09,678.8 313.34,679.0 313.59,679.1 313.84,678.9 314.09,678.5 314.34,678.0 314.59,677.5 314.84,677.1 315.09,677.1 315.34,677.5 315.59,678.2 315.84,679.1 316.09,680.0 316.34,680.9 316.59,681.6 316.84,682.0 317.09,682.1 317.34,681.9 317.59,681.6 317.84,681.3 318.09,680.8 318.34,680.3 318.59,679.8 318.84,679.3 319.09,678.8 319.34,678.1 319.59,677.3 319.84,676.4 320.09,675.7 320.34,675.2 320.59,675.1 320.84,675.5 321.09,676.5 321.34,677.7 321.59,679.0 321.84,680.2 322.09,681.1 322.34,681.5 322.59,681.4 322.84,681.2 323.09,681.0 323.34,680.6 323.59,680.2 323.84,679.8 324.09,679.5 324.34,679.1 324.59,678.7 324.84,678.2 325.09,677.7 325.34,677.1 325.59,676.5 325.84,676.0 326.09,675.5 326.34,675.1 326.59,674.9 326.84,674.7 327.09,674.8 327.34,675.1 327.59,675.7 327.84,676.4 328.09,677.2 328.34,677.9 328.59,678.6 328.84,679.0 329.09,679.2 329.34,679.4 329.59,679.6 329.84,679.7 330.09,679.9 330.34,680.0 330.59,680.0 330.84,680.1 331.09,680.1 331.34,680.0 331.59,679.9 331.84,679.8 332.09,679.7 332.34,679.5 332.59,679.3 332.84,679.1 333.09,678.9 333.34,678.4 333.59,677.8 333.84,677.1 334.09,676.4 334.34,675.6 334.59,674.9 334.84,674.3 335.09,673.8 335.34,673.6 335.59,673.6 335.84,674.1 336.09,675.2 336.34,676.6 336.59,678.1 336.84,679.5 337.09,680.7 337.34,681.3 337.59,681.5 337.84,681.5 338.09,681.4 338.34,681.4 338.59,681.4 338.84,681.3 339.09,681.3 339.34,681.2 339.59,681.2 339.84,681.1 340.09,680.9 340.34,680.6 340.59,680.1 340.84,679.6 341.09,679.0 341.34,678.6 341.59,678.2 341.84,678.1 342.09,678.3 342.34,678.9 342.59,679.8 342.84,680.7 343.09,681.5 343.34,682.0 343.59,682.0 343.84,681.8 344.09,681.5 344.34,681.0 344.59,680.5 344.84,680.1 345.09,679.7 345.34,679.2 345.59,678.7 345.84,678.3 346.09,677.9 346.34,677.7 346.59,677.8 346.84,678.3 347.09,679.2 347.34,680.1 347.59,680.8 347.84,681.1 348.09,681.1 348.34,681.1 348.59,681.1 348.84,681.1 349.09,681.1 349.34,681.1 349.59,681.1 349.84,681.1 350.09,681.0 350.34,680.7 350.59,680.3 350.84,680.0 351.09,679.7 351.34,679.5 351.59,679.6 351.84,680.0 352.09,680.7 352.34,681.3 352.59,681.9 352.84,682.1 353.09,682.0 353.34,681.9 353.59,681.7 353.84,681.6 354.09,681.4 354.34,681.2 354.59,681.1 354.84,681.1 355.09,681.2 355.34,681.3 355.59,681.6 355.84,681.9 356.09,682.2 356.34,682.4 356.59,682.6 356.84,682.7 357.09,682.7 357.34,682.6 357.59,682.6 357.84,682.5 358.09,682.4 358.34,682.4 358.59,682.3 358.84,682.2 359.09,682.2 359.34,682.1 359.59,682.1 359.84,682.1 360.09,682.1 360.34,682.1 360.59,682.1 360.84,682.1 361.09,682.1 361.34,682.1 361.59,682.1 361.84,682.1 362.09,682.1 362.34,682.1 362.59,682.1 362.84,682.1 363.09,682.1 363.34,682.1 363.59,682.2 363.84,682.2 364.09,682.3 364.34,682.4 364.59,682.5 364.84,682.5 365.09,682.6 365.34,682.6 365.59,682.7 365.84,682.7 366.09,682.6 366.34,682.6 366.59,682.5 366.84,682.4 367.09,682.3 367.34,682.2 367.59,682.1 367.84,682.0 368.09,682.0 368.34,681.9 368.59,681.7 368.84,681.6 369.09,681.5 369.34,681.4 369.59,681.3 369.84,681.2 370.09,681.2 370.34,681.1 370.59,681.1 370.84,681.1 371.09,681.1 371.34,681.3 371.59,681.5 371.84,681.6 372.09,681.8 372.34,682.0 372.59,682.1 372.84,682.1 373.09,682.0 373.34,681.9 373.59,681.8 373.84,681.6 374.09,681.4 374.34,681.2 374.59,681.0 374.84,680.8 375.09,680.6 375.34,680.4 375.59,680.2 375.84,680.0 376.09,679.8 376.34,679.6 376.59,679.4 376.84,679.2 377.09,679.1 377.34,679.1 377.59,679.3 377.84,679.9 378.09,680.7 378.34,681.4 378.59,682.0 378.84,682.1 379.09,682.2 379.34,682.3 379.59,682.4 379.84,682.4 380.09,682.5 380.34,682.5 380.59,682.6 380.84,682.6 381.09,682.6 381.34,682.7 381.59,682.7 381.84,682.7 382.09,682.6 382.34,682.6 382.59,682.5 382.84,682.4 383.09,682.3 383.34,682.2 383.59,682.1 383.84,681.9 384.09,681.8 384.34,681.7 384.59,681.5 384.84,681.4 385.09,681.2 385.34,681.1 385.59,680.9 385.84,680.7 386.09,680.5 386.34,680.3 386.59,680.1 386.84,680.0 387.09,679.7 387.34,679.5 387.59,679.3 387.84,679.1 388.09,679.1 388.34,679.2 388.59,679.7 388.84,680.2 389.09,680.7 389.34,681.2 389.59,681.5 389.84,681.4 390.09,681.1 390.34,680.7 390.59,680.1 390.84,679.4 391.09,678.6 391.34,677.9 391.59,677.3 391.84,676.7 392.09,676.0 392.34,675.3 392.59,674.5 392.84,673.7 393.09,673.0 393.34,672.3 393.59,671.8 393.84,671.4 394.09,671.1 394.34,671.1 394.59,672.0 394.84,673.5 395.09,675.5 395.34,677.6 395.59,679.4 395.84,680.7 396.09,681.1 396.34,680.9 396.59,680.4 396.84,679.7 397.09,679.0 397.34,678.1 397.59,677.3 397.84,676.3 398.09,675.0 398.34,673.5 398.59,672.1 398.84,670.9 399.09,670.2 399.34,670.1 399.59,670.9 399.84,672.4 400.09,674.1 400.34,675.7 400.59,676.9 400.84,677.7 401.09,678.5 401.34,679.3 401.59,680.0 401.84,680.6 402.09,681.0 402.34,681.3 402.59,681.5 402.84,681.4 403.09,681.3 403.34,681.2 403.59,681.0 403.84,680.7 404.09,680.5 404.34,680.2 404.59,680.0 404.84,679.8 405.09,679.6 405.34,679.5 405.59,679.5 405.84,679.7 406.09,680.3 406.34,681.0 406.59,681.6 406.84,682.0 407.09,682.1 407.34,682.0 407.59,681.9 407.84,681.8 408.09,681.6 408.34,681.5 408.59,681.3 408.84,681.1 409.09,681.0 409.34,680.8 409.59,680.6 409.84,680.4 410.09,680.2 410.34,680.1 410.59,680.1 410.84,680.2 411.09,680.4 411.34,680.7 411.59,680.9 411.84,681.1 412.09,681.1 412.34,681.0 412.59,680.9 412.84,680.8 413.09,680.8 413.34,680.7 413.59,680.7 413.84,680.8 414.09,680.9 414.34,681.2 414.59,681.5 414.84,681.8 415.09,682.1 415.34,682.4 415.59,682.6 415.84,682.7 416.09,682.7 416.34,682.7 416.59,682.7 416.84,682.7 417.09,682.7 417.34,682.7 417.59,682.7 417.84,682.7 418.09,682.7 418.34,682.7 418.59,682.7 418.84,682.7 419.09,682.7 419.34,682.7 419.59,682.7 419.84,682.7 420.09,682.7 420.34,682.7 420.59,682.7 420.84,682.7 421.09,682.7 421.34,682.7 421.59,682.7 421.84,682.7 422.09,682.7 422.34,682.7 422.59,682.7 422.84,682.7 423.09,682.7 423.34,682.7 423.59,682.7 423.84,682.7 424.09,682.7 424.34,682.7 424.59,682.7 424.84,682.7 425.09,682.7 425.34,682.7 425.59,682.7 425.84,682.7 426.09,682.7 426.34,682.7 426.59,682.7 426.84,682.7 427.09,682.7 427.34,682.7 427.59,682.7 427.84,682.7 428.09,682.5 428.34,681.9 428.59,681.0 428.84,679.9 429.09,678.8 429.34,677.6 429.59,676.6 429.84,675.3 430.09,674.1 430.34,673.2 430.59,673.2 430.84,674.2 431.09,675.7 431.34,677.5 431.59,679.0 431.84,680.0 432.09,680.4 432.34,680.8 432.59,681.2 432.84,681.5 433.09,681.7 433.34,681.9 433.59,682.0 433.84,682.1 434.09,682.1 434.34,682.0 434.59,682.0 434.84,682.0 435.09,681.9 435.34,681.8 435.59,681.8 435.84,681.7 436.09,681.7 436.34,681.6 436.59,681.5 436.84,681.5 437.09,681.4 437.34,681.4 437.59,681.3 437.84,681.2 438.09,681.2 438.34,681.1 438.59,681.1 438.84,681.1 439.09,681.1 439.34,681.1 439.59,681.2 439.84,681.3 440.09,681.3 440.34,681.4 440.59,681.5 440.84,681.5 441.09,681.5 441.34,681.4 441.59,681.4 441.84,681.4 442.09,681.3 442.34,681.2 442.59,681.2 442.84,681.1 443.09,680.9 443.34,680.7 443.59,680.3 443.84,679.9 444.09,679.4 444.34,678.5 444.59,676.1 444.84,672.4 445.09,668.0 445.34,663.7 445.59,660.1 445.84,657.7 446.09,657.3 446.34,660.0 446.59,664.8 446.84,670.4 447.09,675.5 447.34,678.7 447.59,679.7 447.84,680.5 448.09,681.2 448.34,681.7 448.59,682.0 448.84,682.1 449.09,682.1 449.34,682.1 449.59,682.1 449.84,682.1 450.09,682.1 450.34,682.1 450.59,682.1 450.84,682.1 451.09,682.1 451.34,682.1 451.59,682.1 451.84,682.1 452.09,682.1 452.34,682.0 452.59,681.9 452.84,681.8 453.09,681.7 453.34,681.6 453.59,681.4 453.84,681.2 454.09,680.9 454.34,680.6 454.59,680.3 454.84,680.0 455.09,679.0 455.34,677.2 455.59,675.0 455.84,672.2 456.09,666.3 456.34,658.3 456.59,650.5 456.84,645.4 457.09,645.5 457.34,651.4 457.59,660.2 457.84,668.8 458.09,673.8 458.34,673.6 458.59,671.5 458.84,668.3 459.09,664.8 459.34,661.7 459.59,659.6 459.84,659.3 460.09,661.3 460.34,664.7 460.59,668.5 460.84,672.0 461.09,674.3 461.34,676.6 461.59,678.7 461.84,680.3 462.09,681.0 462.34,681.0 462.59,680.6 462.84,680.1 463.09,679.3 463.34,678.5 463.59,677.6 463.84,676.7 464.09,675.2 464.34,673.3 464.59,671.2 464.84,669.0 465.09,667.0 465.34,665.5 465.59,664.6 465.84,664.6 466.09,666.0 466.34,668.4 466.59,671.1 466.84,673.5 467.09,675.0 467.34,675.5 467.59,676.0 467.84,676.4 468.09,676.7 468.34,677.0 468.59,677.1 468.84,676.9 469.09,675.7 469.34,673.5 469.59,670.8 469.84,667.9 470.09,665.1 470.34,662.2 470.59,658.6 470.84,654.6 471.09,650.4 471.34,646.4 471.59,642.9 471.84,640.0 472.09,638.2 472.34,637.7 472.59,640.3 472.84,645.8 473.09,652.5 473.34,658.5 473.59,662.3 473.84,662.6 474.09,662.2 474.34,661.8 474.59,661.9 474.84,663.8 475.09,667.1 475.34,670.9 475.59,674.1 475.84,676.3 476.09,678.5 476.34,680.3 476.59,681.4 476.84,681.5 477.09,681.4 477.34,681.2 477.59,681.0 477.84,680.8 478.09,680.5 478.34,680.3 478.59,680.1 478.84,680.0 479.09,679.9 479.34,679.8 479.59,679.7 479.84,679.6 480.09,679.4 480.34,679.3 480.59,679.1 480.84,678.9 481.09,678.5 481.34,678.1 481.59,677.6 481.84,677.1 482.09,676.6 482.34,676.3 482.59,676.1 482.84,676.3 483.09,676.9 483.34,677.6 483.59,678.1 483.84,678.0 484.09,677.4 484.34,676.6 484.59,675.7 484.84,674.7 485.09,673.8 485.34,673.1 485.59,672.7 485.84,673.0 486.09,674.2 486.34,675.8 486.59,677.5 486.84,678.7 487.09,679.1 487.34,678.8 487.59,678.3 487.84,677.6 488.09,676.9 488.34,676.4 488.59,676.1 488.84,676.4 489.09,677.4 489.34,678.8 489.59,680.2 489.84,681.2 490.09,681.5 490.34,681.2 490.59,680.5 490.84,679.6 491.09,678.4 491.34,677.0 491.59,675.6 491.84,674.2 492.09,672.7 492.34,670.9 492.59,668.5 492.84,665.8 493.09,663.0 493.34,660.2 493.59,657.7 493.84,655.7 494.09,654.2 494.34,653.6 494.59,654.8 494.84,658.6 495.09,664.0 495.34,669.8 495.59,675.0 495.84,678.4 496.09,679.3 496.34,679.6 496.59,679.9 496.84,680.1 497.09,680.0 497.34,679.4 497.59,678.2 497.84,676.7 498.09,675.0 498.34,673.3 498.59,671.0 498.84,667.5 499.09,663.5 499.34,659.1 499.59,655.0 499.84,651.5 500.09,649.0 500.34,648.0 500.59,649.9 500.84,655.1 501.09,662.2 501.34,669.6 501.59,675.9 501.84,679.7 502.09,680.0 502.34,679.5 502.59,678.7 502.84,677.6 503.09,675.7 503.34,670.8 503.59,664.1 503.84,657.3 504.09,652.1 504.34,650.0 504.59,653.7 504.84,661.7 505.09,669.6 505.34,673.1 505.59,671.7 505.84,668.4 506.09,660.8 506.34,641.5 506.59,619.4 506.84,605.1 507.09,607.3 507.34,622.7 507.59,642.6 507.84,658.0 508.09,664.1 508.34,668.0 508.59,668.8 508.84,665.6 509.09,659.6 509.34,652.2 509.59,644.9 509.84,639.2 510.09,636.7 510.34,638.1 510.59,642.4 510.84,648.4 511.09,655.1 511.34,661.4 511.59,666.3 511.84,671.2 512.09,675.4 512.34,677.1 512.59,677.4 512.84,677.7 513.09,677.8 513.34,678.0 513.59,678.1 513.84,678.1 514.09,677.9 514.34,677.1 514.59,675.8 514.84,674.2 515.09,672.3 515.34,670.2 515.59,668.1 515.84,664.8 516.09,660.4 516.34,655.3 516.59,650.1 516.84,645.1 517.09,640.7 517.34,637.5 517.59,635.8 517.84,636.9 518.09,643.1 518.34,652.1 518.59,661.4 518.84,668.3 519.09,672.3 519.34,675.9 519.59,678.7 519.84,680.0 520.09,680.2 520.34,680.3 520.59,680.4 520.84,680.5 521.09,680.6 521.34,680.6 521.59,680.7 521.84,680.7 522.09,680.2 522.34,678.6 522.59,676.3 522.84,673.4 523.09,667.7 523.34,657.0 523.59,643.7 523.84,630.1 524.09,618.8 524.34,612.0 524.59,612.3 524.84,619.6 525.09,631.2 525.34,644.5 525.59,656.5 525.84,664.6 526.09,669.2 526.34,673.3 526.59,676.7 526.84,679.1 527.09,680.2 527.34,680.6 527.59,681.0 527.84,681.3 528.09,681.6 528.34,681.8 528.59,681.9 528.84,682.1 529.09,682.2 529.34,682.3 529.59,682.4 529.84,682.5 530.09,682.6 530.34,682.6 530.59,682.7 530.84,682.7 531.09,682.6 531.34,682.5 531.59,682.2 531.84,681.9 532.09,681.5 532.34,681.1 532.59,680.6 532.84,680.0 533.09,678.7 533.34,676.2 533.59,672.9 533.84,669.0 534.09,665.0 534.34,661.2 534.59,657.8 534.84,655.2 535.09,653.8 535.34,654.0 535.59,656.6 535.84,661.0 536.09,666.3 536.34,671.3 536.59,675.3 536.84,677.2 537.09,678.1 537.34,678.8 537.59,679.4 537.84,679.8 538.09,680.1 538.34,680.0 538.59,679.2 538.84,678.0 539.09,676.6 539.34,675.1 539.59,673.9 539.84,673.0 540.09,672.5 540.34,672.1 540.59,671.6 540.84,670.9 541.09,668.5 541.34,664.5 541.59,659.4 541.84,653.9 542.09,648.6 542.34,644.3 542.59,641.4 542.84,640.8 543.09,644.5 543.34,651.0 543.59,657.5 543.84,661.2 544.09,663.5 544.34,665.4 544.59,666.6 544.84,666.7 545.09,661.9 545.34,653.0 545.59,643.0 545.84,634.7 546.09,631.0 546.34,634.2 546.59,641.6 546.84,648.3 547.09,649.3 547.34,641.2 547.59,627.0 547.84,611.3 548.09,598.3 548.34,592.3 548.59,598.2 548.84,614.1 549.09,633.0 549.34,647.8 549.59,657.4 549.84,666.3 550.09,673.2 550.34,677.0 550.59,678.4 550.84,679.5 551.09,680.4 551.34,681.1 551.59,681.4 551.84,681.5 552.09,681.5 552.34,681.4 552.59,681.4 552.84,681.3 553.09,681.3 553.34,681.2 553.59,681.1 553.84,681.0 554.09,680.9 554.34,680.6 554.59,680.2 554.84,679.7 555.09,679.1 555.34,678.4 555.59,677.6 555.84,676.4 556.09,672.7 556.34,667.0 556.59,660.6 556.84,654.6 557.09,650.2 557.34,648.6 557.59,651.1 557.84,656.9 558.09,664.2 558.34,671.2 558.59,676.0 558.84,677.5 559.09,678.3 559.34,678.9 559.59,679.4 559.84,679.8 560.09,680.0 560.34,680.1 560.59,680.0 560.84,679.7 561.09,679.3 561.34,678.9 561.59,678.3 561.84,677.7 562.09,676.4 562.34,674.8 562.59,673.3 562.84,672.0 563.09,671.5 563.34,672.0 563.59,673.4 563.84,675.3 564.09,677.3 564.34,679.0 564.59,680.0 564.84,680.1 565.09,680.0 565.34,679.9 565.59,679.7 565.84,679.5 566.09,679.3 566.34,679.0 566.59,678.5 566.84,677.6 567.09,676.8 567.34,676.0 567.59,675.5 567.84,675.7 568.09,676.4 568.34,677.6 568.59,678.8 568.84,679.7 569.09,680.1 569.34,679.9 569.59,679.4 569.84,678.7 570.09,678.0 570.34,677.4 570.59,677.1 570.84,677.2 571.09,677.9 571.34,678.9 571.59,680.0 571.84,680.8 572.09,681.1 572.34,681.0 572.59,680.8 572.84,680.6 573.09,680.4 573.34,680.2 573.59,680.1 573.84,680.1 574.09,680.2 574.34,680.3 574.59,680.5 574.84,680.7 575.09,680.9 575.34,681.0 575.59,681.1 575.84,681.0 576.09,680.7 576.34,680.2 576.59,679.6 576.84,678.9 577.09,678.2 577.34,677.6 577.59,677.2 577.84,676.9 578.09,676.6 578.34,676.4 578.59,676.2 578.84,676.0 579.09,675.8 579.34,675.5 579.59,675.2 579.84,674.8 580.09,674.3 580.34,673.8 580.59,673.1 580.84,672.4 581.09,671.5 581.34,670.4 581.59,669.2 581.84,666.8 582.09,662.1 582.34,656.0 582.59,649.5 582.84,643.4 583.09,638.8 583.34,636.7 583.59,637.9 583.84,642.1 584.09,648.1 584.34,655.0 584.59,661.7 584.84,667.0 585.09,670.3 585.34,673.1 585.59,675.4 585.84,676.9 586.09,677.1 586.34,676.8 586.59,676.4 586.84,676.0 587.09,675.5 587.34,675.2 587.59,675.1 587.84,675.4 588.09,676.0 588.34,676.8 588.59,677.6 588.84,678.0 589.09,677.8 589.34,676.1 589.59,673.4 589.84,670.3 590.09,667.3 590.34,663.2 590.59,658.5 590.84,653.7 591.09,649.6 591.34,646.8 591.59,646.1 591.84,649.2 592.09,655.5 592.34,663.4 592.59,670.8 592.84,676.0 593.09,678.0 593.34,679.4 593.59,680.5 593.84,681.0 594.09,681.1 594.34,681.1 594.59,681.1 594.84,681.1 595.09,681.1 595.34,681.1 595.59,681.1 595.84,681.1 596.09,681.1 596.34,681.1 596.59,681.1 596.84,681.1 597.09,681.1 597.34,681.1 597.59,681.1 597.84,681.1 598.09,681.0 598.34,681.0 598.59,681.0 598.84,681.0 599.09,680.9 599.34,680.9 599.59,680.9 599.84,680.9 600.09,680.8 600.34,680.8 600.59,680.7 600.84,680.7 601.09,680.6 601.34,680.5 601.59,680.3 601.84,680.1 602.09,679.9 602.34,679.7 602.59,679.6 602.84,679.5 603.09,679.5 603.34,679.6 603.59,679.7 603.84,679.9 604.09,680.0 604.34,680.2 604.59,680.4 604.84,680.6 605.09,680.8 605.34,680.9 605.59,681.0 605.84,681.1 606.09,680.9 606.34,680.3 606.59,679.2 606.84,677.8 607.09,676.1 607.34,674.3 607.59,672.0 607.84,667.4 608.09,661.1 608.34,654.2 608.59,647.9 608.84,643.3 609.09,641.6 609.34,643.2 609.59,646.9 609.84,651.6 610.09,656.3 610.34,659.7 610.59,661.1 610.84,662.0 611.09,662.9 611.34,663.6 611.59,664.1 611.84,664.5 612.09,664.8 612.34,664.8 612.59,664.6 612.84,664.2 613.09,663.7 613.34,663.3 613.59,662.9 613.84,662.7 614.09,663.2 614.34,664.5 614.59,666.4 614.84,668.3 615.09,670.0 615.34,670.9 615.59,670.8 615.84,669.0 616.09,666.0 616.34,662.5 616.59,658.9 616.84,655.9 617.09,654.0 617.34,653.9 617.59,657.2 617.84,662.1 618.09,666.1 618.34,666.7 618.59,664.5 618.84,661.0 619.09,657.4 619.34,655.2 619.59,655.5 619.84,658.1 620.09,661.3 620.34,663.6 620.59,663.7 620.84,663.4 621.09,663.0 621.34,662.8 621.59,663.2 621.84,665.5 622.09,668.9 622.34,672.5 622.59,675.6 622.84,677.1 623.09,677.8 623.34,678.3 623.59,678.8 623.84,679.2 624.09,679.5 624.34,679.8 624.59,680.0 624.84,680.1 625.09,680.2 625.34,680.3 625.59,680.4 625.84,680.5 626.09,680.6 626.34,680.6 626.59,680.7 626.84,680.7 627.09,680.8 627.34,680.8 627.59,680.9 627.84,680.9 628.09,681.0 628.34,681.0 628.59,681.0 628.84,681.1 629.09,681.1 629.34,681.2 629.59,681.2 629.84,681.2 630.09,681.3 630.34,681.3 630.59,681.3 630.84,681.3 631.09,681.4 631.34,681.4 631.59,681.4 631.84,681.4 632.09,681.5 632.34,681.5 632.59,681.5 632.84,681.5 633.09,681.5 633.34,681.4 633.59,681.4 633.84,681.4 634.09,681.3 634.34,681.3 634.59,681.2 634.84,681.1 635.09,681.0 635.34,680.9 635.59,680.8 635.84,680.6 636.09,679.1 636.34,676.2 636.59,672.5 636.84,668.3 637.09,664.3 637.34,661.0 637.59,657.9 637.84,654.6 638.09,651.4 638.34,648.7 638.59,647.0 638.84,646.8 639.09,649.1 639.34,653.3 639.59,658.6 639.84,663.9 640.09,668.1 640.34,671.2 640.59,674.4 640.84,677.2 641.09,679.2 641.34,680.1 641.59,679.7 641.84,678.8 642.09,677.4 642.34,675.8 642.59,674.1 642.84,672.5 643.09,670.5 643.34,668.0 643.59,665.4 643.84,662.8 644.09,660.6 644.34,658.8 644.59,657.7 644.84,657.6 645.09,658.4 645.34,659.7 645.59,661.4 645.84,663.1 646.09,664.6 646.34,666.0 646.59,667.5 646.84,668.8 647.09,669.4 647.34,669.3 647.59,669.2 647.84,669.1 648.09,668.9 648.34,668.8 648.59,668.6 648.84,668.6 649.09,668.6 649.34,669.0 649.59,669.9 649.84,671.0 650.09,672.2 650.34,673.2 650.59,674.1 650.84,674.5 651.09,674.4 651.34,673.9 651.59,673.2 651.84,672.2 652.09,671.2 652.34,670.1 652.59,669.2 652.84,668.3 653.09,667.2 653.34,666.1 653.59,664.9 653.84,663.8 654.09,662.8 654.34,662.1 654.59,661.7 654.84,661.9 655.09,663.4 655.34,665.8 655.59,668.6 655.84,671.2 656.09,673.1 656.34,674.6 656.59,676.1 656.84,677.5 657.09,678.7 657.34,679.6 657.59,680.0 657.84,680.0 658.09,679.5 658.34,678.8 658.59,677.8 658.84,676.6 659.09,675.5 659.34,674.4 659.59,673.4 659.84,672.6 660.09,671.6 660.34,670.7 660.59,669.8 660.84,669.1 661.09,668.7 661.34,668.6 661.59,669.6 661.84,671.5 662.09,673.7 662.34,675.7 662.59,677.0 662.84,677.3 663.09,677.5 663.34,677.6 663.59,677.8 663.84,677.9 664.09,678.0 664.34,678.1 664.59,678.1 664.84,678.1 665.09,678.0 665.34,677.9 665.59,677.8 665.84,677.7 666.09,677.5 666.34,677.3 666.59,677.1 666.84,676.9 667.09,676.4 667.34,675.8 667.59,675.1 667.84,674.4 668.09,673.6 668.34,672.9 668.59,672.3 668.84,671.8 669.09,671.5 669.34,671.6 669.59,672.2 669.84,673.3 670.09,674.5 670.34,675.6 670.59,676.1 670.84,676.0 671.09,675.9 671.34,675.6 671.59,675.3 671.84,674.9 672.09,674.6 672.34,674.3 672.59,674.1 672.84,674.0 673.09,673.9 673.34,673.8 673.59,673.7 673.84,673.7 674.09,673.6 674.34,673.6 674.59,673.5 674.84,673.4 675.09,673.3 675.34,673.2 675.59,673.1 675.84,673.0 676.09,672.8 676.34,672.6 676.59,672.4 676.84,672.1 677.09,671.8 677.34,671.5 677.59,671.1 677.84,670.6 678.09,670.0 678.34,669.2 678.59,668.4 678.84,667.5 679.09,666.6 679.34,665.7 679.59,664.8 679.84,663.9 680.09,662.9 680.34,662.0 680.59,661.7 680.84,662.0 681.09,662.7 681.34,663.4 681.59,663.8 681.84,663.6 682.09,662.9 682.34,662.1 682.59,661.0 682.84,659.8 683.09,658.6 683.34,657.5 683.59,656.5 683.84,655.8 684.09,655.0 684.34,654.3 684.57,653.6" fill="none" stroke="#1a1a1a" stroke-width="1" stroke-linejoin="round"/>
<text x="633.8" y="25.3" class="b" textLength="32.1" lengthAdjust="spacingAndGlyphs">AML</text>
<text x="628.8" y="212.8" class="b" textLength="34.6" lengthAdjust="spacingAndGlyphs">AMR</text>
<text x="626.3" y="389.8" class="b" textLength="25.6" lengthAdjust="spacingAndGlyphs">ASL</text>
<text x="626.3" y="576.7" class="b" textLength="27.5" lengthAdjust="spacingAndGlyphs">ASR</text>
</svg>
</body></html>
